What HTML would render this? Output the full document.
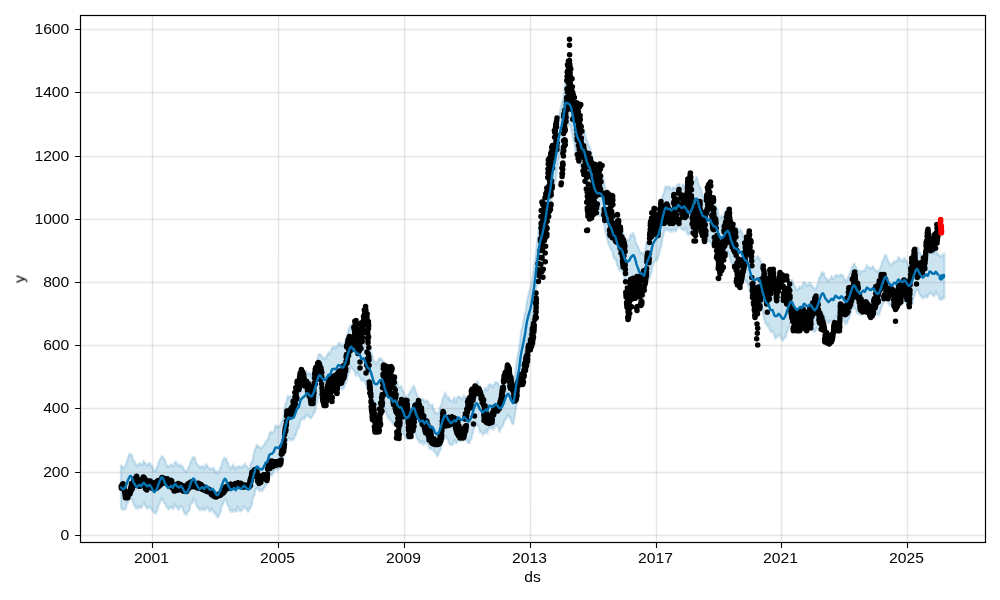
<!DOCTYPE html>
<html><head><meta charset="utf-8"><title>forecast</title>
<style>html,body{margin:0;padding:0;background:#fff;overflow:hidden}body{width:1000px;height:600px;font-family:"Liberation Sans",sans-serif}</style>
</head><body>
<svg width="1000" height="600" viewBox="0 0 1000 600" style="display:block">
<rect width="1000" height="600" fill="#fff"/>
<defs><clipPath id="c"><rect x="80.5" y="15.5" width="905.0" height="527.0"/></clipPath></defs>
<g clip-path="url(#c)">
<polygon points="120.9,465.3 121.4,465.8 121.8,465.9 122.3,466.6 122.7,466.9 123.2,468.2 123.6,468.8 124.1,467.1 124.5,466.4 125.0,466.5 125.4,465.7 125.9,464.4 126.3,462.7 126.8,462.1 127.2,461.2 127.7,458.5 128.1,457.5 128.6,455.6 129.0,454.7 129.5,453.7 129.9,454.3 130.4,453.6 130.8,454.8 131.3,455.6 131.7,455.4 132.2,454.9 132.6,457.5 133.1,459.6 133.5,460.7 134.0,460.4 134.4,461.6 134.9,462.1 135.3,463.2 135.8,465.1 136.2,464.8 136.7,465.7 137.1,466.0 137.6,464.7 138.0,464.5 138.5,464.5 138.9,463.8 139.4,462.7 139.8,463.4 140.3,464.6 140.7,463.5 141.2,465.3 141.6,465.0 142.1,463.9 142.5,464.8 143.0,463.1 143.4,460.5 143.9,461.5 144.3,462.5 144.8,462.5 145.2,463.5 145.7,463.8 146.1,464.9 146.6,465.7 147.0,464.4 147.5,464.8 147.9,464.7 148.4,464.3 148.8,463.0 149.3,462.8 149.7,463.6 150.2,465.2 150.6,465.7 151.1,464.4 151.5,465.5 152.0,467.2 152.4,466.5 152.9,468.3 153.3,469.8 153.8,471.3 154.2,471.3 154.7,470.4 155.1,469.7 155.6,469.7 156.0,470.3 156.5,468.2 156.9,467.0 157.4,466.6 157.8,465.2 158.3,463.5 158.7,461.5 159.2,460.8 159.6,459.9 160.1,460.0 160.5,458.7 161.0,457.2 161.4,456.9 161.9,456.0 162.3,456.9 162.8,457.0 163.2,457.5 163.7,457.5 164.1,459.4 164.6,459.2 165.0,459.9 165.5,461.9 165.9,462.7 166.4,464.7 166.8,466.7 167.3,465.3 167.7,465.7 168.2,466.8 168.6,466.8 169.1,466.0 169.5,465.7 170.0,466.2 170.4,465.5 170.9,464.1 171.3,464.2 171.8,464.9 172.2,464.9 172.7,466.1 173.1,465.7 173.6,466.0 174.0,464.8 174.5,463.5 174.9,462.1 175.4,462.3 175.8,461.4 176.3,462.5 176.7,463.9 177.2,463.3 177.6,465.3 178.1,464.6 178.5,466.0 179.0,465.7 179.4,466.7 179.9,465.6 180.3,464.2 180.8,465.7 181.2,466.4 181.7,465.7 182.1,465.8 182.6,466.3 183.0,466.9 183.5,469.1 183.9,469.1 184.4,470.1 184.8,470.0 185.3,470.3 185.7,470.7 186.2,472.4 186.6,471.5 187.1,471.4 187.5,470.3 188.0,468.6 188.4,467.8 188.9,466.9 189.3,466.1 189.8,464.6 190.2,463.0 190.7,460.9 191.1,460.6 191.6,461.2 192.0,458.7 192.5,457.2 192.9,458.0 193.4,458.1 193.8,456.5 194.3,457.4 194.7,457.6 195.2,458.3 195.6,461.2 196.1,462.4 196.5,463.2 197.0,463.5 197.4,464.8 197.9,465.0 198.3,465.6 198.8,465.6 199.2,466.5 199.7,468.4 200.1,467.3 200.6,467.3 201.0,466.8 201.5,466.1 201.9,465.9 202.4,466.4 202.8,465.7 203.3,466.2 203.7,467.3 204.2,468.8 204.6,468.3 205.1,467.0 205.5,465.1 206.0,463.9 206.4,465.0 206.9,465.7 207.3,465.4 207.8,466.3 208.2,467.3 208.7,468.0 209.1,468.5 209.6,468.1 210.0,469.1 210.5,468.0 210.9,469.2 211.4,469.0 211.8,469.0 212.3,469.4 212.7,469.2 213.2,467.3 213.6,467.3 214.1,469.5 214.5,469.5 215.0,471.0 215.4,472.2 215.9,471.1 216.3,471.1 216.8,473.3 217.2,473.9 217.7,473.4 218.1,472.9 218.6,471.5 219.0,470.4 219.5,470.2 219.9,468.6 220.4,467.3 220.8,467.6 221.3,466.2 221.7,464.7 222.2,462.3 222.6,461.1 223.1,459.7 223.5,458.8 224.0,458.6 224.4,457.6 224.9,457.7 225.3,458.6 225.8,459.8 226.2,458.3 226.7,460.6 227.1,461.6 227.6,462.5 228.0,462.5 228.5,464.1 228.9,465.9 229.4,466.3 229.8,466.9 230.3,467.7 230.7,469.3 231.2,468.4 231.6,466.4 232.1,466.7 232.5,465.4 233.0,464.3 233.4,466.5 233.9,468.1 234.3,467.0 234.8,466.4 235.2,467.4 235.7,469.6 236.1,468.8 236.6,467.7 237.0,466.8 237.5,466.3 237.9,466.3 238.4,466.7 238.8,466.6 239.3,466.1 239.7,467.1 240.2,467.0 240.6,468.0 241.1,466.5 241.5,466.9 242.0,466.9 242.4,466.0 242.9,467.5 243.3,466.7 243.8,464.5 244.2,465.2 244.7,464.7 245.1,463.0 245.6,465.1 246.0,466.1 246.5,466.4 246.9,466.2 247.4,467.3 247.8,468.0 248.3,469.1 248.7,468.7 249.2,468.0 249.6,468.0 250.1,465.8 250.5,464.3 251.0,462.6 251.4,463.8 251.9,462.7 252.3,460.7 252.8,458.5 253.2,456.0 253.7,454.0 254.1,452.0 254.6,450.4 255.0,449.3 255.5,448.9 255.9,447.2 256.4,445.3 256.8,444.6 257.3,444.9 257.7,446.6 258.2,446.8 258.6,446.7 259.1,446.8 259.5,446.6 260.0,447.6 260.4,448.5 260.9,447.8 261.3,447.7 261.8,447.9 262.2,447.9 262.7,446.3 263.1,446.0 263.6,445.2 264.0,445.3 264.5,443.6 264.9,443.7 265.4,443.4 265.8,441.2 266.3,440.6 266.7,441.0 267.2,440.7 267.6,438.8 268.1,438.5 268.5,438.1 269.0,434.9 269.4,433.2 269.9,432.4 270.3,432.8 270.8,431.6 271.2,431.7 271.7,433.1 272.1,432.1 272.6,432.9 273.0,432.9 273.5,431.5 273.9,431.0 274.4,430.6 274.8,427.8 275.3,425.7 275.7,425.2 276.2,426.4 276.6,427.6 277.1,427.2 277.5,425.7 278.0,425.6 278.4,426.2 278.9,427.0 279.3,426.4 279.8,426.3 280.2,425.9 280.7,424.3 281.1,423.2 281.6,422.1 282.0,420.6 282.5,419.5 282.9,418.8 283.4,416.1 283.8,412.9 284.3,409.6 284.7,408.3 285.2,404.8 285.6,403.3 286.1,403.4 286.5,401.7 287.0,399.0 287.4,396.5 287.9,395.9 288.3,395.9 288.8,397.0 289.2,398.2 289.7,397.0 290.1,396.1 290.6,396.2 291.0,397.0 291.5,396.8 291.9,396.0 292.4,396.4 292.8,395.9 293.3,397.3 293.7,397.6 294.2,396.3 294.6,394.0 295.1,393.1 295.5,391.6 296.0,390.0 296.4,388.5 296.9,386.5 297.3,385.8 297.8,387.1 298.2,386.6 298.7,386.5 299.1,385.0 299.6,381.4 300.0,380.0 300.5,379.4 300.9,378.4 301.4,377.6 301.8,378.0 302.3,376.9 302.7,375.3 303.2,375.3 303.6,376.4 304.1,375.3 304.5,373.5 305.0,375.5 305.4,375.1 305.9,374.4 306.3,372.3 306.8,371.1 307.2,371.4 307.7,374.0 308.1,373.1 308.6,374.0 309.0,373.2 309.5,373.5 309.9,373.0 310.4,374.5 310.8,375.5 311.3,374.5 311.7,375.9 312.2,374.7 312.6,372.7 313.1,372.0 313.5,371.2 314.0,370.2 314.4,368.5 314.9,367.0 315.3,365.5 315.8,363.3 316.2,361.4 316.7,361.0 317.1,360.2 317.6,357.2 318.0,356.4 318.5,354.9 318.9,354.0 319.4,354.4 319.8,354.2 320.3,355.2 320.7,354.4 321.2,355.6 321.6,356.0 322.1,356.5 322.5,357.7 323.0,357.8 323.4,358.4 323.9,358.1 324.3,357.5 324.8,358.4 325.2,359.2 325.7,358.9 326.1,357.0 326.6,356.2 327.0,354.7 327.5,355.2 327.9,353.3 328.4,351.9 328.8,353.2 329.3,354.1 329.7,352.4 330.2,352.3 330.6,351.3 331.1,350.0 331.5,349.7 332.0,347.7 332.4,347.1 332.9,347.9 333.3,347.2 333.8,347.7 334.2,346.8 334.7,346.3 335.1,346.5 335.6,348.7 336.0,347.5 336.5,347.2 336.9,346.4 337.4,345.6 337.8,345.0 338.3,345.2 338.7,343.1 339.2,342.3 339.6,342.7 340.1,343.3 340.5,345.5 341.0,346.0 341.4,345.0 341.9,344.7 342.3,345.9 342.8,346.6 343.2,344.1 343.7,344.8 344.1,343.8 344.6,344.0 345.0,341.7 345.5,340.4 345.9,338.4 346.4,337.7 346.8,338.0 347.3,336.1 347.7,333.1 348.2,330.7 348.6,328.7 349.1,328.4 349.5,327.6 350.0,326.6 350.4,325.5 350.9,324.3 351.3,325.2 351.8,325.9 352.2,327.7 352.7,329.0 353.1,328.2 353.6,328.3 354.0,329.0 354.5,329.0 354.9,329.2 355.4,329.9 355.8,329.9 356.3,331.3 356.7,331.8 357.2,332.2 357.6,332.1 358.1,331.8 358.5,331.9 359.0,332.7 359.4,333.0 359.9,333.8 360.3,334.4 360.8,334.7 361.2,336.5 361.7,336.7 362.1,336.8 362.6,336.6 363.0,335.4 363.5,336.6 363.9,337.6 364.4,338.4 364.8,339.1 365.3,340.1 365.7,341.0 366.2,342.5 366.6,343.7 367.1,344.7 367.5,344.9 368.0,346.7 368.4,347.1 368.9,346.9 369.3,347.0 369.8,347.8 370.2,347.8 370.7,350.4 371.1,351.9 371.6,353.4 372.0,354.9 372.5,355.7 372.9,357.6 373.4,359.8 373.8,360.9 374.3,361.4 374.7,361.3 375.2,363.0 375.6,364.1 376.1,364.1 376.5,362.9 377.0,361.5 377.4,362.7 377.9,361.5 378.3,359.2 378.8,360.1 379.2,358.4 379.7,357.9 380.1,358.5 380.6,359.5 381.0,358.3 381.5,358.8 381.9,360.3 382.4,360.7 382.8,360.4 383.3,360.7 383.7,361.4 384.2,363.7 384.6,366.5 385.1,368.3 385.5,369.4 386.0,370.9 386.4,371.0 386.9,372.6 387.3,374.5 387.8,375.8 388.2,377.1 388.7,376.7 389.1,376.2 389.6,376.5 390.0,375.5 390.5,375.3 390.9,377.1 391.4,377.2 391.8,377.8 392.3,377.5 392.7,379.2 393.2,379.9 393.6,379.0 394.1,377.8 394.5,379.0 395.0,379.9 395.4,380.1 395.9,380.2 396.3,381.3 396.8,382.2 397.2,380.9 397.7,383.4 398.1,385.2 398.6,386.3 399.0,387.6 399.5,387.7 399.9,386.7 400.4,386.5 400.8,386.5 401.3,385.9 401.7,387.2 402.2,389.2 402.6,390.7 403.1,390.4 403.5,391.3 404.0,393.0 404.4,395.1 404.9,395.4 405.3,396.7 405.8,395.9 406.2,396.5 406.7,396.7 407.1,397.5 407.6,397.2 408.0,394.7 408.5,394.3 408.9,394.7 409.4,393.1 409.8,391.6 410.3,392.3 410.7,391.2 411.2,390.0 411.6,388.7 412.1,388.7 412.5,387.4 413.0,387.5 413.4,385.8 413.9,385.9 414.3,387.4 414.8,387.9 415.2,390.1 415.7,391.3 416.1,391.9 416.6,393.7 417.0,394.8 417.5,396.3 417.9,396.3 418.4,397.4 418.8,399.9 419.3,402.0 419.7,402.3 420.2,400.5 420.6,400.4 421.1,401.1 421.5,399.7 422.0,398.8 422.4,399.5 422.9,399.7 423.3,399.2 423.8,399.2 424.2,400.4 424.7,402.2 425.1,401.0 425.6,400.7 426.0,400.7 426.5,400.3 426.9,400.3 427.4,401.2 427.8,401.0 428.3,401.8 428.7,402.7 429.2,404.9 429.6,404.9 430.1,404.7 430.5,405.4 431.0,406.2 431.4,406.3 431.9,404.5 432.3,404.4 432.8,406.1 433.2,409.3 433.7,409.2 434.1,409.0 434.6,411.0 435.0,412.8 435.5,411.8 435.9,412.3 436.4,413.7 436.8,413.6 437.3,413.6 437.7,412.9 438.2,414.0 438.6,413.3 439.1,411.6 439.5,409.7 440.0,406.9 440.4,407.2 440.9,405.8 441.3,404.6 441.8,403.1 442.2,400.4 442.7,398.1 443.1,398.0 443.6,396.3 444.0,395.1 444.5,394.2 444.9,393.2 445.4,392.2 445.8,394.8 446.3,395.2 446.7,396.8 447.2,398.3 447.6,397.4 448.1,396.5 448.5,397.4 449.0,398.1 449.4,399.3 449.9,400.1 450.3,399.5 450.8,401.3 451.2,400.8 451.7,401.4 452.1,401.0 452.6,400.4 453.0,400.0 453.5,399.2 453.9,398.3 454.4,397.3 454.8,399.3 455.3,401.7 455.7,402.5 456.2,401.6 456.6,399.7 457.1,397.9 457.5,398.1 458.0,396.3 458.4,396.2 458.9,396.4 459.3,396.9 459.8,397.0 460.2,397.5 460.7,397.3 461.1,398.4 461.6,400.2 462.0,398.7 462.5,398.1 462.9,398.0 463.4,397.2 463.8,395.1 464.3,395.7 464.7,397.1 465.2,397.0 465.6,397.5 466.1,398.8 466.5,398.0 467.0,398.7 467.4,399.6 467.9,400.6 468.3,398.6 468.8,399.1 469.2,399.5 469.7,399.8 470.1,399.4 470.6,398.7 471.0,395.6 471.5,395.6 471.9,393.9 472.4,392.2 472.8,391.2 473.3,388.3 473.7,385.8 474.2,385.5 474.6,383.9 475.1,383.5 475.5,383.5 476.0,383.3 476.4,383.3 476.9,382.0 477.3,381.1 477.8,381.9 478.2,383.0 478.7,384.2 479.1,386.5 479.6,386.5 480.0,386.4 480.5,388.8 480.9,389.4 481.4,390.1 481.8,390.7 482.3,391.5 482.7,391.5 483.2,391.8 483.6,391.0 484.1,390.3 484.5,389.5 485.0,387.8 485.4,388.0 485.9,387.9 486.3,388.5 486.8,388.3 487.2,390.6 487.7,389.1 488.1,386.4 488.6,384.8 489.0,384.8 489.5,384.1 489.9,383.9 490.4,384.4 490.8,384.3 491.3,385.2 491.7,384.8 492.2,385.6 492.6,386.9 493.1,387.6 493.5,385.0 494.0,384.3 494.4,383.7 494.9,383.8 495.3,381.9 495.8,382.2 496.2,382.9 496.7,382.5 497.1,382.8 497.6,383.4 498.0,382.9 498.5,384.0 498.9,385.8 499.4,386.6 499.8,386.2 500.3,385.3 500.7,386.3 501.2,387.1 501.6,386.6 502.1,385.3 502.5,383.9 503.0,383.8 503.4,382.1 503.9,380.2 504.3,379.5 504.8,379.9 505.2,378.2 505.7,377.4 506.1,375.4 506.6,374.9 507.0,373.1 507.5,373.2 507.9,374.7 508.4,373.9 508.8,373.1 509.3,373.9 509.7,375.8 510.2,377.5 510.6,377.2 511.1,377.1 511.5,378.8 512.0,380.1 512.4,381.2 512.9,382.7 513.3,382.3 513.8,380.1 514.2,376.5 514.7,375.0 515.1,373.2 515.6,369.3 516.0,365.6 516.5,362.7 516.9,360.5 517.4,355.9 517.8,354.1 518.3,352.7 518.7,350.7 519.2,346.8 519.6,343.5 520.1,339.8 520.5,336.4 521.0,332.8 521.4,329.9 521.9,328.6 522.3,327.0 522.8,323.7 523.2,322.0 523.7,320.5 524.1,317.1 524.6,315.0 525.0,312.3 525.5,311.4 525.9,309.7 526.4,306.1 526.8,301.4 527.3,299.7 527.7,297.5 528.2,295.7 528.6,294.6 529.1,291.4 529.5,291.0 530.0,289.3 530.4,288.6 530.9,285.6 531.3,282.8 531.8,281.5 532.2,279.3 532.7,275.9 533.1,273.0 533.6,268.9 534.0,264.5 534.5,263.3 534.9,260.2 535.4,256.0 535.8,252.2 536.3,248.8 536.7,244.0 537.2,240.0 537.6,237.2 538.1,234.4 538.5,229.8 539.0,228.0 539.4,223.9 539.9,221.4 540.3,220.8 540.8,217.8 541.2,215.3 541.7,214.6 542.1,214.4 542.6,212.7 543.0,209.6 543.5,208.0 543.9,206.1 544.4,203.2 544.8,201.6 545.3,199.3 545.7,196.1 546.2,193.1 546.6,190.5 547.1,187.4 547.5,183.9 548.0,181.1 548.4,179.2 548.9,176.1 549.3,174.4 549.8,172.5 550.2,170.2 550.7,167.5 551.1,162.0 551.6,158.9 552.0,155.1 552.5,153.5 552.9,150.8 553.4,145.6 553.8,143.8 554.3,143.2 554.7,141.5 555.2,139.2 555.6,136.2 556.1,134.0 556.5,131.6 557.0,128.5 557.4,125.4 557.9,120.3 558.3,118.6 558.8,116.1 559.2,115.0 559.7,112.2 560.1,109.7 560.6,108.6 561.0,106.0 561.5,103.8 561.9,101.8 562.4,100.8 562.8,99.5 563.3,97.5 563.7,93.9 564.2,91.2 564.6,87.4 565.1,84.0 565.5,81.7 566.0,82.4 566.4,81.8 566.9,81.7 567.3,81.8 567.8,81.9 568.2,81.6 568.7,83.1 569.1,82.8 569.6,83.3 570.0,83.2 570.5,84.8 570.9,85.8 571.4,87.6 571.8,91.1 572.3,92.6 572.7,95.9 573.2,97.8 573.6,99.0 574.1,101.2 574.5,104.0 575.0,105.9 575.4,107.8 575.9,109.3 576.3,110.3 576.8,113.0 577.2,113.4 577.7,116.0 578.1,116.7 578.6,117.6 579.0,118.9 579.5,119.9 579.9,119.4 580.4,120.1 580.8,122.2 581.3,123.4 581.7,126.4 582.2,128.6 582.6,127.6 583.1,128.4 583.5,127.7 584.0,129.4 584.4,130.9 584.9,132.7 585.3,135.2 585.8,137.7 586.2,138.4 586.7,139.5 587.1,140.3 587.6,142.6 588.0,143.8 588.5,145.3 588.9,145.9 589.4,147.1 589.8,145.6 590.3,148.2 590.7,151.1 591.2,152.0 591.6,153.4 592.1,155.7 592.5,157.4 593.0,161.1 593.4,165.2 593.9,165.9 594.3,165.5 594.8,167.0 595.2,168.6 595.7,170.3 596.1,169.9 596.6,170.6 597.0,172.3 597.5,172.7 597.9,171.8 598.4,170.8 598.8,170.4 599.3,170.6 599.7,170.2 600.2,172.3 600.6,172.2 601.1,173.4 601.5,175.2 602.0,175.1 602.4,174.4 602.9,177.5 603.3,179.6 603.8,180.1 604.2,182.3 604.7,185.1 605.1,187.1 605.6,190.5 606.0,190.0 606.5,192.3 606.9,195.2 607.4,197.3 607.8,199.5 608.3,201.4 608.7,202.3 609.2,203.5 609.6,202.3 610.1,204.1 610.5,204.9 611.0,206.3 611.4,207.2 611.9,207.6 612.3,209.6 612.8,212.5 613.2,213.9 613.7,213.8 614.1,216.2 614.6,216.5 615.0,214.1 615.5,216.2 615.9,219.6 616.4,220.1 616.8,220.9 617.3,222.0 617.7,223.4 618.2,224.5 618.6,225.3 619.1,226.8 619.5,226.8 620.0,226.6 620.4,226.2 620.9,226.8 621.3,226.8 621.8,228.6 622.2,230.7 622.7,231.5 623.1,232.7 623.6,234.0 624.0,235.1 624.5,236.3 624.9,237.6 625.4,239.0 625.8,239.1 626.3,241.3 626.7,240.6 627.2,239.8 627.6,239.8 628.1,239.6 628.5,239.7 629.0,239.1 629.4,239.6 629.9,237.2 630.3,235.0 630.8,234.9 631.2,233.9 631.7,234.9 632.1,235.7 632.6,234.6 633.0,232.8 633.5,233.4 633.9,235.7 634.4,236.0 634.8,236.7 635.3,239.3 635.7,242.2 636.2,243.0 636.6,243.6 637.1,244.8 637.5,246.1 638.0,246.2 638.4,247.0 638.9,248.9 639.3,249.6 639.8,251.4 640.2,252.4 640.7,253.8 641.1,252.0 641.6,252.1 642.0,252.5 642.5,253.3 642.9,253.8 643.4,253.3 643.8,253.5 644.3,251.9 644.7,251.4 645.2,250.3 645.6,247.5 646.1,244.3 646.5,242.2 647.0,241.2 647.4,240.3 647.9,238.5 648.3,237.2 648.8,235.1 649.2,234.9 649.7,235.5 650.1,231.9 650.6,231.5 651.0,230.9 651.5,228.5 651.9,226.1 652.4,224.7 652.8,223.2 653.3,221.8 653.7,219.7 654.2,219.7 654.6,218.8 655.1,218.5 655.5,218.6 656.0,218.7 656.4,217.8 656.9,215.9 657.3,216.5 657.8,216.5 658.2,215.3 658.7,213.9 659.1,211.4 659.6,209.7 660.0,208.4 660.5,205.3 660.9,204.2 661.4,201.8 661.8,199.4 662.3,196.3 662.7,194.9 663.2,194.2 663.6,193.3 664.1,191.5 664.5,189.2 665.0,187.5 665.4,186.3 665.9,186.8 666.3,186.4 666.8,187.4 667.2,188.6 667.7,187.5 668.1,186.4 668.6,186.5 669.0,186.0 669.5,186.6 669.9,188.4 670.4,188.3 670.8,187.6 671.3,189.7 671.7,189.9 672.2,188.2 672.6,187.3 673.1,187.2 673.5,187.5 674.0,187.6 674.4,187.7 674.9,188.1 675.3,188.6 675.8,189.1 676.2,188.1 676.7,185.5 677.1,185.4 677.6,185.0 678.0,183.8 678.5,184.5 678.9,183.9 679.4,184.0 679.8,186.2 680.3,186.4 680.7,186.5 681.2,187.3 681.6,187.6 682.1,186.6 682.5,184.6 683.0,185.0 683.4,185.0 683.9,184.3 684.3,185.4 684.8,186.7 685.2,185.9 685.7,186.2 686.1,189.0 686.6,188.3 687.0,188.3 687.5,190.4 687.9,191.2 688.4,191.0 688.8,192.2 689.3,191.5 689.7,190.6 690.2,191.0 690.6,190.9 691.1,189.2 691.5,188.7 692.0,188.2 692.4,188.7 692.9,185.4 693.3,184.7 693.8,182.5 694.2,181.2 694.7,180.8 695.1,180.1 695.6,179.2 696.0,177.7 696.5,176.7 696.9,177.4 697.4,179.3 697.8,180.8 698.3,182.9 698.7,184.1 699.2,186.3 699.6,188.1 700.1,188.0 700.5,187.6 701.0,188.6 701.4,190.3 701.9,193.4 702.3,193.6 702.8,195.7 703.2,196.0 703.7,196.8 704.1,196.4 704.6,195.5 705.0,195.4 705.5,195.8 705.9,195.9 706.4,196.4 706.8,198.1 707.3,199.9 707.7,198.4 708.2,198.7 708.6,198.0 709.1,198.5 709.5,198.6 710.0,198.7 710.4,199.5 710.9,199.1 711.3,201.4 711.8,201.8 712.2,203.3 712.7,203.4 713.1,201.9 713.6,203.7 714.0,205.7 714.5,206.7 714.9,205.8 715.4,205.1 715.8,204.8 716.3,207.9 716.7,209.4 717.2,208.9 717.6,209.3 718.1,209.9 718.5,213.4 719.0,216.5 719.4,216.2 719.9,216.9 720.3,216.9 720.8,216.4 721.2,217.4 721.7,215.9 722.1,216.2 722.6,216.6 723.0,216.6 723.5,215.9 723.9,214.9 724.4,212.9 724.8,211.7 725.3,211.6 725.7,210.5 726.2,209.3 726.6,208.8 727.1,208.6 727.5,207.7 728.0,207.8 728.4,208.6 728.9,211.2 729.3,213.1 729.8,215.4 730.2,214.6 730.7,216.6 731.1,219.5 731.6,220.0 732.0,221.3 732.5,223.7 732.9,223.4 733.4,223.4 733.8,224.6 734.3,226.7 734.7,226.9 735.2,225.7 735.6,226.2 736.1,227.7 736.5,228.0 737.0,227.5 737.4,228.4 737.9,229.3 738.3,228.7 738.8,230.7 739.2,231.8 739.7,230.4 740.1,229.0 740.6,230.1 741.0,231.2 741.5,232.2 741.9,231.2 742.4,234.6 742.8,234.0 743.3,236.2 743.7,237.9 744.2,238.4 744.6,238.2 745.1,238.0 745.5,239.6 746.0,238.5 746.4,237.9 746.9,241.7 747.3,242.0 747.8,243.1 748.2,242.6 748.7,245.7 749.1,248.1 749.6,249.7 750.0,250.0 750.5,250.9 750.9,252.5 751.4,252.6 751.8,254.4 752.3,256.7 752.7,256.8 753.2,257.8 753.6,259.0 754.1,260.6 754.5,260.3 755.0,259.3 755.4,259.5 755.9,257.8 756.3,257.6 756.8,257.9 757.2,256.5 757.7,256.5 758.1,256.1 758.6,257.4 759.0,258.9 759.5,257.9 759.9,259.2 760.4,260.0 760.8,261.0 761.3,263.7 761.7,268.2 762.2,271.2 762.6,271.4 763.1,271.8 763.5,274.0 764.0,275.2 764.4,277.3 764.9,278.6 765.3,280.1 765.8,281.2 766.2,280.8 766.7,280.9 767.1,280.6 767.6,281.6 768.0,281.8 768.5,283.0 768.9,283.4 769.4,285.5 769.8,287.0 770.3,287.1 770.7,287.6 771.2,288.0 771.6,289.5 772.1,290.5 772.5,289.7 773.0,290.2 773.4,292.0 773.9,291.8 774.3,294.7 774.8,293.5 775.2,292.8 775.7,296.7 776.1,296.4 776.6,294.3 777.0,294.5 777.5,293.8 777.9,293.0 778.4,291.2 778.8,292.0 779.3,293.4 779.7,294.1 780.2,295.1 780.6,295.5 781.1,297.2 781.5,296.0 782.0,296.6 782.4,295.3 782.9,296.2 783.3,298.3 783.8,296.9 784.2,296.9 784.7,295.8 785.1,294.3 785.6,293.5 786.0,292.4 786.5,291.5 786.9,291.1 787.4,289.5 787.8,286.8 788.3,285.1 788.7,284.8 789.2,283.8 789.6,283.8 790.1,284.0 790.5,282.0 791.0,280.2 791.4,280.0 791.9,279.8 792.3,280.0 792.8,281.2 793.2,282.8 793.7,284.2 794.1,285.8 794.6,285.7 795.0,286.0 795.5,286.3 795.9,288.8 796.4,289.3 796.8,290.5 797.3,290.0 797.7,289.6 798.2,288.0 798.6,288.4 799.1,289.0 799.5,286.1 800.0,286.9 800.4,287.3 800.9,286.9 801.3,287.4 801.8,287.9 802.2,286.0 802.7,285.3 803.1,283.4 803.6,282.3 804.0,281.8 804.5,282.5 804.9,283.2 805.4,283.5 805.8,283.1 806.3,285.9 806.7,286.2 807.2,285.6 807.6,284.7 808.1,284.9 808.5,285.3 809.0,284.3 809.4,282.4 809.9,283.9 810.3,285.6 810.8,283.0 811.2,284.8 811.7,285.3 812.1,285.9 812.6,287.3 813.0,286.4 813.5,288.2 813.9,289.5 814.4,288.7 814.8,288.5 815.3,288.5 815.7,287.9 816.2,288.4 816.6,286.4 817.1,285.9 817.5,283.8 818.0,283.8 818.4,281.6 818.9,278.3 819.3,278.3 819.8,276.7 820.2,276.2 820.7,276.3 821.1,273.3 821.6,272.3 822.0,273.6 822.5,272.6 822.9,273.7 823.4,273.1 823.8,272.5 824.3,274.3 824.7,276.7 825.2,277.6 825.6,277.5 826.1,277.9 826.5,278.2 827.0,278.9 827.4,281.1 827.9,280.3 828.3,279.6 828.8,280.0 829.2,280.7 829.7,280.3 830.1,279.0 830.6,278.1 831.0,277.7 831.5,276.0 831.9,276.2 832.4,278.2 832.8,278.2 833.3,279.3 833.7,279.3 834.2,277.9 834.6,276.7 835.1,277.0 835.5,275.4 836.0,274.7 836.4,275.6 836.9,275.7 837.3,275.1 837.8,276.0 838.2,276.1 838.7,274.9 839.1,276.1 839.6,276.5 840.0,275.8 840.5,274.4 840.9,274.7 841.4,274.7 841.8,275.1 842.3,274.9 842.7,276.2 843.2,275.8 843.6,277.4 844.1,279.3 844.5,278.7 845.0,279.6 845.4,281.0 845.9,280.4 846.3,280.6 846.8,280.8 847.2,280.3 847.7,277.3 848.1,277.0 848.6,276.1 849.0,275.0 849.5,274.1 849.9,273.0 850.4,272.2 850.8,270.2 851.3,269.5 851.7,268.5 852.2,266.6 852.6,266.2 853.1,266.5 853.5,264.9 854.0,263.3 854.4,263.8 854.9,263.9 855.3,265.5 855.8,267.0 856.2,266.9 856.7,268.5 857.1,270.1 857.6,269.7 858.0,270.3 858.5,270.0 858.9,270.5 859.4,271.9 859.8,274.2 860.3,272.4 860.7,271.3 861.2,270.8 861.6,270.9 862.1,271.1 862.5,270.8 863.0,271.4 863.4,270.4 863.9,271.2 864.3,271.0 864.8,271.0 865.2,268.7 865.7,268.4 866.1,267.7 866.6,266.2 867.0,264.7 867.5,266.8 867.9,266.7 868.4,266.8 868.8,267.4 869.3,268.0 869.7,268.6 870.2,267.4 870.6,267.7 871.1,268.9 871.5,268.5 872.0,267.4 872.4,266.5 872.9,265.9 873.3,267.2 873.8,268.4 874.2,267.8 874.7,270.0 875.1,270.5 875.6,270.3 876.0,271.4 876.5,270.4 876.9,270.1 877.4,271.0 877.8,272.1 878.3,271.8 878.7,271.2 879.2,270.6 879.6,268.6 880.1,268.8 880.5,266.9 881.0,266.1 881.4,264.8 881.9,262.7 882.3,261.0 882.8,260.1 883.2,260.0 883.7,259.5 884.1,258.1 884.6,256.0 885.0,255.1 885.5,254.9 885.9,255.9 886.4,255.2 886.8,257.8 887.3,258.1 887.7,258.8 888.2,261.0 888.6,262.3 889.1,262.5 889.5,263.4 890.0,263.5 890.4,264.8 890.9,265.3 891.3,265.1 891.8,265.4 892.2,264.2 892.7,263.2 893.1,262.0 893.6,262.1 894.0,262.2 894.5,260.6 894.9,261.8 895.4,262.3 895.8,262.1 896.3,260.8 896.7,261.2 897.2,261.0 897.6,259.1 898.1,258.0 898.5,256.5 899.0,258.5 899.4,258.6 899.9,259.4 900.3,258.4 900.8,260.2 901.2,260.6 901.7,261.0 902.1,259.9 902.6,260.5 903.0,261.9 903.5,259.3 903.9,258.2 904.4,258.1 904.8,258.5 905.3,260.8 905.7,261.6 906.2,260.2 906.6,260.2 907.1,263.2 907.5,264.5 908.0,265.0 908.4,265.1 908.9,263.9 909.3,264.1 909.8,262.6 910.2,262.2 910.7,263.3 911.1,262.1 911.6,262.7 912.0,260.3 912.5,258.4 912.9,258.2 913.4,257.6 913.8,254.9 914.3,252.2 914.7,252.2 915.2,251.8 915.6,249.2 916.1,248.1 916.5,248.8 917.0,247.8 917.4,247.1 917.9,247.8 918.3,248.6 918.8,250.5 919.2,251.9 919.7,253.8 920.1,253.7 920.6,252.7 921.0,254.6 921.5,255.8 921.9,256.2 922.4,256.8 922.8,256.1 923.3,255.4 923.7,256.0 924.2,254.0 924.6,252.9 925.1,254.5 925.5,253.3 926.0,252.5 926.4,251.9 926.9,252.2 927.3,252.9 927.8,253.9 928.2,253.2 928.7,250.7 929.1,251.3 929.6,249.4 930.0,249.2 930.5,250.8 930.9,250.5 931.4,250.3 931.8,252.7 932.3,251.8 932.7,252.4 933.2,253.0 933.6,253.7 934.1,252.7 934.5,252.7 935.0,251.3 935.4,251.5 935.9,250.2 936.3,251.1 936.8,253.2 937.2,252.7 937.7,253.4 938.1,255.5 938.6,254.9 939.0,254.9 939.5,255.8 939.9,255.2 940.4,257.0 940.8,257.4 941.3,255.7 941.7,255.3 942.2,255.7 942.6,255.3 943.1,254.5 943.5,254.9 944.0,253.2 944.4,253.9 944.4,298.3 944.0,297.0 943.5,299.0 943.1,298.8 942.6,297.5 942.2,298.5 941.7,300.0 941.3,298.7 940.8,299.7 940.4,298.1 939.9,298.0 939.5,299.4 939.0,298.7 938.6,296.3 938.1,294.8 937.7,294.9 937.2,294.6 936.8,294.2 936.3,293.8 935.9,291.3 935.4,293.6 935.0,294.9 934.5,295.8 934.1,296.6 933.6,296.0 933.2,294.8 932.7,295.1 932.3,294.3 931.8,294.5 931.4,294.1 930.9,293.8 930.5,292.3 930.0,292.8 929.6,292.8 929.1,294.0 928.7,295.6 928.2,295.0 927.8,295.9 927.3,297.7 926.9,297.8 926.4,297.6 926.0,295.6 925.5,296.1 925.1,296.5 924.6,297.8 924.2,297.2 923.7,296.7 923.3,297.5 922.8,297.1 922.4,298.7 921.9,297.4 921.5,296.6 921.0,295.9 920.6,296.3 920.1,295.6 919.7,294.0 919.2,293.6 918.8,292.3 918.3,291.0 917.9,289.7 917.4,290.1 917.0,290.1 916.5,290.7 916.1,290.2 915.6,292.1 915.2,294.0 914.7,295.0 914.3,295.9 913.8,296.5 913.4,297.9 912.9,300.5 912.5,304.0 912.0,302.9 911.6,303.7 911.1,305.1 910.7,305.7 910.2,307.1 909.8,306.7 909.3,306.3 908.9,307.0 908.4,308.6 908.0,306.3 907.5,304.2 907.1,305.1 906.6,303.5 906.2,302.8 905.7,302.0 905.3,302.3 904.8,302.3 904.4,302.0 903.9,302.4 903.5,302.5 903.0,302.7 902.6,303.4 902.1,304.0 901.7,304.0 901.2,303.8 900.8,303.8 900.3,301.8 899.9,300.5 899.4,300.9 899.0,301.3 898.5,302.1 898.1,301.9 897.6,303.2 897.2,302.9 896.7,302.9 896.3,304.1 895.8,304.7 895.4,303.8 894.9,303.1 894.5,303.9 894.0,304.6 893.6,305.4 893.1,304.9 892.7,305.4 892.2,306.1 891.8,306.9 891.3,306.6 890.9,304.6 890.4,304.8 890.0,305.7 889.5,305.6 889.1,304.5 888.6,303.2 888.2,303.1 887.7,301.9 887.3,299.8 886.8,299.0 886.4,299.7 885.9,299.7 885.5,299.0 885.0,297.5 884.6,298.0 884.1,299.0 883.7,302.3 883.2,304.0 882.8,304.2 882.3,304.5 881.9,306.8 881.4,308.0 881.0,308.6 880.5,310.4 880.1,312.1 879.6,313.4 879.2,315.2 878.7,314.1 878.3,313.7 877.8,315.5 877.4,314.4 876.9,314.1 876.5,313.9 876.0,314.1 875.6,312.9 875.1,310.3 874.7,310.5 874.2,310.1 873.8,308.3 873.3,309.0 872.9,309.3 872.4,311.4 872.0,311.5 871.5,311.0 871.1,311.4 870.6,311.1 870.2,310.4 869.7,311.3 869.3,311.2 868.8,310.2 868.4,310.0 867.9,309.1 867.5,309.6 867.0,309.8 866.6,309.8 866.1,310.4 865.7,309.8 865.2,310.8 864.8,311.3 864.3,311.8 863.9,311.8 863.4,312.3 863.0,312.4 862.5,312.5 862.1,313.6 861.6,312.9 861.2,314.6 860.7,315.4 860.3,315.0 859.8,313.4 859.4,313.0 858.9,313.8 858.5,314.2 858.0,313.8 857.6,312.3 857.1,312.0 856.7,312.7 856.2,312.0 855.8,310.0 855.3,308.9 854.9,307.9 854.4,307.3 854.0,306.5 853.5,307.5 853.1,308.8 852.6,308.6 852.2,309.3 851.7,310.2 851.3,312.1 850.8,313.1 850.4,314.5 849.9,315.9 849.5,317.7 849.0,318.8 848.6,319.7 848.1,319.8 847.7,321.6 847.2,323.6 846.8,322.1 846.3,321.8 845.9,324.2 845.4,324.3 845.0,322.4 844.5,321.3 844.1,321.1 843.6,321.1 843.2,319.8 842.7,319.5 842.3,316.7 841.8,317.4 841.4,318.8 840.9,318.8 840.5,317.3 840.0,318.4 839.6,320.7 839.1,320.0 838.7,318.6 838.2,318.3 837.8,319.2 837.3,318.3 836.9,316.4 836.4,318.6 836.0,317.3 835.5,316.7 835.1,316.6 834.6,317.8 834.2,320.5 833.7,320.2 833.3,320.8 832.8,321.1 832.4,321.3 831.9,321.9 831.5,320.9 831.0,320.5 830.6,321.1 830.1,321.6 829.7,322.9 829.2,322.8 828.8,323.6 828.3,322.7 827.9,321.0 827.4,321.4 827.0,321.3 826.5,320.3 826.1,321.2 825.6,318.6 825.2,317.5 824.7,316.4 824.3,317.2 823.8,314.9 823.4,314.8 822.9,313.4 822.5,314.9 822.0,315.4 821.6,315.9 821.1,316.7 820.7,318.2 820.2,318.7 819.8,321.0 819.3,322.1 818.9,324.1 818.4,325.1 818.0,326.4 817.5,326.8 817.1,328.4 816.6,328.6 816.2,329.8 815.7,330.4 815.3,331.3 814.8,332.2 814.4,332.3 813.9,331.0 813.5,330.8 813.0,329.9 812.6,331.0 812.1,329.8 811.7,327.1 811.2,326.7 810.8,326.1 810.3,326.0 809.9,325.3 809.4,325.3 809.0,326.9 808.5,328.0 808.1,328.7 807.6,328.7 807.2,328.0 806.7,327.5 806.3,326.9 805.8,325.5 805.4,325.9 804.9,326.2 804.5,325.3 804.0,324.8 803.6,327.8 803.1,327.6 802.7,327.6 802.2,328.1 801.8,329.9 801.3,328.9 800.9,328.1 800.4,329.7 800.0,328.4 799.5,329.1 799.1,330.3 798.6,330.0 798.2,330.7 797.7,331.9 797.3,330.2 796.8,331.4 796.4,330.8 795.9,329.2 795.5,328.9 795.0,328.9 794.6,327.5 794.1,326.8 793.7,326.1 793.2,325.8 792.8,325.0 792.3,324.0 791.9,324.1 791.4,323.0 791.0,322.7 790.5,323.3 790.1,323.7 789.6,324.8 789.2,326.8 788.7,327.2 788.3,328.3 787.8,329.9 787.4,331.5 786.9,332.7 786.5,333.3 786.0,336.8 785.6,337.4 785.1,337.4 784.7,337.8 784.2,338.7 783.8,338.9 783.3,339.6 782.9,341.0 782.4,339.6 782.0,338.8 781.5,338.7 781.1,338.1 780.6,336.3 780.2,335.3 779.7,334.2 779.3,335.1 778.8,335.7 778.4,335.9 777.9,337.0 777.5,336.2 777.0,336.7 776.6,336.6 776.1,337.7 775.7,338.8 775.2,338.4 774.8,336.2 774.3,335.5 773.9,333.7 773.4,332.2 773.0,331.9 772.5,332.1 772.1,331.7 771.6,332.3 771.2,331.3 770.7,331.6 770.3,330.2 769.8,330.6 769.4,328.6 768.9,327.2 768.5,325.5 768.0,324.2 767.6,325.5 767.1,326.3 766.7,325.5 766.2,323.4 765.8,323.1 765.3,323.3 764.9,320.7 764.4,319.1 764.0,317.8 763.5,316.2 763.1,313.4 762.6,312.0 762.2,310.7 761.7,309.7 761.3,307.1 760.8,305.7 760.4,304.8 759.9,302.3 759.5,301.6 759.0,300.4 758.6,300.9 758.1,300.9 757.7,299.3 757.2,298.4 756.8,299.1 756.3,300.6 755.9,301.0 755.4,301.8 755.0,301.3 754.5,299.9 754.1,300.6 753.6,300.4 753.2,299.8 752.7,299.2 752.3,300.0 751.8,300.1 751.4,298.5 750.9,296.0 750.5,293.4 750.0,291.1 749.6,290.1 749.1,289.5 748.7,286.4 748.2,285.4 747.8,284.8 747.3,282.8 746.9,280.6 746.4,282.0 746.0,282.0 745.5,281.1 745.1,280.7 744.6,279.9 744.2,279.8 743.7,279.8 743.3,279.6 742.8,277.6 742.4,276.4 741.9,275.9 741.5,275.1 741.0,273.6 740.6,274.2 740.1,275.0 739.7,274.3 739.2,274.7 738.8,274.4 738.3,273.6 737.9,272.5 737.4,270.5 737.0,272.7 736.5,272.3 736.1,270.6 735.6,270.1 735.2,270.3 734.7,268.3 734.3,268.3 733.8,268.1 733.4,267.7 732.9,268.4 732.5,265.8 732.0,263.5 731.6,263.4 731.1,262.3 730.7,260.3 730.2,258.6 729.8,257.4 729.3,256.0 728.9,255.4 728.4,253.4 728.0,252.8 727.5,251.7 727.1,251.8 726.6,251.6 726.2,253.1 725.7,254.5 725.3,255.6 724.8,257.0 724.4,256.8 723.9,257.5 723.5,257.3 723.0,258.0 722.6,258.5 722.1,259.3 721.7,260.8 721.2,259.6 720.8,260.3 720.3,259.4 719.9,257.5 719.4,257.2 719.0,256.2 718.5,254.7 718.1,254.7 717.6,253.9 717.2,252.2 716.7,250.7 716.3,250.6 715.8,249.1 715.4,248.2 714.9,246.8 714.5,246.4 714.0,247.5 713.6,247.7 713.1,247.1 712.7,247.1 712.2,246.1 711.8,244.4 711.3,243.6 710.9,243.1 710.4,242.9 710.0,242.1 709.5,240.6 709.1,241.2 708.6,241.2 708.2,240.6 707.7,240.6 707.3,241.2 706.8,241.1 706.4,239.3 705.9,238.3 705.5,240.3 705.0,239.2 704.6,238.9 704.1,237.1 703.7,237.2 703.2,237.4 702.8,237.3 702.3,237.1 701.9,235.8 701.4,233.3 701.0,231.4 700.5,230.9 700.1,230.9 699.6,230.9 699.2,227.4 698.7,225.4 698.3,224.0 697.8,222.5 697.4,221.1 696.9,220.6 696.5,220.8 696.0,220.9 695.6,219.3 695.1,220.1 694.7,222.6 694.2,224.9 693.8,226.1 693.3,227.2 692.9,228.6 692.4,229.8 692.0,229.4 691.5,231.1 691.1,232.6 690.6,232.9 690.2,233.0 689.7,232.1 689.3,234.5 688.8,234.7 688.4,235.2 687.9,233.2 687.5,234.4 687.0,232.5 686.6,230.5 686.1,227.8 685.7,228.5 685.2,229.4 684.8,229.9 684.3,230.6 683.9,228.8 683.4,230.0 683.0,229.5 682.5,230.2 682.1,229.7 681.6,228.7 681.2,228.0 680.7,227.9 680.3,227.6 679.8,227.6 679.4,226.5 678.9,226.0 678.5,227.2 678.0,227.8 677.6,227.9 677.1,228.6 676.7,229.9 676.2,231.4 675.8,231.0 675.3,230.2 674.9,229.5 674.4,229.8 674.0,231.1 673.5,230.3 673.1,231.6 672.6,229.7 672.2,229.9 671.7,231.6 671.3,231.5 670.8,229.9 670.4,232.0 669.9,230.5 669.5,229.8 669.0,230.4 668.6,230.6 668.1,230.6 667.7,230.4 667.2,229.4 666.8,229.7 666.3,228.1 665.9,229.2 665.4,230.6 665.0,229.7 664.5,231.3 664.1,232.8 663.6,234.2 663.2,236.1 662.7,238.5 662.3,240.4 661.8,243.2 661.4,245.3 660.9,247.5 660.5,248.8 660.0,250.4 659.6,251.7 659.1,255.3 658.7,256.1 658.2,256.6 657.8,258.2 657.3,260.3 656.9,259.2 656.4,258.0 656.0,261.0 655.5,260.8 655.1,261.1 654.6,262.1 654.2,262.4 653.7,262.9 653.3,264.9 652.8,264.4 652.4,266.2 651.9,270.0 651.5,272.0 651.0,274.2 650.6,275.1 650.1,276.8 649.7,278.1 649.2,278.5 648.8,278.7 648.3,279.2 647.9,280.8 647.4,283.1 647.0,283.1 646.5,285.6 646.1,288.4 645.6,290.2 645.2,291.0 644.7,294.2 644.3,297.6 643.8,296.9 643.4,294.9 642.9,294.9 642.5,295.1 642.0,294.4 641.6,293.7 641.1,293.8 640.7,293.7 640.2,292.7 639.8,294.3 639.3,293.3 638.9,291.7 638.4,290.6 638.0,289.3 637.5,286.4 637.1,284.3 636.6,283.7 636.2,283.4 635.7,282.1 635.3,279.4 634.8,279.3 634.4,279.3 633.9,276.0 633.5,275.4 633.0,276.9 632.6,277.7 632.1,278.1 631.7,278.5 631.2,277.7 630.8,279.8 630.3,280.8 629.9,280.8 629.4,281.8 629.0,282.7 628.5,283.4 628.1,284.7 627.6,283.6 627.2,283.5 626.7,283.1 626.3,281.9 625.8,281.4 625.4,279.8 624.9,279.9 624.5,279.1 624.0,278.0 623.6,275.6 623.1,273.9 622.7,272.5 622.2,272.4 621.8,269.7 621.3,269.3 620.9,269.5 620.4,269.8 620.0,270.7 619.5,269.8 619.1,269.4 618.6,269.3 618.2,267.1 617.7,265.9 617.3,265.8 616.8,264.6 616.4,261.8 615.9,260.2 615.5,258.3 615.0,257.8 614.6,258.6 614.1,259.0 613.7,257.8 613.2,256.6 612.8,253.6 612.3,252.0 611.9,250.7 611.4,250.3 611.0,249.3 610.5,248.8 610.1,247.1 609.6,247.0 609.2,245.2 608.7,244.5 608.3,243.1 607.8,241.2 607.4,239.6 606.9,237.1 606.5,236.6 606.0,235.3 605.6,231.8 605.1,230.5 604.7,227.8 604.2,225.0 603.8,223.9 603.3,221.0 602.9,218.6 602.4,217.8 602.0,216.1 601.5,215.9 601.1,215.4 600.6,216.1 600.2,216.6 599.7,215.6 599.3,213.2 598.8,215.9 598.4,214.0 597.9,214.9 597.5,213.4 597.0,212.0 596.6,214.4 596.1,212.6 595.7,210.9 595.2,211.7 594.8,210.1 594.3,208.5 593.9,207.5 593.4,205.8 593.0,203.4 592.5,201.0 592.1,198.6 591.6,197.0 591.2,195.4 590.7,192.9 590.3,192.0 589.8,190.4 589.4,190.4 588.9,188.9 588.5,187.6 588.0,186.0 587.6,183.9 587.1,182.8 586.7,182.1 586.2,179.2 585.8,178.8 585.3,175.2 584.9,174.0 584.4,172.8 584.0,172.3 583.5,171.5 583.1,172.1 582.6,172.1 582.2,170.7 581.7,170.5 581.3,169.5 580.8,166.2 580.4,164.9 579.9,163.9 579.5,162.4 579.0,161.6 578.6,161.4 578.1,160.7 577.7,158.5 577.2,157.3 576.8,156.3 576.3,155.1 575.9,153.1 575.4,151.8 575.0,149.0 574.5,144.9 574.1,142.2 573.6,141.6 573.2,139.8 572.7,137.5 572.3,134.0 571.8,132.8 571.4,130.1 570.9,127.8 570.5,125.9 570.0,124.8 569.6,124.7 569.1,125.1 568.7,125.6 568.2,124.2 567.8,123.5 567.3,123.0 566.9,123.6 566.4,123.4 566.0,123.3 565.5,124.7 565.1,128.8 564.6,129.8 564.2,132.6 563.7,135.4 563.3,139.0 562.8,140.8 562.4,143.5 561.9,146.4 561.5,147.5 561.0,148.3 560.6,149.3 560.1,150.3 559.7,153.8 559.2,158.3 558.8,160.1 558.3,160.7 557.9,164.0 557.4,168.3 557.0,170.8 556.5,173.2 556.1,177.0 555.6,179.8 555.2,181.8 554.7,182.7 554.3,185.0 553.8,188.2 553.4,189.0 552.9,190.4 552.5,193.7 552.0,197.3 551.6,200.4 551.1,205.9 550.7,209.2 550.2,212.4 549.8,213.3 549.3,216.8 548.9,219.1 548.4,221.5 548.0,223.1 547.5,226.5 547.1,231.0 546.6,233.3 546.2,236.3 545.7,239.7 545.3,241.9 544.8,243.8 544.4,246.6 543.9,249.7 543.5,250.2 543.0,253.6 542.6,256.0 542.1,257.2 541.7,257.6 541.2,260.5 540.8,260.7 540.3,261.7 539.9,264.5 539.4,267.2 539.0,269.6 538.5,273.0 538.1,276.0 537.6,278.6 537.2,282.0 536.7,286.3 536.3,289.8 535.8,293.4 535.4,297.2 534.9,299.9 534.5,304.2 534.0,308.9 533.6,312.6 533.1,315.9 532.7,318.6 532.2,321.0 531.8,323.2 531.3,324.5 530.9,326.2 530.4,329.1 530.0,331.4 529.5,333.7 529.1,335.7 528.6,335.9 528.2,337.8 527.7,340.9 527.3,341.3 526.8,342.5 526.4,346.2 525.9,349.8 525.5,351.4 525.0,353.6 524.6,356.6 524.1,359.9 523.7,363.5 523.2,366.0 522.8,365.9 522.3,369.2 521.9,371.7 521.4,373.5 521.0,375.3 520.5,379.5 520.1,381.8 519.6,386.4 519.2,389.5 518.7,391.3 518.3,393.6 517.8,396.9 517.4,398.6 516.9,403.1 516.5,405.1 516.0,409.0 515.6,410.4 515.1,413.7 514.7,416.0 514.2,419.1 513.8,422.1 513.3,423.6 512.9,424.6 512.4,423.3 512.0,422.9 511.5,422.5 511.1,420.4 510.6,418.7 510.2,418.8 509.7,416.9 509.3,416.4 508.8,417.4 508.4,417.3 507.9,414.5 507.5,415.7 507.0,416.1 506.6,418.0 506.1,419.1 505.7,419.4 505.2,420.2 504.8,420.0 504.3,421.0 503.9,422.9 503.4,424.7 503.0,425.4 502.5,425.9 502.1,427.1 501.6,427.4 501.2,428.1 500.7,428.7 500.3,430.2 499.8,430.8 499.4,432.2 498.9,430.3 498.5,428.3 498.0,427.9 497.6,426.3 497.1,425.4 496.7,425.9 496.2,424.7 495.8,425.9 495.3,426.5 494.9,427.1 494.4,426.9 494.0,427.7 493.5,429.8 493.1,428.7 492.6,427.4 492.2,428.6 491.7,428.7 491.3,428.7 490.8,428.0 490.4,427.8 489.9,428.0 489.5,428.2 489.0,427.8 488.6,429.2 488.1,430.7 487.7,432.3 487.2,433.7 486.8,432.9 486.3,430.1 485.9,429.9 485.4,432.0 485.0,432.4 484.5,433.7 484.1,433.4 483.6,433.6 483.2,434.2 482.7,435.6 482.3,432.7 481.8,432.1 481.4,432.7 480.9,431.4 480.5,432.0 480.0,432.6 479.6,430.9 479.1,429.1 478.7,426.5 478.2,425.7 477.8,426.4 477.3,425.8 476.9,425.2 476.4,424.3 476.0,424.1 475.5,425.8 475.1,426.6 474.6,428.0 474.2,429.1 473.7,429.5 473.3,431.7 472.8,433.5 472.4,434.4 471.9,437.2 471.5,438.3 471.0,439.3 470.6,440.0 470.1,441.5 469.7,443.0 469.2,443.4 468.8,441.9 468.3,442.0 467.9,443.0 467.4,442.5 467.0,441.0 466.5,439.9 466.1,440.6 465.6,440.3 465.2,439.2 464.7,438.0 464.3,439.5 463.8,437.7 463.4,437.7 462.9,439.5 462.5,440.9 462.0,440.3 461.6,440.8 461.1,441.1 460.7,439.9 460.2,440.7 459.8,440.9 459.3,439.3 458.9,438.7 458.4,439.5 458.0,439.2 457.5,441.2 457.1,441.9 456.6,442.6 456.2,443.6 455.7,443.2 455.3,440.0 454.8,440.9 454.4,441.3 453.9,442.6 453.5,441.7 453.0,443.3 452.6,445.4 452.1,444.6 451.7,445.0 451.2,445.0 450.8,444.7 450.3,445.0 449.9,443.6 449.4,444.1 449.0,443.6 448.5,441.5 448.1,440.2 447.6,439.2 447.2,438.8 446.7,437.7 446.3,437.0 445.8,437.6 445.4,436.4 444.9,437.3 444.5,438.2 444.0,437.7 443.6,439.4 443.1,441.2 442.7,441.7 442.2,443.1 441.8,444.0 441.3,446.5 440.9,448.9 440.4,450.5 440.0,450.4 439.5,451.8 439.1,452.5 438.6,454.3 438.2,455.1 437.7,455.4 437.3,456.5 436.8,455.6 436.4,454.7 435.9,454.2 435.5,452.6 435.0,452.0 434.6,452.4 434.1,450.9 433.7,450.5 433.2,450.9 432.8,447.6 432.3,447.7 431.9,448.9 431.4,448.5 431.0,449.4 430.5,449.5 430.1,448.1 429.6,448.3 429.2,448.8 428.7,446.2 428.3,445.6 427.8,443.3 427.4,444.7 426.9,443.2 426.5,440.6 426.0,442.1 425.6,443.2 425.1,443.7 424.7,442.6 424.2,443.5 423.8,444.9 423.3,443.0 422.9,442.1 422.4,441.0 422.0,442.7 421.5,444.0 421.1,442.1 420.6,441.9 420.2,441.6 419.7,442.8 419.3,442.7 418.8,439.7 418.4,440.0 417.9,440.4 417.5,438.9 417.0,438.3 416.6,437.2 416.1,436.3 415.7,434.9 415.2,432.9 414.8,431.1 414.3,430.4 413.9,430.0 413.4,430.1 413.0,429.4 412.5,430.2 412.1,430.7 411.6,431.4 411.2,432.4 410.7,433.7 410.3,433.9 409.8,435.1 409.4,435.9 408.9,436.1 408.5,436.3 408.0,438.5 407.6,439.2 407.1,439.5 406.7,438.3 406.2,438.1 405.8,438.5 405.3,437.4 404.9,436.5 404.4,435.7 404.0,434.7 403.5,434.7 403.1,433.4 402.6,432.2 402.2,431.3 401.7,429.3 401.3,430.5 400.8,430.3 400.4,429.2 399.9,429.7 399.5,429.3 399.0,427.1 398.6,427.5 398.1,426.9 397.7,424.7 397.2,424.2 396.8,422.7 396.3,422.9 395.9,423.2 395.4,422.7 395.0,422.0 394.5,422.4 394.1,422.7 393.6,424.1 393.2,425.1 392.7,424.1 392.3,422.8 391.8,421.1 391.4,420.7 390.9,421.5 390.5,420.4 390.0,418.9 389.6,417.9 389.1,418.5 388.7,418.3 388.2,418.6 387.8,417.2 387.3,415.6 386.9,415.1 386.4,415.0 386.0,412.6 385.5,411.1 385.1,408.4 384.6,408.6 384.2,407.3 383.7,405.6 383.3,406.0 382.8,403.6 382.4,401.1 381.9,400.8 381.5,401.2 381.0,400.8 380.6,400.3 380.1,401.0 379.7,402.1 379.2,403.0 378.8,403.1 378.3,403.3 377.9,404.6 377.4,404.7 377.0,405.4 376.5,405.5 376.1,405.9 375.6,404.4 375.2,404.1 374.7,404.2 374.3,402.8 373.8,401.4 373.4,402.0 372.9,400.9 372.5,398.2 372.0,397.5 371.6,394.5 371.1,393.6 370.7,393.0 370.2,391.6 369.8,390.9 369.3,389.6 368.9,389.4 368.4,389.3 368.0,389.6 367.5,389.1 367.1,387.6 366.6,387.1 366.2,385.7 365.7,384.5 365.3,383.2 364.8,382.0 364.4,380.3 363.9,380.8 363.5,381.1 363.0,381.1 362.6,379.1 362.1,379.4 361.7,379.8 361.2,380.7 360.8,379.3 360.3,377.7 359.9,377.0 359.4,376.9 359.0,376.7 358.5,375.5 358.1,374.0 357.6,371.7 357.2,373.1 356.7,373.8 356.3,374.8 355.8,376.1 355.4,374.7 354.9,373.3 354.5,371.1 354.0,371.0 353.6,370.0 353.1,369.3 352.7,369.4 352.2,369.2 351.8,368.5 351.3,366.8 350.9,366.4 350.4,368.1 350.0,369.8 349.5,371.3 349.1,373.7 348.6,373.4 348.2,375.1 347.7,377.4 347.3,379.2 346.8,379.5 346.4,381.2 345.9,383.7 345.5,383.3 345.0,384.4 344.6,386.4 344.1,387.8 343.7,388.3 343.2,388.6 342.8,388.7 342.3,388.8 341.9,389.5 341.4,388.9 341.0,388.8 340.5,386.9 340.1,386.3 339.6,386.2 339.2,386.4 338.7,386.3 338.3,386.1 337.8,387.5 337.4,389.1 336.9,389.0 336.5,388.2 336.0,388.9 335.6,387.0 335.1,389.2 334.7,390.4 334.2,390.6 333.8,390.3 333.3,389.5 332.9,389.6 332.4,389.5 332.0,390.9 331.5,393.1 331.1,393.5 330.6,395.4 330.2,396.2 329.7,397.3 329.3,397.2 328.8,395.4 328.4,396.4 327.9,397.7 327.5,397.5 327.0,398.2 326.6,399.4 326.1,399.8 325.7,400.1 325.2,400.3 324.8,402.2 324.3,402.0 323.9,401.5 323.4,400.2 323.0,399.6 322.5,399.8 322.1,399.7 321.6,398.6 321.2,398.2 320.7,398.0 320.3,396.9 319.8,396.8 319.4,395.7 318.9,396.9 318.5,398.1 318.0,398.4 317.6,399.9 317.1,402.4 316.7,403.7 316.2,405.1 315.8,408.1 315.3,410.0 314.9,412.6 314.4,413.2 314.0,412.2 313.5,412.6 313.1,414.2 312.6,415.8 312.2,416.9 311.7,417.1 311.3,417.5 310.8,418.3 310.4,417.2 309.9,418.3 309.5,417.6 309.0,416.7 308.6,415.9 308.1,416.5 307.7,416.1 307.2,414.3 306.8,414.9 306.3,414.7 305.9,415.2 305.4,417.2 305.0,419.3 304.5,418.6 304.1,417.1 303.6,417.1 303.2,417.9 302.7,420.2 302.3,419.0 301.8,419.0 301.4,420.1 300.9,420.2 300.5,420.2 300.0,423.0 299.6,424.9 299.1,427.6 298.7,428.3 298.2,428.3 297.8,428.9 297.3,428.7 296.9,431.3 296.4,433.3 296.0,435.4 295.5,435.5 295.1,434.2 294.6,436.9 294.2,438.4 293.7,439.2 293.3,439.8 292.8,439.4 292.4,439.0 291.9,439.8 291.5,439.8 291.0,438.8 290.6,441.0 290.1,439.3 289.7,438.7 289.2,438.2 288.8,437.8 288.3,439.2 287.9,440.0 287.4,440.5 287.0,444.0 286.5,444.2 286.1,444.1 285.6,445.6 285.2,447.8 284.7,450.4 284.3,453.8 283.8,455.1 283.4,457.2 282.9,459.2 282.5,462.4 282.0,463.3 281.6,464.1 281.1,465.6 280.7,466.7 280.2,468.4 279.8,467.1 279.3,467.2 278.9,467.7 278.4,468.9 278.0,470.1 277.5,470.8 277.1,469.2 276.6,468.0 276.2,468.2 275.7,467.7 275.3,468.7 274.8,470.1 274.4,470.8 273.9,471.4 273.5,472.4 273.0,473.2 272.6,474.2 272.1,475.4 271.7,476.0 271.2,474.4 270.8,475.3 270.3,475.1 269.9,475.0 269.4,474.3 269.0,476.1 268.5,478.5 268.1,480.5 267.6,482.7 267.2,482.5 266.7,484.8 266.3,484.8 265.8,484.8 265.4,485.5 264.9,487.1 264.5,487.4 264.0,488.2 263.6,489.1 263.1,489.6 262.7,489.5 262.2,491.5 261.8,490.8 261.3,490.1 260.9,489.7 260.4,489.6 260.0,491.0 259.5,491.4 259.1,490.2 258.6,488.8 258.2,489.5 257.7,487.7 257.3,488.8 256.8,488.8 256.4,488.3 255.9,488.9 255.5,490.0 255.0,491.7 254.6,495.4 254.1,496.0 253.7,495.5 253.2,497.5 252.8,498.1 252.3,502.5 251.9,505.0 251.4,505.1 251.0,506.7 250.5,508.1 250.1,507.5 249.6,509.2 249.2,510.0 248.7,511.6 248.3,511.3 247.8,511.3 247.4,510.9 246.9,509.5 246.5,508.5 246.0,508.6 245.6,509.1 245.1,508.6 244.7,506.7 244.2,507.7 243.8,506.5 243.3,507.6 242.9,508.6 242.4,509.3 242.0,510.4 241.5,510.9 241.1,510.5 240.6,511.5 240.2,510.7 239.7,509.7 239.3,509.5 238.8,510.6 238.4,508.9 237.9,507.5 237.5,506.6 237.0,508.8 236.6,511.6 236.1,510.6 235.7,511.5 235.2,510.9 234.8,511.8 234.3,510.5 233.9,510.5 233.4,509.7 233.0,509.7 232.5,511.9 232.1,511.7 231.6,510.1 231.2,510.8 230.7,511.8 230.3,511.4 229.8,509.1 229.4,509.8 228.9,507.0 228.5,506.0 228.0,505.7 227.6,505.3 227.1,503.9 226.7,501.4 226.2,500.9 225.8,499.7 225.3,499.5 224.9,499.7 224.4,500.5 224.0,501.1 223.5,503.5 223.1,504.2 222.6,504.2 222.2,504.5 221.7,506.5 221.3,508.2 220.8,511.5 220.4,512.1 219.9,513.7 219.5,514.3 219.0,515.2 218.6,516.1 218.1,516.9 217.7,517.7 217.2,516.3 216.8,515.6 216.3,515.8 215.9,514.6 215.4,513.4 215.0,513.3 214.5,512.2 214.1,512.4 213.6,513.1 213.2,511.0 212.7,510.6 212.3,510.2 211.8,508.4 211.4,509.8 210.9,511.1 210.5,509.8 210.0,509.9 209.6,511.6 209.1,511.0 208.7,508.6 208.2,509.0 207.8,508.4 207.3,507.5 206.9,507.1 206.4,507.9 206.0,508.5 205.5,510.1 205.1,510.2 204.6,509.0 204.2,508.6 203.7,509.7 203.3,510.3 202.8,509.5 202.4,508.0 201.9,508.8 201.5,509.1 201.0,510.0 200.6,509.5 200.1,508.8 199.7,510.3 199.2,509.2 198.8,507.9 198.3,507.9 197.9,507.6 197.4,507.7 197.0,506.0 196.5,505.6 196.1,505.0 195.6,503.2 195.2,501.3 194.7,499.9 194.3,500.3 193.8,499.0 193.4,497.9 192.9,500.5 192.5,503.1 192.0,502.5 191.6,502.7 191.1,502.8 190.7,504.4 190.2,506.0 189.8,509.0 189.3,510.8 188.9,511.0 188.4,511.7 188.0,511.8 187.5,512.0 187.1,513.9 186.6,515.2 186.2,513.9 185.7,514.1 185.3,513.7 184.8,514.2 184.4,513.7 183.9,511.9 183.5,510.7 183.0,510.5 182.6,508.2 182.1,507.3 181.7,507.5 181.2,506.1 180.8,506.4 180.3,506.9 179.9,507.0 179.4,508.2 179.0,510.1 178.5,509.9 178.1,507.7 177.6,507.2 177.2,508.5 176.7,508.0 176.3,506.5 175.8,506.3 175.4,505.8 174.9,504.0 174.5,505.7 174.0,507.2 173.6,507.8 173.1,508.9 172.7,509.2 172.2,507.5 171.8,507.1 171.3,506.4 170.9,507.6 170.4,507.5 170.0,507.5 169.5,507.1 169.1,509.7 168.6,509.6 168.2,508.7 167.7,508.3 167.3,507.5 166.8,507.1 166.4,506.7 165.9,505.9 165.5,504.2 165.0,503.8 164.6,502.8 164.1,503.3 163.7,502.1 163.2,500.0 162.8,499.4 162.3,500.0 161.9,498.2 161.4,499.2 161.0,499.4 160.5,502.1 160.1,502.3 159.6,503.9 159.2,504.4 158.7,505.4 158.3,506.5 157.8,508.6 157.4,510.9 156.9,510.4 156.5,511.5 156.0,513.4 155.6,514.1 155.1,512.6 154.7,512.9 154.2,512.6 153.8,512.4 153.3,511.7 152.9,511.0 152.4,510.8 152.0,509.6 151.5,508.8 151.1,508.4 150.6,508.4 150.2,507.1 149.7,506.2 149.3,506.1 148.8,506.6 148.4,507.7 147.9,507.7 147.5,508.8 147.0,508.5 146.6,507.8 146.1,507.7 145.7,505.2 145.2,505.0 144.8,505.5 144.3,504.7 143.9,502.3 143.4,503.3 143.0,504.6 142.5,504.9 142.1,506.7 141.6,507.9 141.2,507.4 140.7,508.4 140.3,507.4 139.8,506.1 139.4,505.7 138.9,507.2 138.5,507.8 138.0,509.1 137.6,507.7 137.1,507.0 136.7,507.0 136.2,507.8 135.8,508.8 135.3,506.7 134.9,505.9 134.4,505.9 134.0,504.8 133.5,504.9 133.1,502.5 132.6,501.8 132.2,500.2 131.7,499.0 131.3,498.5 130.8,498.0 130.4,498.2 129.9,498.8 129.5,499.4 129.0,499.7 128.6,501.2 128.1,501.9 127.7,502.9 127.2,502.7 126.8,504.6 126.3,507.5 125.9,508.5 125.4,509.0 125.0,508.8 124.5,508.8 124.1,509.8 123.6,509.1 123.2,509.2 122.7,509.6 122.3,509.8 121.8,509.6 121.4,507.9 120.9,507.6" fill="#0072B2" fill-opacity="0.2" stroke="#0072B2" stroke-opacity="0.17" stroke-width="2.2" stroke-linejoin="round"/>
<path d="M152.50 15.5V542.5M278.50 15.5V542.5M404.50 15.5V542.5M530.50 15.5V542.5M656.50 15.5V542.5M781.50 15.5V542.5M907.50 15.5V542.5" stroke="#808080" stroke-opacity="0.2" stroke-width="1.39" fill="none"/>
<path d="M80.5 535.50H985.5M80.5 472.50H985.5M80.5 408.50H985.5M80.5 345.50H985.5M80.5 282.50H985.5M80.5 219.50H985.5M80.5 156.50H985.5M80.5 92.50H985.5M80.5 29.50H985.5" stroke="#808080" stroke-opacity="0.2" stroke-width="1.39" fill="none"/>
<path d="M121.2 486.2h0M121.3 487.8h0M121.4 488.3h0M121.6 487.4h0M121.7 486.7h0M121.8 485.8h0M121.9 486.3h0M122.0 486.0h0M122.1 486.6h0M122.3 484.5h0M122.4 486.1h0M122.5 485.7h0M122.6 486.1h0M122.7 485.7h0M122.9 485.2h0M123.0 485.4h0M123.1 486.2h0M123.2 486.5h0M123.3 486.9h0M123.4 487.8h0M123.6 487.6h0M123.7 487.3h0M123.8 488.3h0M123.9 488.6h0M124.0 488.8h0M124.1 489.4h0M124.3 490.0h0M124.4 490.6h0M124.5 491.1h0M124.6 491.7h0M124.7 492.5h0M124.9 493.1h0M125.0 493.5h0M125.1 494.5h0M125.2 495.6h0M125.3 496.0h0M125.4 496.8h0M125.6 497.4h0M125.7 497.1h0M125.8 496.5h0M125.9 496.8h0M126.0 496.9h0M126.2 497.5h0M126.3 496.5h0M126.4 496.1h0M126.5 495.8h0M126.6 495.5h0M126.7 495.5h0M126.9 495.9h0M127.0 495.7h0M127.1 496.7h0M127.2 497.2h0M127.3 497.5h0M127.5 497.5h0M127.6 497.8h0M127.7 496.9h0M127.8 497.2h0M127.9 497.1h0M128.0 495.2h0M128.2 495.2h0M128.3 494.5h0M128.4 495.2h0M128.5 494.1h0M128.6 493.7h0M128.8 493.9h0M128.9 492.0h0M129.0 492.8h0M129.1 492.2h0M129.2 492.8h0M129.3 491.2h0M129.5 493.1h0M129.6 493.5h0M129.7 492.4h0M129.8 492.9h0M129.9 493.9h0M130.0 493.6h0M130.2 492.0h0M130.3 492.6h0M130.4 492.4h0M130.5 491.4h0M130.6 488.5h0M130.8 490.8h0M130.9 487.3h0M131.0 488.5h0M131.1 490.4h0M131.2 486.4h0M131.3 485.7h0M131.5 483.6h0M131.6 484.3h0M131.7 487.5h0M131.8 489.4h0M131.9 486.2h0M132.1 484.7h0M132.2 486.1h0M132.3 488.4h0M132.4 488.3h0M132.5 486.3h0M132.6 486.4h0M132.8 485.8h0M132.9 484.9h0M133.0 482.9h0M133.1 483.8h0M133.2 484.3h0M133.4 483.8h0M133.5 483.0h0M133.6 480.1h0M133.7 479.6h0M133.8 482.6h0M133.9 481.9h0M134.1 478.8h0M134.2 482.3h0M134.3 483.2h0M134.4 485.5h0M134.5 485.0h0M134.7 483.4h0M134.8 479.8h0M134.9 482.4h0M135.0 483.6h0M135.1 482.8h0M135.2 481.2h0M135.4 481.5h0M135.5 479.6h0M135.6 479.0h0M135.7 478.4h0M135.8 478.6h0M135.9 479.6h0M136.1 479.2h0M136.2 479.5h0M136.3 478.6h0M136.4 478.4h0M136.5 476.5h0M136.7 476.4h0M136.8 477.2h0M136.9 477.4h0M137.0 478.3h0M137.1 479.1h0M137.2 480.3h0M137.4 480.9h0M137.5 481.3h0M137.6 481.6h0M137.7 481.4h0M137.8 481.2h0M138.0 481.3h0M138.1 481.1h0M138.2 481.4h0M138.3 481.9h0M138.4 482.6h0M138.5 482.9h0M138.7 482.8h0M138.8 483.2h0M138.9 483.8h0M139.0 485.0h0M139.1 485.3h0M139.3 484.5h0M139.4 483.7h0M139.5 485.7h0M139.6 486.0h0M139.7 486.2h0M139.8 486.2h0M140.0 486.2h0M140.1 486.2h0M140.2 486.2h0M140.3 486.2h0M140.4 486.2h0M140.6 486.1h0M140.7 485.9h0M140.8 482.6h0M140.9 482.2h0M141.0 480.5h0M141.1 481.0h0M141.3 480.1h0M141.4 481.8h0M141.5 483.5h0M141.6 483.5h0M141.7 483.4h0M141.8 482.9h0M142.0 481.4h0M142.1 480.7h0M142.2 479.6h0M142.3 480.2h0M142.4 480.0h0M142.6 480.6h0M142.7 478.4h0M142.8 479.6h0M142.9 478.4h0M143.0 477.7h0M143.1 477.7h0M143.3 477.4h0M143.4 477.6h0M143.5 477.5h0M143.6 477.3h0M143.7 477.3h0M143.9 478.8h0M144.0 479.3h0M144.1 478.2h0M144.2 478.7h0M144.3 477.7h0M144.4 481.1h0M144.6 478.6h0M144.7 480.2h0M144.8 482.2h0M144.9 479.2h0M145.0 480.7h0M145.2 484.4h0M145.3 486.0h0M145.4 486.8h0M145.5 488.8h0M145.6 488.4h0M145.7 488.5h0M145.9 487.5h0M146.0 488.5h0M146.1 485.1h0M146.2 487.4h0M146.3 485.5h0M146.5 482.2h0M146.6 483.9h0M146.7 488.8h0M146.8 489.9h0M146.9 488.2h0M147.0 489.1h0M147.2 487.4h0M147.3 486.7h0M147.4 486.8h0M147.5 481.4h0M147.6 482.5h0M147.7 481.5h0M147.9 481.4h0M148.0 481.4h0M148.1 481.3h0M148.2 481.3h0M148.3 481.3h0M148.5 484.4h0M148.6 484.3h0M148.7 486.2h0M148.8 485.1h0M148.9 481.8h0M149.0 482.3h0M149.2 483.2h0M149.3 482.5h0M149.4 483.0h0M149.5 483.6h0M149.6 482.4h0M149.8 481.2h0M149.9 481.3h0M150.0 481.3h0M150.1 481.3h0M150.2 482.0h0M150.3 483.4h0M150.5 483.2h0M150.6 483.8h0M150.7 484.5h0M150.8 484.9h0M150.9 485.2h0M151.1 485.2h0M151.2 485.7h0M151.3 486.1h0M151.4 486.4h0M151.5 486.7h0M151.6 487.0h0M151.8 487.3h0M151.9 487.6h0M152.0 487.4h0M152.1 488.2h0M152.2 487.0h0M152.4 487.7h0M152.5 487.5h0M152.6 485.1h0M152.7 487.7h0M152.8 488.0h0M152.9 485.3h0M153.1 486.7h0M153.2 485.7h0M153.3 483.0h0M153.4 482.9h0M153.5 483.6h0M153.6 485.1h0M153.8 485.7h0M153.9 485.9h0M154.0 486.9h0M154.1 486.4h0M154.2 488.4h0M154.4 488.2h0M154.5 488.3h0M154.6 488.7h0M154.7 486.5h0M154.8 485.2h0M154.9 488.1h0M155.1 488.2h0M155.2 487.3h0M155.3 487.6h0M155.4 486.3h0M155.5 486.7h0M155.7 485.2h0M155.8 485.7h0M155.9 483.1h0M156.0 485.7h0M156.1 484.6h0M156.2 482.4h0M156.4 482.5h0M156.5 482.4h0M156.6 482.9h0M156.7 481.8h0M156.8 482.7h0M157.0 488.1h0M157.1 486.2h0M157.2 486.4h0M157.3 485.4h0M157.4 485.5h0M157.5 481.7h0M157.7 480.7h0M157.8 481.7h0M157.9 481.9h0M158.0 485.4h0M158.1 483.5h0M158.3 483.8h0M158.4 486.8h0M158.5 486.1h0M158.6 483.9h0M158.7 483.5h0M158.8 483.2h0M159.0 484.7h0M159.1 484.4h0M159.2 482.4h0M159.3 482.8h0M159.4 485.8h0M159.5 485.7h0M159.7 481.9h0M159.8 481.5h0M159.9 479.9h0M160.0 481.4h0M160.1 481.1h0M160.3 484.4h0M160.4 484.8h0M160.5 484.7h0M160.6 484.6h0M160.7 484.0h0M160.8 483.9h0M161.0 484.2h0M161.1 484.1h0M161.2 483.5h0M161.3 483.9h0M161.4 483.7h0M161.6 483.1h0M161.7 481.4h0M161.8 480.2h0M161.9 479.1h0M162.0 477.5h0M162.1 477.9h0M162.3 479.0h0M162.4 479.0h0M162.5 480.9h0M162.6 481.5h0M162.7 481.8h0M162.9 477.8h0M163.0 477.9h0M163.1 479.1h0M163.2 481.9h0M163.3 483.0h0M163.4 483.0h0M163.6 482.5h0M163.7 478.7h0M163.8 479.9h0M163.9 480.0h0M164.0 481.6h0M164.2 481.1h0M164.3 481.3h0M164.4 478.6h0M164.5 479.7h0M164.6 479.1h0M164.7 479.9h0M164.9 480.8h0M165.0 480.5h0M165.1 481.0h0M165.2 480.9h0M165.3 482.0h0M165.4 482.4h0M165.6 481.3h0M165.7 480.2h0M165.8 482.9h0M165.9 482.4h0M166.0 483.2h0M166.2 483.2h0M166.3 482.2h0M166.4 480.7h0M166.5 481.0h0M166.6 481.4h0M166.7 482.3h0M166.9 480.0h0M167.0 479.3h0M167.1 479.6h0M167.2 482.5h0M167.3 478.7h0M167.5 479.8h0M167.6 479.3h0M167.7 480.4h0M167.8 479.9h0M167.9 480.8h0M168.0 483.5h0M168.2 483.6h0M168.3 483.8h0M168.4 483.9h0M168.5 482.4h0M168.6 483.2h0M168.8 482.6h0M168.9 481.0h0M169.0 481.2h0M169.1 481.0h0M169.2 482.5h0M169.3 482.4h0M169.5 481.4h0M169.6 484.2h0M169.7 485.2h0M169.8 485.6h0M169.9 485.8h0M170.1 485.8h0M170.2 485.0h0M170.3 484.3h0M170.4 485.7h0M170.5 485.6h0M170.6 482.4h0M170.8 482.7h0M170.9 480.7h0M171.0 481.5h0M171.1 480.5h0M171.2 480.5h0M171.3 480.7h0M171.5 481.2h0M171.6 480.8h0M171.7 481.6h0M171.8 486.8h0M171.9 483.4h0M172.1 487.7h0M172.2 486.1h0M172.3 485.3h0M172.4 485.3h0M172.5 483.7h0M172.6 486.5h0M172.8 487.5h0M172.9 486.4h0M173.0 486.5h0M173.1 485.4h0M173.2 485.8h0M173.4 487.4h0M173.5 486.4h0M173.6 486.8h0M173.7 487.5h0M173.8 489.0h0M173.9 490.3h0M174.1 490.0h0M174.2 489.6h0M174.3 489.9h0M174.4 489.4h0M174.5 489.0h0M174.7 490.0h0M174.8 490.9h0M174.9 490.8h0M175.0 490.3h0M175.1 490.5h0M175.2 487.7h0M175.4 487.7h0M175.5 486.3h0M175.6 489.9h0M175.7 490.3h0M175.8 490.1h0M176.0 489.3h0M176.1 484.6h0M176.2 486.0h0M176.3 489.3h0M176.4 487.3h0M176.5 488.6h0M176.7 489.5h0M176.8 485.7h0M176.9 488.1h0M177.0 490.2h0M177.1 490.0h0M177.2 489.4h0M177.4 490.2h0M177.5 486.6h0M177.6 486.9h0M177.7 489.2h0M177.8 486.1h0M178.0 488.5h0M178.1 487.3h0M178.2 483.7h0M178.3 484.1h0M178.4 483.6h0M178.5 484.5h0M178.7 483.7h0M178.8 485.8h0M178.9 484.8h0M179.0 486.0h0M179.1 485.2h0M179.3 485.1h0M179.4 488.0h0M179.5 488.3h0M179.6 487.3h0M179.7 485.1h0M179.8 487.8h0M180.0 489.1h0M180.1 488.1h0M180.2 488.5h0M180.3 486.3h0M180.4 485.0h0M180.6 484.5h0M180.7 485.4h0M180.8 486.4h0M180.9 485.4h0M181.0 487.1h0M181.1 488.7h0M181.3 488.7h0M181.4 490.0h0M181.5 489.2h0M181.6 488.7h0M181.7 489.3h0M181.9 488.9h0M182.0 489.9h0M182.1 487.5h0M182.2 489.8h0M182.3 488.3h0M182.4 487.9h0M182.6 485.9h0M182.7 487.2h0M182.8 489.5h0M182.9 490.5h0M183.0 490.9h0M183.1 488.5h0M183.3 487.2h0M183.4 486.8h0M183.5 486.0h0M183.6 488.0h0M183.7 488.4h0M183.9 488.4h0M184.0 489.2h0M184.1 487.6h0M184.2 486.5h0M184.3 486.0h0M184.4 487.0h0M184.6 487.8h0M184.7 488.9h0M184.8 490.5h0M184.9 488.0h0M185.0 487.2h0M185.2 487.8h0M185.3 486.2h0M185.4 486.0h0M185.5 487.9h0M185.6 489.9h0M185.7 491.2h0M185.9 490.8h0M186.0 490.2h0M186.1 491.4h0M186.2 490.4h0M186.3 490.5h0M186.5 491.6h0M186.6 490.7h0M186.7 489.2h0M186.8 488.9h0M186.9 489.7h0M187.0 490.1h0M187.2 489.9h0M187.3 490.2h0M187.4 486.8h0M187.5 485.5h0M187.6 486.1h0M187.8 484.9h0M187.9 484.1h0M188.0 484.0h0M188.1 483.9h0M188.2 483.8h0M188.3 483.7h0M188.5 483.5h0M188.6 486.6h0M188.7 486.2h0M188.8 488.4h0M188.9 488.2h0M189.0 485.6h0M189.2 485.0h0M189.3 483.6h0M189.4 484.9h0M189.5 483.3h0M189.6 485.3h0M189.8 485.8h0M189.9 482.8h0M190.0 483.9h0M190.1 485.8h0M190.2 484.6h0M190.3 485.6h0M190.5 483.2h0M190.6 483.7h0M190.7 482.3h0M190.8 483.1h0M190.9 482.3h0M191.1 482.3h0M191.2 482.3h0M191.3 484.0h0M191.4 483.4h0M191.5 484.6h0M191.6 484.7h0M191.8 484.3h0M191.9 485.0h0M192.0 486.3h0M192.1 484.9h0M192.2 485.4h0M192.4 485.6h0M192.5 483.7h0M192.6 485.7h0M192.7 486.4h0M192.8 485.8h0M192.9 486.4h0M193.1 486.4h0M193.2 486.1h0M193.3 486.5h0M193.4 486.5h0M193.5 486.5h0M193.7 486.6h0M193.8 486.7h0M193.9 486.7h0M194.0 486.4h0M194.1 484.5h0M194.2 485.9h0M194.4 484.7h0M194.5 484.9h0M194.6 483.9h0M194.7 484.0h0M194.8 483.3h0M194.9 485.1h0M195.1 484.1h0M195.2 484.2h0M195.3 484.3h0M195.4 485.9h0M195.5 484.3h0M195.7 484.5h0M195.8 484.5h0M195.9 485.3h0M196.0 485.9h0M196.1 485.3h0M196.2 485.7h0M196.4 485.2h0M196.5 485.9h0M196.6 485.7h0M196.7 484.9h0M196.8 485.1h0M197.0 485.6h0M197.1 487.8h0M197.2 487.1h0M197.3 487.2h0M197.4 487.9h0M197.5 485.6h0M197.7 483.8h0M197.8 483.6h0M197.9 483.6h0M198.0 486.8h0M198.1 487.1h0M198.3 488.0h0M198.4 487.5h0M198.5 484.2h0M198.6 483.6h0M198.7 484.0h0M198.8 484.5h0M199.0 483.6h0M199.1 485.2h0M199.2 483.8h0M199.3 485.5h0M199.4 487.7h0M199.6 486.4h0M199.7 484.9h0M199.8 486.4h0M199.9 485.0h0M200.0 486.5h0M200.1 485.0h0M200.3 486.4h0M200.4 486.6h0M200.5 486.1h0M200.6 485.2h0M200.7 485.8h0M200.8 484.5h0M201.0 484.6h0M201.1 484.7h0M201.2 485.7h0M201.3 484.9h0M201.4 487.2h0M201.6 486.8h0M201.7 485.6h0M201.8 487.7h0M201.9 489.2h0M202.0 488.8h0M202.1 487.5h0M202.3 487.5h0M202.4 486.7h0M202.5 486.5h0M202.6 488.6h0M202.7 488.9h0M202.9 488.8h0M203.0 489.0h0M203.1 488.7h0M203.2 489.4h0M203.3 489.8h0M203.4 489.2h0M203.6 489.1h0M203.7 490.0h0M203.8 490.0h0M203.9 490.0h0M204.0 490.1h0M204.2 490.1h0M204.3 489.4h0M204.4 489.8h0M204.5 488.7h0M204.6 488.1h0M204.7 488.6h0M204.9 488.4h0M205.0 487.6h0M205.1 487.4h0M205.2 487.2h0M205.3 488.7h0M205.5 488.0h0M205.6 487.7h0M205.7 490.1h0M205.8 489.3h0M205.9 490.6h0M206.0 490.9h0M206.2 490.9h0M206.3 489.3h0M206.4 489.9h0M206.5 490.5h0M206.6 491.0h0M206.7 490.9h0M206.9 491.3h0M207.0 491.4h0M207.1 491.1h0M207.2 491.5h0M207.3 491.6h0M207.5 491.0h0M207.6 490.6h0M207.7 491.7h0M207.8 491.8h0M207.9 490.6h0M208.0 490.7h0M208.2 490.6h0M208.3 490.5h0M208.4 490.1h0M208.5 489.1h0M208.6 490.2h0M208.8 489.6h0M208.9 489.6h0M209.0 489.5h0M209.1 489.4h0M209.2 490.4h0M209.3 491.1h0M209.5 490.5h0M209.6 490.0h0M209.7 490.0h0M209.8 491.4h0M209.9 491.8h0M210.1 492.2h0M210.2 491.9h0M210.3 491.7h0M210.4 492.3h0M210.5 490.4h0M210.6 492.8h0M210.8 491.8h0M210.9 491.4h0M211.0 493.6h0M211.1 493.9h0M211.2 493.9h0M211.4 493.1h0M211.5 491.5h0M211.6 492.2h0M211.7 494.1h0M211.8 493.0h0M211.9 494.9h0M212.1 493.5h0M212.2 493.0h0M212.3 493.9h0M212.4 494.1h0M212.5 495.1h0M212.6 494.2h0M212.8 493.5h0M212.9 493.1h0M213.0 493.3h0M213.1 493.4h0M213.2 493.6h0M213.4 493.7h0M213.5 493.9h0M213.6 494.1h0M213.7 494.9h0M213.8 494.7h0M213.9 494.5h0M214.1 495.4h0M214.2 496.5h0M214.3 495.5h0M214.4 494.8h0M214.5 494.8h0M214.7 495.4h0M214.8 495.4h0M214.9 495.1h0M215.0 495.3h0M215.1 496.2h0M215.2 495.4h0M215.4 495.4h0M215.5 495.1h0M215.6 496.3h0M215.7 497.1h0M215.8 497.1h0M216.0 497.0h0M216.1 497.0h0M216.2 495.9h0M216.3 496.2h0M216.4 495.6h0M216.5 495.4h0M216.7 495.5h0M216.8 495.5h0M216.9 495.8h0M217.0 496.1h0M217.1 496.2h0M217.3 495.7h0M217.4 496.0h0M217.5 495.8h0M217.6 496.3h0M217.7 495.7h0M217.8 494.8h0M218.0 494.6h0M218.1 495.5h0M218.2 495.6h0M218.3 495.4h0M218.4 495.8h0M218.5 495.8h0M218.7 495.8h0M218.8 495.3h0M218.9 495.2h0M219.0 495.2h0M219.1 494.6h0M219.3 493.7h0M219.4 493.9h0M219.5 494.6h0M219.6 495.0h0M219.7 495.1h0M219.8 495.1h0M220.0 495.4h0M220.1 495.3h0M220.2 495.3h0M220.3 495.2h0M220.4 495.1h0M220.6 495.0h0M220.7 495.0h0M220.8 494.9h0M220.9 494.8h0M221.0 494.7h0M221.1 494.6h0M221.3 493.7h0M221.4 494.3h0M221.5 493.8h0M221.6 491.9h0M221.7 491.8h0M221.9 490.7h0M222.0 490.6h0M222.1 490.5h0M222.2 490.4h0M222.3 491.1h0M222.4 490.2h0M222.6 490.5h0M222.7 491.1h0M222.8 492.7h0M222.9 493.2h0M223.0 493.0h0M223.2 492.7h0M223.3 492.2h0M223.4 492.7h0M223.5 491.8h0M223.6 491.9h0M223.7 491.5h0M223.9 491.4h0M224.0 490.8h0M224.1 491.9h0M224.2 491.3h0M224.3 491.1h0M224.4 491.0h0M224.6 491.0h0M224.7 490.9h0M224.8 490.8h0M224.9 490.8h0M225.0 489.5h0M225.2 489.3h0M225.3 488.0h0M225.4 488.2h0M225.5 487.4h0M225.6 487.0h0M225.7 487.0h0M225.9 488.2h0M226.0 488.5h0M226.1 488.6h0M226.2 489.2h0M226.3 488.4h0M226.5 486.6h0M226.6 486.5h0M226.7 486.4h0M226.8 487.6h0M226.9 488.9h0M227.0 487.7h0M227.2 488.8h0M227.3 488.8h0M227.4 488.7h0M227.5 488.6h0M227.6 488.6h0M227.8 488.5h0M227.9 488.5h0M228.0 488.4h0M228.1 487.1h0M228.2 487.4h0M228.3 487.1h0M228.5 487.3h0M228.6 487.4h0M228.7 486.1h0M228.8 487.4h0M228.9 486.1h0M229.1 487.0h0M229.2 485.3h0M229.3 485.8h0M229.4 485.2h0M229.5 485.4h0M229.6 485.0h0M229.8 484.5h0M229.9 484.5h0M230.0 484.4h0M230.1 484.8h0M230.2 484.4h0M230.3 484.4h0M230.5 484.4h0M230.6 484.3h0M230.7 484.3h0M230.8 484.3h0M230.9 484.5h0M231.1 485.5h0M231.2 486.3h0M231.3 485.3h0M231.4 485.5h0M231.5 485.4h0M231.6 484.4h0M231.8 485.3h0M231.9 485.5h0M232.0 485.1h0M232.1 486.6h0M232.2 487.0h0M232.4 487.3h0M232.5 487.3h0M232.6 487.3h0M232.7 486.6h0M232.8 486.0h0M232.9 486.8h0M233.1 485.9h0M233.2 485.8h0M233.3 486.1h0M233.4 487.1h0M233.5 487.1h0M233.7 487.1h0M233.8 487.1h0M233.9 487.1h0M234.0 487.1h0M234.1 486.9h0M234.2 487.0h0M234.4 487.0h0M234.5 486.6h0M234.6 487.0h0M234.7 486.7h0M234.8 486.8h0M235.0 485.2h0M235.1 485.2h0M235.2 484.3h0M235.3 483.8h0M235.4 483.5h0M235.5 484.8h0M235.7 484.7h0M235.8 485.0h0M235.9 486.1h0M236.0 485.8h0M236.1 486.0h0M236.2 484.5h0M236.4 484.8h0M236.5 484.5h0M236.6 485.1h0M236.7 485.2h0M236.8 483.9h0M237.0 483.3h0M237.1 483.3h0M237.2 483.5h0M237.3 484.0h0M237.4 484.6h0M237.5 483.2h0M237.7 483.2h0M237.8 483.1h0M237.9 483.1h0M238.0 483.1h0M238.1 483.1h0M238.3 483.3h0M238.4 483.2h0M238.5 483.2h0M238.6 483.2h0M238.7 483.5h0M238.8 483.7h0M239.0 486.0h0M239.1 485.6h0M239.2 485.6h0M239.3 484.5h0M239.4 484.3h0M239.6 485.0h0M239.7 485.6h0M239.8 485.3h0M239.9 485.7h0M240.0 485.6h0M240.1 483.8h0M240.3 483.5h0M240.4 484.1h0M240.5 485.1h0M240.6 485.1h0M240.7 483.7h0M240.9 483.6h0M241.0 484.5h0M241.1 483.6h0M241.2 483.7h0M241.3 484.1h0M241.4 484.5h0M241.6 485.4h0M241.7 485.3h0M241.8 487.0h0M241.9 486.2h0M242.0 484.8h0M242.1 485.2h0M242.3 486.6h0M242.4 486.4h0M242.5 486.9h0M242.6 486.4h0M242.7 485.2h0M242.9 486.5h0M243.0 487.2h0M243.1 487.2h0M243.2 487.3h0M243.3 486.3h0M243.4 485.2h0M243.6 485.2h0M243.7 485.9h0M243.8 486.3h0M243.9 485.1h0M244.0 485.5h0M244.2 485.6h0M244.3 485.8h0M244.4 485.9h0M244.5 485.8h0M244.6 486.3h0M244.7 486.4h0M244.9 486.5h0M245.0 485.9h0M245.1 486.3h0M245.2 486.2h0M245.3 485.1h0M245.5 485.5h0M245.6 485.5h0M245.7 486.3h0M245.8 486.2h0M245.9 486.2h0M246.0 486.4h0M246.2 486.4h0M246.3 486.1h0M246.4 485.4h0M246.5 486.5h0M246.6 485.7h0M246.8 485.7h0M246.9 486.2h0M247.0 486.5h0M247.1 486.7h0M247.2 487.0h0M247.3 487.3h0M247.5 487.3h0M247.6 487.3h0M247.7 487.3h0M247.8 487.2h0M247.9 486.8h0M248.0 486.2h0M248.2 486.3h0M248.3 487.1h0M248.4 486.3h0M248.5 485.4h0M248.6 486.0h0M248.8 486.3h0M248.9 487.0h0M249.0 487.0h0M249.1 487.0h0M249.2 486.7h0M249.3 486.6h0M249.5 486.1h0M249.6 483.6h0M249.7 483.1h0M249.8 482.3h0M249.9 481.4h0M250.1 480.1h0M250.2 484.0h0M250.3 484.6h0M250.4 485.4h0M250.5 483.0h0M250.6 478.9h0M250.8 477.9h0M250.9 478.7h0M251.0 477.5h0M251.1 476.9h0M251.2 479.9h0M251.4 480.2h0M251.5 476.5h0M251.6 475.3h0M251.7 473.8h0M251.8 474.7h0M251.9 472.3h0M252.1 472.5h0M252.2 474.7h0M252.3 474.9h0M252.4 472.8h0M252.5 472.1h0M252.7 472.8h0M252.8 474.2h0M252.9 476.0h0M253.0 475.2h0M253.1 472.2h0M253.2 475.2h0M253.4 475.3h0M253.5 475.4h0M253.6 475.2h0M253.7 472.9h0M253.8 472.3h0M253.9 472.6h0M254.1 473.8h0M254.2 473.3h0M254.3 470.1h0M254.4 470.0h0M254.5 470.4h0M254.7 471.6h0M254.8 471.9h0M254.9 472.2h0M255.0 472.0h0M255.1 472.6h0M255.2 473.3h0M255.4 473.8h0M255.5 474.6h0M255.6 475.2h0M255.7 475.2h0M255.8 476.1h0M256.0 476.7h0M256.1 476.1h0M256.2 475.9h0M256.3 475.5h0M256.4 476.4h0M256.5 475.4h0M256.7 477.4h0M256.8 472.4h0M256.9 472.7h0M257.0 471.7h0M257.1 472.2h0M257.3 473.7h0M257.4 475.0h0M257.5 475.8h0M257.6 476.9h0M257.7 481.3h0M257.8 478.6h0M258.0 480.9h0M258.1 478.1h0M258.2 478.2h0M258.3 479.3h0M258.4 478.9h0M258.6 480.0h0M258.7 481.4h0M258.8 480.6h0M258.9 481.2h0M259.0 481.5h0M259.1 480.8h0M259.3 480.6h0M259.4 480.4h0M259.5 481.0h0M259.6 480.3h0M259.7 481.9h0M259.8 481.1h0M260.0 482.6h0M260.1 482.6h0M260.2 482.5h0M260.3 482.5h0M260.4 482.4h0M260.6 482.4h0M260.7 482.3h0M260.8 482.2h0M260.9 481.4h0M261.0 477.7h0M261.1 477.5h0M261.3 478.6h0M261.4 479.1h0M261.5 479.2h0M261.6 478.5h0M261.7 477.4h0M261.9 477.1h0M262.0 477.9h0M262.1 475.7h0M262.2 477.0h0M262.3 475.6h0M262.4 475.9h0M262.6 475.7h0M262.7 475.8h0M262.8 475.6h0M262.9 475.6h0M263.0 475.6h0M263.2 475.6h0M263.3 478.2h0M263.4 477.6h0M263.5 476.7h0M263.6 476.3h0M263.7 475.7h0M263.9 475.6h0M264.0 475.6h0M264.1 475.6h0M264.2 475.6h0M264.3 475.6h0M264.5 475.6h0M264.6 475.6h0M264.7 476.0h0M264.8 476.9h0M264.9 477.7h0M265.0 476.8h0M265.2 478.3h0M265.3 477.6h0M265.4 478.1h0M265.5 479.1h0M265.6 478.4h0M265.7 476.6h0M265.9 477.7h0M266.0 476.3h0M266.1 475.8h0M266.2 475.6h0M266.3 476.4h0M266.5 476.5h0M266.6 475.6h0M266.7 475.9h0M266.8 479.0h0M266.9 480.4h0M267.0 479.6h0M267.2 479.4h0M267.3 478.1h0M267.4 476.5h0M267.5 473.9h0M267.6 469.0h0M267.8 468.2h0M267.9 468.1h0M268.0 464.6h0M268.1 463.9h0M268.2 464.7h0M268.3 464.8h0M268.5 466.0h0M268.6 467.5h0M268.7 467.9h0M268.8 467.1h0M268.9 463.7h0M269.1 465.3h0M269.2 467.9h0M269.3 468.7h0M269.4 468.7h0M269.5 468.2h0M269.6 468.6h0M269.8 468.5h0M269.9 468.5h0M270.0 468.4h0M270.1 467.8h0M270.2 468.0h0M270.4 466.1h0M270.5 465.4h0M270.6 465.0h0M270.7 463.9h0M270.8 461.2h0M270.9 461.3h0M271.1 461.6h0M271.2 462.0h0M271.3 462.0h0M271.4 463.1h0M271.5 464.7h0M271.6 466.2h0M271.8 464.3h0M271.9 464.4h0M272.0 463.8h0M272.1 462.5h0M272.2 461.5h0M272.4 461.6h0M272.5 461.5h0M272.6 464.9h0M272.7 464.6h0M272.8 464.1h0M272.9 463.5h0M273.1 466.6h0M273.2 464.7h0M273.3 464.3h0M273.4 463.1h0M273.5 463.1h0M273.7 463.3h0M273.8 465.1h0M273.9 462.9h0M274.0 463.1h0M274.1 465.5h0M274.2 464.5h0M274.4 464.1h0M274.5 462.9h0M274.6 461.9h0M274.7 461.9h0M274.8 462.9h0M275.0 462.6h0M275.1 461.9h0M275.2 462.1h0M275.3 462.4h0M275.4 463.7h0M275.5 464.7h0M275.7 464.2h0M275.8 464.4h0M275.9 462.6h0M276.0 463.8h0M276.1 463.9h0M276.3 464.8h0M276.4 465.3h0M276.5 464.9h0M276.6 464.5h0M276.7 463.4h0M276.8 461.8h0M277.0 461.9h0M277.1 462.2h0M277.2 461.7h0M277.3 462.5h0M277.4 462.7h0M277.5 463.4h0M277.7 462.5h0M277.8 461.5h0M277.9 462.2h0M278.0 463.0h0M278.1 463.0h0M278.3 462.5h0M278.4 462.3h0M278.5 462.4h0M278.6 462.0h0M278.7 461.2h0M278.8 461.6h0M279.0 461.1h0M279.1 461.1h0M279.2 461.1h0M279.3 461.5h0M279.4 461.0h0M279.6 461.9h0M279.7 462.9h0M279.8 463.8h0M279.9 464.7h0M280.0 463.6h0M280.1 460.8h0M280.3 461.0h0M280.4 462.7h0M280.5 463.9h0M280.6 463.0h0M280.7 462.8h0M280.9 463.1h0M281.0 461.1h0M281.1 460.8h0M281.2 460.0h0M281.3 454.2h0M281.4 447.5h0M281.6 452.2h0M281.7 451.5h0M281.8 446.4h0M281.9 452.7h0M282.0 449.4h0M282.2 450.9h0M282.3 453.6h0M282.4 451.9h0M282.5 447.9h0M282.6 450.8h0M282.7 450.4h0M282.9 446.7h0M283.0 444.7h0M283.1 444.5h0M283.2 447.4h0M283.3 446.7h0M283.4 448.7h0M283.6 451.4h0M283.7 450.9h0M283.8 450.0h0M283.9 449.0h0M284.0 447.1h0M284.2 447.1h0M284.3 446.2h0M284.4 444.4h0M284.5 439.9h0M284.6 434.7h0M284.7 432.6h0M284.9 432.3h0M285.0 430.7h0M285.1 429.8h0M285.2 428.8h0M285.3 429.0h0M285.5 428.1h0M285.6 427.5h0M285.7 431.3h0M285.8 428.9h0M285.9 430.0h0M286.0 424.9h0M286.2 425.4h0M286.3 424.9h0M286.4 424.5h0M286.5 421.3h0M286.6 416.0h0M286.8 413.7h0M286.9 411.1h0M287.0 412.3h0M287.1 414.9h0M287.2 411.4h0M287.3 413.6h0M287.5 412.6h0M287.6 414.0h0M287.7 413.1h0M287.8 411.1h0M287.9 413.6h0M288.1 414.8h0M288.2 413.1h0M288.3 412.4h0M288.4 412.9h0M288.5 413.3h0M288.6 413.8h0M288.8 414.5h0M288.9 416.2h0M289.0 416.1h0M289.1 416.8h0M289.2 417.1h0M289.3 416.4h0M289.5 414.1h0M289.6 415.0h0M289.7 415.4h0M289.8 416.6h0M289.9 416.5h0M290.1 416.3h0M290.2 416.2h0M290.3 416.1h0M290.4 416.0h0M290.5 414.9h0M290.6 415.8h0M290.8 415.6h0M290.9 408.7h0M291.0 412.6h0M291.1 409.2h0M291.2 411.5h0M291.4 409.4h0M291.5 410.0h0M291.6 411.6h0M291.7 411.5h0M291.8 407.2h0M291.9 412.2h0M292.1 412.4h0M292.2 411.3h0M292.3 412.6h0M292.4 409.5h0M292.5 413.9h0M292.7 413.6h0M292.8 413.3h0M292.9 413.0h0M293.0 408.1h0M293.1 401.2h0M293.2 402.5h0M293.4 404.1h0M293.5 409.5h0M293.6 409.5h0M293.7 402.8h0M293.8 404.8h0M294.0 407.3h0M294.1 408.9h0M294.2 408.2h0M294.3 401.0h0M294.4 405.6h0M294.5 400.4h0M294.7 402.4h0M294.8 392.6h0M294.9 397.2h0M295.0 392.3h0M295.1 398.7h0M295.2 404.4h0M295.4 403.9h0M295.5 399.9h0M295.6 393.1h0M295.7 387.8h0M295.8 392.2h0M296.0 393.8h0M296.1 394.0h0M296.2 394.9h0M296.3 396.6h0M296.4 397.9h0M296.5 399.2h0M296.7 398.7h0M296.8 397.7h0M296.9 387.9h0M297.0 382.7h0M297.1 381.7h0M297.3 381.0h0M297.4 381.7h0M297.5 386.5h0M297.6 384.9h0M297.7 383.6h0M297.8 382.6h0M298.0 383.8h0M298.1 382.3h0M298.2 384.1h0M298.3 385.2h0M298.4 386.1h0M298.6 388.2h0M298.7 387.1h0M298.8 386.5h0M298.9 389.8h0M299.0 388.5h0M299.1 388.8h0M299.3 387.5h0M299.4 384.5h0M299.5 381.4h0M299.6 377.1h0M299.7 377.2h0M299.9 374.7h0M300.0 373.4h0M300.1 378.8h0M300.2 377.3h0M300.3 380.3h0M300.4 379.3h0M300.6 379.5h0M300.7 376.5h0M300.8 375.6h0M300.9 376.7h0M301.0 375.6h0M301.1 374.4h0M301.3 373.3h0M301.4 372.2h0M301.5 372.5h0M301.6 372.2h0M301.7 373.4h0M301.9 375.0h0M302.0 374.8h0M302.1 374.9h0M302.2 374.6h0M302.3 374.7h0M302.4 372.6h0M302.6 371.8h0M302.7 372.1h0M302.8 372.2h0M302.9 372.4h0M303.0 372.8h0M303.2 373.2h0M303.3 373.7h0M303.4 374.2h0M303.5 374.8h0M303.6 375.1h0M303.7 375.6h0M303.9 376.7h0M304.0 378.7h0M304.1 378.5h0M304.2 380.3h0M304.3 381.4h0M304.5 382.3h0M304.6 386.0h0M304.7 384.8h0M304.8 385.5h0M304.9 386.0h0M305.0 385.3h0M305.2 382.8h0M305.3 384.6h0M305.4 385.2h0M305.5 385.2h0M305.6 385.2h0M305.8 385.3h0M305.9 383.2h0M306.0 384.3h0M306.1 381.2h0M306.2 381.8h0M306.3 381.3h0M306.5 381.3h0M306.6 382.6h0M306.7 382.7h0M306.8 382.3h0M306.9 384.2h0M307.0 384.0h0M307.2 383.5h0M307.3 383.2h0M307.4 388.5h0M307.5 390.3h0M307.6 391.2h0M307.8 386.6h0M307.9 389.1h0M308.0 384.4h0M308.1 386.8h0M308.2 383.6h0M308.3 391.6h0M308.5 384.7h0M308.6 390.2h0M308.7 393.2h0M308.8 385.3h0M308.9 385.2h0M309.1 392.3h0M309.2 396.2h0M309.3 389.2h0M309.4 388.4h0M309.5 386.9h0M309.6 387.5h0M309.8 388.4h0M309.9 393.4h0M310.0 394.6h0M310.1 394.6h0M310.2 394.5h0M310.4 397.2h0M310.5 399.3h0M310.6 397.3h0M310.7 401.0h0M310.8 399.0h0M310.9 399.2h0M311.1 400.4h0M311.2 402.8h0M311.3 401.8h0M311.4 401.8h0M311.5 403.1h0M311.7 403.3h0M311.8 403.4h0M311.9 403.4h0M312.0 403.4h0M312.1 403.4h0M312.2 403.4h0M312.4 403.3h0M312.5 403.4h0M312.6 400.5h0M312.7 398.0h0M312.8 401.4h0M312.9 401.7h0M313.1 398.8h0M313.2 398.4h0M313.3 399.6h0M313.4 396.1h0M313.5 396.7h0M313.7 394.4h0M313.8 392.1h0M313.9 390.1h0M314.0 392.7h0M314.1 386.0h0M314.2 383.1h0M314.4 385.1h0M314.5 378.1h0M314.6 373.9h0M314.7 374.1h0M314.8 373.6h0M315.0 372.4h0M315.1 373.2h0M315.2 369.5h0M315.3 384.0h0M315.4 377.2h0M315.5 374.0h0M315.7 367.9h0M315.8 367.4h0M315.9 374.6h0M316.0 374.0h0M316.1 376.1h0M316.3 372.6h0M316.4 379.2h0M316.5 377.9h0M316.6 370.9h0M316.7 373.7h0M316.8 371.0h0M317.0 372.8h0M317.1 372.0h0M317.2 371.7h0M317.3 370.8h0M317.4 366.8h0M317.6 363.5h0M317.7 365.8h0M317.8 365.3h0M317.9 365.7h0M318.0 364.5h0M318.1 362.8h0M318.3 362.7h0M318.4 363.0h0M318.5 362.9h0M318.6 363.0h0M318.7 363.0h0M318.8 363.2h0M319.0 363.3h0M319.1 363.5h0M319.2 363.8h0M319.3 363.8h0M319.4 363.9h0M319.6 364.4h0M319.7 366.3h0M319.8 366.9h0M319.9 375.9h0M320.0 376.7h0M320.1 377.2h0M320.3 373.4h0M320.4 379.5h0M320.5 373.4h0M320.6 367.4h0M320.7 367.6h0M320.9 370.2h0M321.0 368.5h0M321.1 375.6h0M321.2 376.5h0M321.3 370.3h0M321.4 371.3h0M321.6 384.0h0M321.7 378.0h0M321.8 372.5h0M321.9 377.1h0M322.0 388.1h0M322.2 394.2h0M322.3 391.0h0M322.4 391.8h0M322.5 393.3h0M322.6 398.3h0M322.7 400.4h0M322.9 400.8h0M323.0 401.3h0M323.1 401.4h0M323.2 402.1h0M323.3 398.6h0M323.5 395.9h0M323.6 398.4h0M323.7 396.5h0M323.8 400.4h0M323.9 399.8h0M324.0 400.8h0M324.2 400.7h0M324.3 400.1h0M324.4 400.6h0M324.5 403.0h0M324.6 405.4h0M324.7 404.6h0M324.9 404.5h0M325.0 403.6h0M325.1 401.2h0M325.2 401.9h0M325.3 400.1h0M325.5 400.3h0M325.6 402.9h0M325.7 399.2h0M325.8 400.0h0M325.9 401.1h0M326.0 399.3h0M326.2 399.8h0M326.3 400.1h0M326.4 398.5h0M326.5 401.4h0M326.6 396.3h0M326.8 398.0h0M326.9 396.4h0M327.0 392.4h0M327.1 391.7h0M327.2 390.5h0M327.3 393.5h0M327.5 387.6h0M327.6 387.1h0M327.7 385.8h0M327.8 393.1h0M327.9 386.4h0M328.1 392.3h0M328.2 383.4h0M328.3 385.6h0M328.4 385.6h0M328.5 388.0h0M328.6 384.6h0M328.8 381.1h0M328.9 380.8h0M329.0 381.6h0M329.1 383.2h0M329.2 380.8h0M329.4 385.5h0M329.5 382.2h0M329.6 380.2h0M329.7 379.2h0M329.8 382.7h0M329.9 393.6h0M330.1 386.8h0M330.2 388.2h0M330.3 392.0h0M330.4 394.8h0M330.5 387.0h0M330.6 387.7h0M330.8 389.3h0M330.9 386.1h0M331.0 387.5h0M331.1 388.1h0M331.2 388.8h0M331.4 388.5h0M331.5 388.7h0M331.6 388.5h0M331.7 388.8h0M331.8 388.9h0M331.9 388.8h0M332.1 388.4h0M332.2 388.9h0M332.3 389.1h0M332.4 389.1h0M332.5 388.6h0M332.7 388.3h0M332.8 389.4h0M332.9 390.2h0M333.0 388.9h0M333.1 388.7h0M333.2 388.7h0M333.4 387.5h0M333.5 383.5h0M333.6 388.8h0M333.7 390.9h0M333.8 388.8h0M334.0 379.4h0M334.1 377.7h0M334.2 378.7h0M334.3 384.3h0M334.4 382.0h0M334.5 389.1h0M334.7 388.7h0M334.8 383.0h0M334.9 375.7h0M335.0 375.6h0M335.1 375.5h0M335.3 375.3h0M335.4 375.2h0M335.5 380.7h0M335.6 381.1h0M335.7 376.1h0M335.8 390.4h0M336.0 390.5h0M336.1 387.2h0M336.2 384.4h0M336.3 376.7h0M336.4 380.9h0M336.5 383.3h0M336.7 391.5h0M336.8 393.6h0M336.9 393.6h0M337.0 393.4h0M337.1 392.8h0M337.3 389.1h0M337.4 387.1h0M337.5 378.6h0M337.6 378.3h0M337.7 377.0h0M337.8 381.2h0M338.0 380.8h0M338.1 372.7h0M338.2 373.7h0M338.3 381.7h0M338.4 373.0h0M338.6 372.0h0M338.7 372.9h0M338.8 371.8h0M338.9 371.7h0M339.0 371.6h0M339.1 371.5h0M339.3 371.5h0M339.4 373.7h0M339.5 371.1h0M339.6 371.8h0M339.7 377.3h0M339.9 376.5h0M340.0 378.8h0M340.1 381.5h0M340.2 379.3h0M340.3 383.1h0M340.4 383.1h0M340.6 377.0h0M340.7 379.1h0M340.8 382.0h0M340.9 383.3h0M341.0 379.2h0M341.2 380.1h0M341.3 383.2h0M341.4 382.3h0M341.5 382.9h0M341.6 382.5h0M341.7 382.2h0M341.9 381.8h0M342.0 380.3h0M342.1 381.2h0M342.2 379.9h0M342.3 376.4h0M342.4 375.1h0M342.6 373.8h0M342.7 374.8h0M342.8 375.8h0M342.9 368.9h0M343.0 365.9h0M343.2 368.1h0M343.3 370.6h0M343.4 370.5h0M343.5 378.4h0M343.6 378.1h0M343.7 377.9h0M343.9 377.7h0M344.0 377.4h0M344.1 377.0h0M344.2 370.0h0M344.3 369.3h0M344.5 368.3h0M344.6 375.1h0M344.7 365.0h0M344.8 372.3h0M344.9 369.6h0M345.0 372.0h0M345.2 368.6h0M345.3 367.8h0M345.4 371.0h0M345.5 369.4h0M345.6 370.9h0M345.8 368.8h0M345.9 364.6h0M346.0 361.5h0M346.1 356.9h0M346.2 355.8h0M346.3 363.7h0M346.5 354.6h0M346.6 346.0h0M346.7 347.1h0M346.8 357.8h0M346.9 361.7h0M347.1 363.1h0M347.2 362.4h0M347.3 360.6h0M347.4 359.1h0M347.5 344.2h0M347.6 342.9h0M347.8 346.5h0M347.9 341.2h0M348.0 340.6h0M348.1 340.1h0M348.2 339.7h0M348.3 342.4h0M348.5 354.8h0M348.6 355.6h0M348.7 350.1h0M348.8 338.5h0M348.9 340.0h0M349.1 346.2h0M349.2 338.0h0M349.3 337.0h0M349.4 336.4h0M349.5 337.5h0M349.6 337.6h0M349.8 341.2h0M349.9 347.1h0M350.0 346.4h0M350.1 348.9h0M350.2 350.9h0M350.4 348.6h0M350.5 341.9h0M350.6 344.5h0M350.7 350.0h0M350.8 349.6h0M350.9 349.5h0M351.1 348.7h0M351.2 349.0h0M351.3 346.3h0M351.4 347.6h0M351.5 347.5h0M351.7 347.4h0M351.8 347.9h0M351.9 347.6h0M352.0 347.3h0M352.1 347.1h0M352.2 339.4h0M352.4 344.2h0M352.5 346.4h0M352.6 346.2h0M352.7 346.0h0M352.8 345.7h0M353.0 345.5h0M353.1 345.1h0M353.2 345.0h0M353.3 343.4h0M353.4 340.1h0M353.5 339.9h0M353.7 338.7h0M353.8 327.3h0M353.9 341.1h0M354.0 340.6h0M354.1 329.1h0M354.2 336.3h0M354.4 335.2h0M354.5 335.4h0M354.6 337.2h0M354.7 331.9h0M354.8 321.2h0M355.0 321.7h0M355.1 323.8h0M355.2 328.9h0M355.3 325.7h0M355.4 325.2h0M355.5 327.0h0M355.7 325.8h0M355.8 325.1h0M355.9 325.8h0M356.0 323.3h0M356.1 329.1h0M356.3 328.1h0M356.4 329.8h0M356.5 330.5h0M356.6 330.4h0M356.7 333.9h0M356.8 337.9h0M357.0 340.7h0M357.1 342.2h0M357.2 343.1h0M357.3 345.0h0M357.4 343.2h0M357.6 344.8h0M357.7 347.5h0M357.8 349.8h0M357.9 347.8h0M358.0 344.8h0M358.1 350.2h0M358.3 347.9h0M358.4 342.2h0M358.5 339.7h0M358.6 340.0h0M358.7 345.1h0M358.9 345.0h0M359.0 349.5h0M359.1 349.3h0M359.2 349.8h0M359.3 350.8h0M359.4 348.9h0M359.6 348.7h0M359.7 345.8h0M359.8 341.2h0M359.9 344.7h0M360.0 338.8h0M360.1 339.6h0M360.3 334.6h0M360.4 335.1h0M360.5 332.6h0M360.6 341.1h0M360.7 341.1h0M360.9 341.1h0M361.0 348.4h0M361.1 328.9h0M361.2 324.7h0M361.3 323.3h0M361.4 322.8h0M361.6 323.0h0M361.7 328.5h0M361.8 331.8h0M361.9 326.2h0M362.0 341.0h0M362.2 341.4h0M362.3 337.6h0M362.4 327.5h0M362.5 331.6h0M362.6 327.4h0M362.7 324.4h0M362.9 326.9h0M363.0 329.0h0M363.1 322.4h0M363.2 333.1h0M363.3 323.7h0M363.5 316.6h0M363.6 320.1h0M363.7 321.9h0M363.8 322.9h0M363.9 319.8h0M364.0 320.6h0M364.2 316.7h0M364.3 309.9h0M364.4 314.4h0M364.5 310.5h0M364.6 310.8h0M364.8 315.3h0M364.9 315.3h0M365.0 324.1h0M365.1 317.6h0M365.2 313.1h0M365.3 312.8h0M365.5 316.0h0M365.6 313.5h0M365.7 309.6h0M365.8 315.0h0M365.9 312.3h0M366.0 312.8h0M366.2 318.6h0M366.3 315.9h0M366.4 314.8h0M366.5 319.5h0M366.6 319.3h0M366.8 322.7h0M366.9 316.8h0M367.0 318.1h0M367.1 314.3h0M367.2 314.0h0M367.3 324.9h0M367.5 330.6h0M367.6 338.0h0M367.7 331.5h0M367.8 334.1h0M367.9 340.5h0M368.1 342.7h0M368.2 353.8h0M368.3 360.2h0M368.4 322.6h0M368.5 328.4h0M368.6 337.1h0M368.8 347.5h0M368.9 357.1h0M369.0 360.1h0M369.1 365.2h0M369.2 381.9h0M369.4 384.2h0M369.5 387.0h0M369.6 388.4h0M369.7 382.7h0M369.8 392.9h0M369.9 383.9h0M370.1 387.4h0M370.2 389.2h0M370.3 387.3h0M370.4 390.6h0M370.5 393.9h0M370.7 395.1h0M370.8 393.8h0M370.9 396.5h0M371.0 401.3h0M371.1 402.5h0M371.2 406.8h0M371.4 408.0h0M371.5 409.2h0M371.6 410.4h0M371.7 411.5h0M371.8 409.9h0M371.9 411.9h0M372.1 413.7h0M372.2 416.3h0M372.3 417.4h0M372.4 418.6h0M372.5 419.8h0M372.7 419.1h0M372.8 416.7h0M372.9 413.5h0M373.0 419.9h0M373.1 416.2h0M373.2 413.8h0M373.4 415.9h0M373.5 412.3h0M373.6 412.3h0M373.7 404.7h0M373.8 408.4h0M374.0 410.2h0M374.1 414.2h0M374.2 418.8h0M374.3 413.1h0M374.4 426.5h0M374.5 427.2h0M374.7 427.9h0M374.8 421.9h0M374.9 426.0h0M375.0 428.3h0M375.1 426.9h0M375.3 427.7h0M375.4 431.0h0M375.5 429.5h0M375.6 425.8h0M375.7 430.5h0M375.8 430.6h0M376.0 429.4h0M376.1 431.9h0M376.2 431.9h0M376.3 431.9h0M376.4 431.8h0M376.6 429.8h0M376.7 429.9h0M376.8 429.7h0M376.9 425.7h0M377.0 424.1h0M377.1 426.0h0M377.3 427.7h0M377.4 429.8h0M377.5 431.8h0M377.6 431.5h0M377.7 431.9h0M377.8 429.3h0M378.0 426.7h0M378.1 431.2h0M378.2 416.9h0M378.3 421.0h0M378.4 431.8h0M378.6 426.0h0M378.7 431.8h0M378.8 420.3h0M378.9 423.4h0M379.0 431.7h0M379.1 431.7h0M379.3 430.0h0M379.4 419.5h0M379.5 409.1h0M379.6 416.6h0M379.7 414.3h0M379.9 415.6h0M380.0 418.6h0M380.1 422.1h0M380.2 425.5h0M380.3 425.2h0M380.4 411.2h0M380.6 424.2h0M380.7 403.1h0M380.8 413.4h0M380.9 408.6h0M381.0 408.0h0M381.2 405.0h0M381.3 403.6h0M381.4 404.8h0M381.5 403.7h0M381.6 397.6h0M381.7 405.8h0M381.9 399.9h0M382.0 411.2h0M382.1 405.6h0M382.2 394.5h0M382.3 397.1h0M382.5 403.1h0M382.6 387.8h0M382.7 383.0h0M382.8 396.0h0M382.9 382.6h0M383.0 374.2h0M383.2 375.8h0M383.3 368.5h0M383.4 365.9h0M383.5 365.7h0M383.6 365.5h0M383.7 365.9h0M383.9 367.7h0M384.0 369.7h0M384.1 366.8h0M384.2 370.0h0M384.3 375.0h0M384.5 372.5h0M384.6 376.9h0M384.7 375.4h0M384.8 376.7h0M384.9 378.7h0M385.0 370.6h0M385.2 380.4h0M385.3 375.1h0M385.4 375.4h0M385.5 373.1h0M385.6 377.8h0M385.8 381.7h0M385.9 382.0h0M386.0 390.9h0M386.1 390.8h0M386.2 386.8h0M386.3 366.5h0M386.5 367.5h0M386.6 368.3h0M386.7 366.6h0M386.8 366.6h0M386.9 370.7h0M387.1 380.8h0M387.2 393.0h0M387.3 393.9h0M387.4 391.0h0M387.5 391.0h0M387.6 379.4h0M387.8 385.9h0M387.9 388.0h0M388.0 382.3h0M388.1 381.8h0M388.2 380.2h0M388.4 376.1h0M388.5 388.0h0M388.6 394.8h0M388.7 393.9h0M388.8 393.1h0M388.9 392.3h0M389.1 391.4h0M389.2 390.6h0M389.3 389.7h0M389.4 388.9h0M389.5 387.5h0M389.6 387.2h0M389.8 385.0h0M389.9 385.0h0M390.0 377.6h0M390.1 376.5h0M390.2 381.5h0M390.4 375.6h0M390.5 372.3h0M390.6 377.7h0M390.7 377.7h0M390.8 378.7h0M390.9 370.5h0M391.1 371.7h0M391.2 368.5h0M391.3 367.1h0M391.4 369.0h0M391.5 376.0h0M391.7 369.9h0M391.8 367.9h0M391.9 367.9h0M392.0 369.2h0M392.1 368.3h0M392.2 381.4h0M392.4 386.3h0M392.5 383.8h0M392.6 380.3h0M392.7 397.0h0M392.8 398.5h0M393.0 399.9h0M393.1 401.2h0M393.2 402.6h0M393.3 399.3h0M393.4 393.4h0M393.5 404.5h0M393.7 397.7h0M393.8 393.2h0M393.9 380.6h0M394.0 377.9h0M394.1 388.0h0M394.3 382.4h0M394.4 376.9h0M394.5 377.5h0M394.6 397.9h0M394.7 401.4h0M394.8 395.7h0M395.0 399.9h0M395.1 406.7h0M395.2 408.4h0M395.3 390.0h0M395.4 396.8h0M395.5 397.8h0M395.7 410.2h0M395.8 396.9h0M395.9 411.6h0M396.0 407.0h0M396.1 394.5h0M396.3 410.2h0M396.4 406.1h0M396.5 412.4h0M396.6 411.8h0M396.7 424.5h0M396.8 432.0h0M397.0 434.6h0M397.1 435.2h0M397.2 423.3h0M397.3 406.6h0M397.4 411.4h0M397.6 406.6h0M397.7 414.3h0M397.8 418.6h0M397.9 411.1h0M398.0 411.3h0M398.1 413.3h0M398.3 415.2h0M398.4 417.2h0M398.5 421.3h0M398.6 430.7h0M398.7 427.1h0M398.9 427.2h0M399.0 434.7h0M399.1 435.9h0M399.2 434.4h0M399.3 423.8h0M399.4 420.3h0M399.6 419.8h0M399.7 417.2h0M399.8 425.0h0M399.9 423.3h0M400.0 422.5h0M400.2 414.5h0M400.3 408.5h0M400.4 405.5h0M400.5 403.0h0M400.6 403.1h0M400.7 405.2h0M400.9 406.2h0M401.0 409.5h0M401.1 403.3h0M401.2 403.6h0M401.3 403.3h0M401.4 404.6h0M401.6 403.7h0M401.7 404.7h0M401.8 403.7h0M401.9 405.2h0M402.0 406.7h0M402.2 405.5h0M402.3 405.0h0M402.4 405.8h0M402.5 408.5h0M402.6 405.2h0M402.7 409.5h0M402.9 408.8h0M403.0 416.3h0M403.1 416.8h0M403.2 415.4h0M403.3 412.0h0M403.5 414.7h0M403.6 414.1h0M403.7 413.4h0M403.8 412.2h0M403.9 410.6h0M404.0 410.8h0M404.2 410.4h0M404.3 407.6h0M404.4 408.9h0M404.5 408.1h0M404.6 405.3h0M404.8 406.3h0M404.9 405.0h0M405.0 405.2h0M405.1 404.2h0M405.2 404.8h0M405.3 401.9h0M405.5 403.0h0M405.6 400.9h0M405.7 401.7h0M405.8 400.6h0M405.9 400.6h0M406.1 401.5h0M406.2 403.1h0M406.3 406.6h0M406.4 403.6h0M406.5 408.2h0M406.6 410.2h0M406.8 407.7h0M406.9 405.0h0M407.0 403.6h0M407.1 405.4h0M407.2 407.8h0M407.3 404.7h0M407.5 407.2h0M407.6 408.8h0M407.7 408.9h0M407.8 413.5h0M407.9 414.3h0M408.1 420.2h0M408.2 423.1h0M408.3 422.8h0M408.4 427.6h0M408.5 430.1h0M408.6 429.3h0M408.8 424.4h0M408.9 424.7h0M409.0 429.0h0M409.1 428.5h0M409.2 434.8h0M409.4 434.7h0M409.5 434.4h0M409.6 434.8h0M409.7 431.1h0M409.8 430.6h0M409.9 428.4h0M410.1 425.0h0M410.2 425.1h0M410.3 425.2h0M410.4 425.3h0M410.5 425.8h0M410.7 425.5h0M410.8 425.6h0M410.9 426.9h0M411.0 427.9h0M411.1 426.2h0M411.2 431.3h0M411.4 430.0h0M411.5 427.7h0M411.6 431.7h0M411.7 422.8h0M411.8 425.2h0M412.0 419.7h0M412.1 417.1h0M412.2 415.3h0M412.3 415.9h0M412.4 416.7h0M412.5 418.6h0M412.7 419.7h0M412.8 427.6h0M412.9 430.7h0M413.0 430.3h0M413.1 429.9h0M413.2 428.5h0M413.4 420.5h0M413.5 423.1h0M413.6 421.9h0M413.7 424.9h0M413.8 412.6h0M414.0 426.4h0M414.1 418.4h0M414.2 417.8h0M414.3 422.1h0M414.4 413.1h0M414.5 410.5h0M414.7 405.9h0M414.8 405.8h0M414.9 405.7h0M415.0 405.6h0M415.1 405.3h0M415.3 405.0h0M415.4 410.6h0M415.5 417.5h0M415.6 416.2h0M415.7 414.1h0M415.8 412.1h0M416.0 409.5h0M416.1 415.9h0M416.2 415.8h0M416.3 413.0h0M416.4 411.1h0M416.6 413.4h0M416.7 410.5h0M416.8 411.6h0M416.9 410.8h0M417.0 415.7h0M417.1 416.2h0M417.3 410.0h0M417.4 408.4h0M417.5 410.2h0M417.6 407.4h0M417.7 409.1h0M417.9 408.7h0M418.0 408.6h0M418.1 407.1h0M418.2 406.4h0M418.3 406.0h0M418.4 402.6h0M418.6 401.5h0M418.7 400.9h0M418.8 404.7h0M418.9 405.9h0M419.0 407.3h0M419.1 408.1h0M419.3 406.7h0M419.4 404.7h0M419.5 408.8h0M419.6 407.7h0M419.7 414.5h0M419.9 415.0h0M420.0 415.2h0M420.1 413.6h0M420.2 413.0h0M420.3 413.1h0M420.4 418.8h0M420.6 419.8h0M420.7 419.3h0M420.8 419.2h0M420.9 420.3h0M421.0 416.5h0M421.2 413.6h0M421.3 412.2h0M421.4 407.9h0M421.5 409.8h0M421.6 411.1h0M421.7 412.2h0M421.9 413.7h0M422.0 415.7h0M422.1 423.5h0M422.2 423.4h0M422.3 424.4h0M422.5 422.7h0M422.6 423.3h0M422.7 421.8h0M422.8 421.1h0M422.9 417.7h0M423.0 415.8h0M423.2 418.6h0M423.3 422.2h0M423.4 424.0h0M423.5 421.3h0M423.6 423.0h0M423.8 415.9h0M423.9 419.5h0M424.0 420.4h0M424.1 422.3h0M424.2 427.0h0M424.3 425.1h0M424.5 428.3h0M424.6 426.3h0M424.7 428.0h0M424.8 426.1h0M424.9 427.2h0M425.0 431.1h0M425.2 428.6h0M425.3 426.0h0M425.4 425.0h0M425.5 426.6h0M425.6 432.7h0M425.8 432.0h0M425.9 424.2h0M426.0 422.9h0M426.1 420.7h0M426.2 420.8h0M426.3 421.5h0M426.5 421.1h0M426.6 421.2h0M426.7 421.3h0M426.8 421.4h0M426.9 421.5h0M427.1 424.4h0M427.2 429.9h0M427.3 426.3h0M427.4 425.8h0M427.5 427.0h0M427.6 431.4h0M427.8 424.4h0M427.9 425.4h0M428.0 435.1h0M428.1 434.1h0M428.2 434.8h0M428.4 434.4h0M428.5 428.6h0M428.6 434.0h0M428.7 435.1h0M428.8 435.6h0M428.9 438.1h0M429.1 439.9h0M429.2 431.0h0M429.3 434.1h0M429.4 431.6h0M429.5 433.2h0M429.7 430.4h0M429.8 428.2h0M429.9 433.8h0M430.0 434.3h0M430.1 433.5h0M430.2 432.8h0M430.4 434.1h0M430.5 434.6h0M430.6 428.1h0M430.7 428.4h0M430.8 428.7h0M430.9 432.0h0M431.1 438.7h0M431.2 434.8h0M431.3 442.1h0M431.4 441.7h0M431.5 442.3h0M431.7 440.1h0M431.8 437.7h0M431.9 442.3h0M432.0 441.1h0M432.1 440.5h0M432.2 443.0h0M432.4 443.5h0M432.5 441.6h0M432.6 440.8h0M432.7 440.7h0M432.8 443.7h0M433.0 443.7h0M433.1 443.8h0M433.2 443.8h0M433.3 443.8h0M433.4 443.9h0M433.5 443.9h0M433.7 444.0h0M433.8 443.7h0M433.9 439.3h0M434.0 438.7h0M434.1 439.7h0M434.3 441.5h0M434.4 439.9h0M434.5 440.3h0M434.6 440.7h0M434.7 441.1h0M434.8 441.6h0M435.0 442.2h0M435.1 442.1h0M435.2 442.1h0M435.3 442.2h0M435.4 443.3h0M435.6 443.6h0M435.7 443.4h0M435.8 443.5h0M435.9 444.1h0M436.0 444.1h0M436.1 444.0h0M436.3 443.0h0M436.4 443.5h0M436.5 443.6h0M436.6 444.4h0M436.7 444.3h0M436.8 444.2h0M437.0 443.7h0M437.1 444.1h0M437.2 443.9h0M437.3 443.4h0M437.4 444.3h0M437.6 444.4h0M437.7 444.4h0M437.8 443.9h0M437.9 444.3h0M438.0 443.8h0M438.1 444.3h0M438.3 444.3h0M438.4 444.2h0M438.5 443.5h0M438.6 443.1h0M438.7 444.0h0M438.9 444.0h0M439.0 442.8h0M439.1 443.9h0M439.2 443.8h0M439.3 443.7h0M439.4 443.0h0M439.6 441.6h0M439.7 443.6h0M439.8 441.4h0M439.9 440.9h0M440.0 436.6h0M440.2 441.5h0M440.3 439.8h0M440.4 441.6h0M440.5 441.7h0M440.6 438.6h0M440.7 440.1h0M440.9 440.5h0M441.0 435.5h0M441.1 438.0h0M441.2 439.3h0M441.3 439.0h0M441.5 438.6h0M441.6 435.8h0M441.7 434.9h0M441.8 429.8h0M441.9 430.9h0M442.0 428.4h0M442.2 421.3h0M442.3 424.8h0M442.4 422.2h0M442.5 417.4h0M442.6 417.2h0M442.7 414.2h0M442.9 414.8h0M443.0 414.0h0M443.1 413.8h0M443.2 415.5h0M443.3 413.7h0M443.5 416.3h0M443.6 412.9h0M443.7 417.4h0M443.8 418.2h0M443.9 418.0h0M444.0 416.4h0M444.2 418.9h0M444.3 418.9h0M444.4 418.9h0M444.5 422.6h0M444.6 421.4h0M444.8 421.0h0M444.9 423.0h0M445.0 426.1h0M445.1 425.2h0M445.2 425.0h0M445.3 424.6h0M445.5 425.9h0M445.6 426.1h0M445.7 425.2h0M445.8 424.4h0M445.9 423.8h0M446.1 425.0h0M446.2 425.8h0M446.3 425.8h0M446.4 425.7h0M446.5 425.6h0M446.6 424.0h0M446.8 421.6h0M446.9 420.5h0M447.0 421.0h0M447.1 422.0h0M447.2 420.7h0M447.4 425.1h0M447.5 423.2h0M447.6 422.6h0M447.7 424.9h0M447.8 425.4h0M447.9 425.1h0M448.1 425.2h0M448.2 425.4h0M448.3 425.3h0M448.4 425.4h0M448.5 423.8h0M448.6 423.8h0M448.8 419.5h0M448.9 418.2h0M449.0 417.2h0M449.1 420.9h0M449.2 420.2h0M449.4 421.5h0M449.5 419.6h0M449.6 419.9h0M449.7 419.9h0M449.8 418.8h0M449.9 421.6h0M450.1 418.4h0M450.2 420.4h0M450.3 424.8h0M450.4 423.5h0M450.5 423.2h0M450.7 419.8h0M450.8 420.1h0M450.9 417.8h0M451.0 419.3h0M451.1 418.9h0M451.2 417.6h0M451.4 417.6h0M451.5 417.6h0M451.6 417.6h0M451.7 418.0h0M451.8 418.0h0M452.0 417.6h0M452.1 417.6h0M452.2 417.8h0M452.3 417.6h0M452.4 417.6h0M452.5 418.1h0M452.7 417.6h0M452.8 417.9h0M452.9 417.6h0M453.0 417.6h0M453.1 418.6h0M453.3 417.8h0M453.4 417.7h0M453.5 417.8h0M453.6 417.8h0M453.7 417.8h0M453.8 417.9h0M454.0 417.9h0M454.1 418.0h0M454.2 418.0h0M454.3 418.0h0M454.4 418.6h0M454.5 419.2h0M454.7 418.4h0M454.8 422.7h0M454.9 420.0h0M455.0 422.4h0M455.1 420.8h0M455.3 422.4h0M455.4 424.2h0M455.5 426.4h0M455.6 428.2h0M455.7 426.7h0M455.8 428.9h0M456.0 429.3h0M456.1 429.3h0M456.2 425.0h0M456.3 430.5h0M456.4 430.9h0M456.6 431.3h0M456.7 431.8h0M456.8 432.2h0M456.9 432.6h0M457.0 432.9h0M457.1 432.4h0M457.3 433.8h0M457.4 433.5h0M457.5 428.2h0M457.6 431.9h0M457.7 423.5h0M457.9 421.8h0M458.0 429.3h0M458.1 430.9h0M458.2 432.1h0M458.3 432.5h0M458.4 435.8h0M458.6 435.0h0M458.7 427.4h0M458.8 429.8h0M458.9 425.7h0M459.0 426.5h0M459.2 427.7h0M459.3 431.8h0M459.4 431.5h0M459.5 432.4h0M459.6 433.5h0M459.7 436.1h0M459.9 434.9h0M460.0 434.1h0M460.1 433.8h0M460.2 434.3h0M460.3 435.0h0M460.4 434.6h0M460.6 436.0h0M460.7 434.3h0M460.8 434.5h0M460.9 433.7h0M461.0 432.8h0M461.2 435.1h0M461.3 434.7h0M461.4 433.3h0M461.5 433.8h0M461.6 432.8h0M461.7 434.1h0M461.9 435.9h0M462.0 437.3h0M462.1 435.3h0M462.2 435.0h0M462.3 437.7h0M462.5 437.1h0M462.6 437.9h0M462.7 437.9h0M462.8 437.2h0M462.9 437.9h0M463.0 437.9h0M463.2 437.8h0M463.3 437.7h0M463.4 437.6h0M463.5 437.5h0M463.6 437.4h0M463.8 437.3h0M463.9 437.2h0M464.0 428.5h0M464.1 435.8h0M464.2 432.5h0M464.3 434.1h0M464.5 434.3h0M464.6 433.5h0M464.7 432.8h0M464.8 431.8h0M464.9 419.0h0M465.1 416.4h0M465.2 426.4h0M465.3 418.6h0M465.4 413.7h0M465.5 428.0h0M465.6 431.1h0M465.8 430.3h0M465.9 429.4h0M466.0 428.4h0M466.1 427.5h0M466.2 426.5h0M466.3 425.5h0M466.5 418.7h0M466.6 414.7h0M466.7 409.2h0M466.8 415.4h0M466.9 412.6h0M467.1 411.1h0M467.2 411.8h0M467.3 410.8h0M467.4 412.0h0M467.5 407.9h0M467.6 401.8h0M467.8 410.3h0M467.9 406.3h0M468.0 404.2h0M468.1 401.3h0M468.2 400.0h0M468.4 401.0h0M468.5 405.3h0M468.6 400.4h0M468.7 402.5h0M468.8 399.7h0M468.9 406.5h0M469.1 399.8h0M469.2 401.0h0M469.3 405.1h0M469.4 398.1h0M469.5 399.5h0M469.7 400.8h0M469.8 397.4h0M469.9 397.4h0M470.0 403.0h0M470.1 403.7h0M470.2 401.1h0M470.4 400.0h0M470.5 402.2h0M470.6 406.9h0M470.7 407.8h0M470.8 407.8h0M471.0 407.5h0M471.1 404.4h0M471.2 396.6h0M471.3 391.0h0M471.4 393.3h0M471.5 390.5h0M471.7 390.3h0M471.8 392.6h0M471.9 389.8h0M472.0 389.6h0M472.1 389.4h0M472.2 392.6h0M472.4 388.9h0M472.5 390.5h0M472.6 394.1h0M472.7 394.9h0M472.8 395.6h0M473.0 400.3h0M473.1 399.6h0M473.2 397.9h0M473.3 395.4h0M473.4 396.7h0M473.5 394.5h0M473.7 395.5h0M473.8 394.6h0M473.9 395.7h0M474.0 392.7h0M474.1 391.9h0M474.3 391.8h0M474.4 391.5h0M474.5 391.8h0M474.6 391.0h0M474.7 390.3h0M474.8 389.5h0M475.0 388.7h0M475.1 388.5h0M475.2 387.5h0M475.3 388.1h0M475.4 387.8h0M475.6 388.2h0M475.7 388.1h0M475.8 389.3h0M475.9 389.9h0M476.0 389.0h0M476.1 389.3h0M476.3 388.8h0M476.4 387.2h0M476.5 388.4h0M476.6 388.4h0M476.7 389.2h0M476.9 391.5h0M477.0 391.7h0M477.1 391.9h0M477.2 392.1h0M477.3 390.7h0M477.4 392.2h0M477.6 391.6h0M477.7 391.4h0M477.8 390.5h0M477.9 390.7h0M478.0 393.5h0M478.1 393.3h0M478.3 392.7h0M478.4 392.9h0M478.5 393.2h0M478.6 390.8h0M478.7 388.6h0M478.9 388.8h0M479.0 389.3h0M479.1 389.3h0M479.2 389.6h0M479.3 389.9h0M479.4 390.2h0M479.6 390.5h0M479.7 390.8h0M479.8 391.1h0M479.9 391.4h0M480.0 392.0h0M480.2 392.0h0M480.3 392.3h0M480.4 392.7h0M480.5 394.7h0M480.6 393.2h0M480.7 394.9h0M480.9 394.8h0M481.0 396.0h0M481.1 398.5h0M481.2 396.7h0M481.3 395.8h0M481.5 396.5h0M481.6 399.3h0M481.7 398.4h0M481.8 396.2h0M481.9 396.4h0M482.0 397.9h0M482.2 402.5h0M482.3 401.1h0M482.4 400.7h0M482.5 401.0h0M482.6 401.4h0M482.8 399.3h0M482.9 399.3h0M483.0 401.2h0M483.1 402.8h0M483.2 403.9h0M483.3 400.8h0M483.5 400.4h0M483.6 399.8h0M483.7 405.5h0M483.8 414.4h0M483.9 415.5h0M484.0 420.4h0M484.2 418.3h0M484.3 415.5h0M484.4 407.3h0M484.5 409.4h0M484.6 407.4h0M484.8 408.8h0M484.9 412.1h0M485.0 410.8h0M485.1 405.8h0M485.2 407.0h0M485.3 407.8h0M485.5 409.0h0M485.6 413.3h0M485.7 412.3h0M485.8 411.2h0M485.9 419.8h0M486.1 422.1h0M486.2 420.6h0M486.3 415.6h0M486.4 413.6h0M486.5 415.7h0M486.6 419.1h0M486.8 422.7h0M486.9 422.5h0M487.0 422.0h0M487.1 420.2h0M487.2 419.9h0M487.4 418.3h0M487.5 415.1h0M487.6 418.9h0M487.7 419.3h0M487.8 422.1h0M487.9 420.6h0M488.1 421.0h0M488.2 422.0h0M488.3 418.0h0M488.4 417.0h0M488.5 419.0h0M488.7 419.8h0M488.8 418.5h0M488.9 419.1h0M489.0 419.6h0M489.1 419.1h0M489.2 420.1h0M489.4 419.2h0M489.5 422.3h0M489.6 421.4h0M489.7 419.6h0M489.8 422.3h0M489.9 422.9h0M490.1 423.0h0M490.2 423.0h0M490.3 423.0h0M490.4 422.9h0M490.5 422.6h0M490.7 420.0h0M490.8 420.6h0M490.9 420.5h0M491.0 421.6h0M491.1 419.4h0M491.2 421.8h0M491.4 422.6h0M491.5 422.6h0M491.6 422.5h0M491.7 422.5h0M491.8 422.5h0M492.0 422.4h0M492.1 421.4h0M492.2 420.5h0M492.3 419.5h0M492.4 412.8h0M492.5 413.9h0M492.7 413.9h0M492.8 414.4h0M492.9 412.2h0M493.0 413.8h0M493.1 415.2h0M493.3 412.4h0M493.4 413.1h0M493.5 414.5h0M493.6 415.1h0M493.7 412.2h0M493.8 409.4h0M494.0 409.7h0M494.1 407.9h0M494.2 412.5h0M494.3 410.5h0M494.4 408.8h0M494.6 409.7h0M494.7 408.7h0M494.8 406.7h0M494.9 406.7h0M495.0 406.6h0M495.1 406.7h0M495.3 406.8h0M495.4 406.9h0M495.5 407.0h0M495.6 407.2h0M495.7 407.3h0M495.8 407.4h0M496.0 407.5h0M496.1 407.6h0M496.2 407.7h0M496.3 407.8h0M496.4 408.2h0M496.6 408.1h0M496.7 408.7h0M496.8 408.3h0M496.9 408.9h0M497.0 409.1h0M497.1 409.4h0M497.3 410.1h0M497.4 410.7h0M497.5 410.9h0M497.6 410.7h0M497.7 409.0h0M497.9 408.8h0M498.0 407.7h0M498.1 407.4h0M498.2 407.1h0M498.3 406.8h0M498.4 407.2h0M498.6 407.8h0M498.7 408.9h0M498.8 408.0h0M498.9 408.1h0M499.0 408.9h0M499.2 408.8h0M499.3 408.5h0M499.4 408.0h0M499.5 406.2h0M499.6 404.7h0M499.7 403.3h0M499.9 403.7h0M500.0 403.3h0M500.1 402.4h0M500.2 402.5h0M500.3 401.3h0M500.5 402.8h0M500.6 405.3h0M500.7 405.0h0M500.8 402.8h0M500.9 398.8h0M501.0 402.9h0M501.2 402.8h0M501.3 398.9h0M501.4 401.1h0M501.5 395.7h0M501.6 394.5h0M501.7 393.9h0M501.9 392.9h0M502.0 390.7h0M502.1 397.7h0M502.2 395.3h0M502.3 396.0h0M502.5 395.2h0M502.6 388.8h0M502.7 387.4h0M502.8 387.9h0M502.9 391.0h0M503.0 388.8h0M503.2 389.5h0M503.3 387.3h0M503.4 388.7h0M503.5 380.5h0M503.6 381.9h0M503.8 380.1h0M503.9 378.7h0M504.0 377.2h0M504.1 376.3h0M504.2 375.5h0M504.3 381.2h0M504.5 377.7h0M504.6 375.2h0M504.7 376.8h0M504.8 377.3h0M504.9 374.4h0M505.1 373.6h0M505.2 372.5h0M505.3 374.7h0M505.4 376.7h0M505.5 379.2h0M505.6 378.5h0M505.8 377.8h0M505.9 377.1h0M506.0 376.4h0M506.1 374.2h0M506.2 375.0h0M506.4 374.3h0M506.5 373.6h0M506.6 372.6h0M506.7 372.2h0M506.8 371.5h0M506.9 370.4h0M507.1 368.7h0M507.2 367.1h0M507.3 368.3h0M507.4 367.9h0M507.5 367.6h0M507.6 368.4h0M507.8 368.3h0M507.9 366.5h0M508.0 366.1h0M508.1 366.3h0M508.2 366.6h0M508.4 366.8h0M508.5 367.9h0M508.6 369.9h0M508.7 371.2h0M508.8 368.0h0M508.9 368.6h0M509.1 369.6h0M509.2 368.5h0M509.3 368.7h0M509.4 371.2h0M509.5 374.9h0M509.7 374.1h0M509.8 382.4h0M509.9 386.0h0M510.0 386.9h0M510.1 386.6h0M510.2 387.8h0M510.4 388.1h0M510.5 388.4h0M510.6 387.6h0M510.7 388.3h0M510.8 377.2h0M511.0 379.0h0M511.1 379.0h0M511.2 380.3h0M511.3 380.9h0M511.4 383.2h0M511.5 384.3h0M511.7 385.2h0M511.8 385.3h0M511.9 387.2h0M512.0 386.1h0M512.1 389.2h0M512.3 385.3h0M512.4 386.8h0M512.5 388.6h0M512.6 386.7h0M512.7 387.1h0M512.8 390.7h0M513.0 390.9h0M513.1 389.8h0M513.2 388.9h0M513.3 389.6h0M513.4 390.5h0M513.5 392.2h0M513.7 395.8h0M513.8 396.0h0M513.9 396.3h0M514.0 395.7h0M514.1 396.1h0M514.3 396.6h0M514.4 397.9h0M514.5 398.8h0M514.6 398.4h0M514.7 398.5h0M514.8 400.1h0M515.0 399.8h0M515.1 400.2h0M515.2 400.8h0M515.3 400.7h0M515.4 400.4h0M515.6 400.3h0M515.7 400.1h0M515.8 399.9h0M515.9 398.9h0M516.0 399.6h0M516.1 399.4h0M516.3 399.3h0M516.4 399.1h0M516.5 397.9h0M516.6 395.8h0M516.7 395.8h0M516.9 392.5h0M517.0 395.3h0M517.1 395.4h0M517.2 390.5h0M517.3 383.7h0M517.4 383.0h0M517.6 383.1h0M517.7 383.8h0M517.8 385.0h0M517.9 384.1h0M518.0 386.3h0M518.2 381.3h0M518.3 381.1h0M518.4 380.8h0M518.5 380.6h0M518.6 380.6h0M518.7 382.6h0M518.9 382.8h0M519.0 379.9h0M519.1 382.9h0M519.2 382.3h0M519.3 382.6h0M519.4 382.6h0M519.6 381.3h0M519.7 379.6h0M519.8 378.8h0M519.9 377.8h0M520.0 378.1h0M520.2 378.2h0M520.3 382.1h0M520.4 376.7h0M520.5 381.0h0M520.6 380.7h0M520.7 380.1h0M520.9 377.3h0M521.0 375.5h0M521.1 374.3h0M521.2 375.9h0M521.3 375.8h0M521.5 379.0h0M521.6 382.3h0M521.7 379.4h0M521.8 378.1h0M521.9 376.6h0M522.0 381.1h0M522.2 380.8h0M522.3 380.7h0M522.4 382.6h0M522.5 381.1h0M522.6 384.5h0M522.8 381.5h0M522.9 383.7h0M523.0 383.4h0M523.1 380.8h0M523.2 382.0h0M523.3 381.4h0M523.5 382.0h0M523.6 376.5h0M523.7 376.7h0M523.8 371.5h0M523.9 370.2h0M524.1 376.5h0M524.2 374.9h0M524.3 365.5h0M524.4 364.4h0M524.5 364.0h0M524.6 365.0h0M524.8 363.8h0M524.9 363.0h0M525.0 364.9h0M525.1 366.2h0M525.2 367.8h0M525.3 364.1h0M525.5 370.5h0M525.6 368.8h0M525.7 360.2h0M525.8 358.5h0M525.9 357.9h0M526.1 357.3h0M526.2 359.8h0M526.3 357.7h0M526.4 356.4h0M526.5 365.8h0M526.6 364.8h0M526.8 361.3h0M526.9 360.8h0M527.0 355.1h0M527.1 357.6h0M527.2 361.6h0M527.4 357.9h0M527.5 361.6h0M527.6 359.0h0M527.7 359.3h0M527.8 355.0h0M527.9 351.5h0M528.1 347.8h0M528.2 348.8h0M528.3 348.4h0M528.4 348.2h0M528.5 346.0h0M528.7 345.5h0M528.8 345.0h0M528.9 345.3h0M606.5 210.2h0M606.7 202.3h0M606.8 194.9h0M606.9 198.1h0M607.0 199.5h0M607.1 199.8h0M607.2 201.6h0M607.4 201.6h0M607.5 200.8h0M607.6 196.2h0M607.7 201.1h0M607.8 202.3h0M607.9 201.7h0M608.1 199.2h0M608.2 199.2h0M608.3 193.9h0M608.4 194.4h0M608.5 194.1h0M608.7 202.3h0M608.8 197.4h0M608.9 197.0h0M609.0 199.6h0M609.1 209.1h0M609.2 214.7h0M609.4 214.9h0M609.5 230.6h0M609.6 229.7h0M609.7 230.3h0M609.8 233.9h0M610.0 235.0h0M610.1 235.5h0M610.2 235.6h0M610.3 224.0h0M610.4 215.2h0M610.5 225.0h0M610.7 206.7h0M610.8 206.8h0M610.9 219.7h0M611.0 216.3h0M611.1 219.6h0M611.3 211.3h0M611.4 205.9h0M611.5 202.4h0M611.6 202.2h0M611.7 211.6h0M611.8 213.8h0M612.0 234.6h0M612.1 235.8h0M612.2 235.1h0M612.3 237.7h0M612.4 237.8h0M612.6 232.0h0M612.7 231.0h0M612.8 216.3h0M612.9 222.9h0M613.0 235.2h0M613.1 237.1h0M613.3 230.9h0M613.4 227.3h0M613.5 230.7h0M613.6 237.9h0M613.7 232.1h0M613.8 225.6h0M614.0 234.9h0M614.1 234.3h0M614.2 234.8h0M614.3 236.2h0M614.4 226.4h0M614.6 224.0h0M614.7 234.0h0M614.8 230.4h0M614.9 226.9h0M615.0 229.2h0M615.1 231.8h0M615.3 240.7h0M615.4 238.3h0M615.5 237.0h0M615.6 241.0h0M615.7 241.1h0M615.9 241.3h0M616.0 228.3h0M616.1 236.4h0M616.2 240.3h0M616.3 242.1h0M616.4 239.4h0M616.6 239.8h0M616.7 237.3h0M616.8 241.2h0M616.9 239.2h0M617.0 242.1h0M617.2 229.8h0M617.3 227.1h0M617.4 214.5h0M617.5 215.1h0M617.6 221.0h0M617.7 221.6h0M617.9 241.8h0M618.0 232.7h0M618.1 230.1h0M618.2 224.1h0M618.3 223.1h0M618.5 222.7h0M618.6 220.4h0M618.7 221.0h0M618.8 231.8h0M618.9 231.0h0M619.0 238.9h0M619.2 229.4h0M619.3 230.3h0M619.4 235.7h0M619.5 234.9h0M619.6 232.0h0M619.7 232.2h0M619.9 233.8h0M620.0 241.1h0M620.1 248.2h0M620.2 237.9h0M620.3 226.9h0M620.5 228.2h0M620.6 230.4h0M620.7 237.1h0M620.8 245.8h0M620.9 240.3h0M621.0 252.9h0M621.2 252.6h0M621.3 239.4h0M621.4 247.2h0M621.5 248.4h0M621.6 249.4h0M621.8 237.2h0M621.9 236.9h0M622.0 239.7h0M622.1 240.3h0M622.2 247.2h0M622.3 256.2h0M622.5 260.6h0M622.6 261.6h0M622.7 262.7h0M622.8 263.8h0M622.9 264.8h0M623.1 265.9h0M623.2 266.9h0M623.3 256.7h0M623.4 239.7h0M623.5 243.7h0M623.6 242.1h0M623.8 245.0h0M623.9 255.8h0M624.0 244.4h0M624.1 242.2h0M624.2 243.3h0M624.4 248.7h0M624.5 249.5h0M624.6 248.4h0M624.7 245.1h0M624.8 245.7h0M624.9 246.3h0M625.1 251.6h0M625.2 265.2h0M625.3 261.9h0M625.4 269.5h0M625.5 273.5h0M625.6 281.7h0M625.8 292.2h0M625.9 294.0h0M626.0 295.4h0M626.1 296.9h0M626.2 296.2h0M626.4 295.5h0M626.5 297.3h0M626.6 302.5h0M626.7 303.9h0M626.8 305.4h0M626.9 306.8h0M627.1 307.4h0M627.2 295.3h0M627.3 293.4h0M627.4 287.9h0M627.5 298.1h0M627.7 306.0h0M627.8 300.0h0M627.9 305.1h0M628.0 311.8h0M628.1 319.1h0M628.2 319.2h0M628.4 318.6h0M628.5 316.4h0M628.6 317.5h0M628.7 316.9h0M628.8 311.8h0M629.0 300.4h0M629.1 309.5h0M629.2 301.9h0M629.3 299.5h0M629.4 306.9h0M629.5 305.2h0M629.7 313.5h0M629.8 300.9h0M629.9 307.9h0M630.0 293.1h0M630.1 283.2h0M630.3 281.8h0M630.4 282.2h0M630.5 280.3h0M630.6 279.4h0M630.7 285.1h0M630.8 279.3h0M631.0 280.5h0M631.1 285.5h0M631.2 283.2h0M631.3 289.4h0M631.4 297.8h0M631.5 296.2h0M631.7 306.7h0M631.8 298.3h0M631.9 286.6h0M632.0 290.5h0M632.1 282.8h0M632.3 288.6h0M632.4 289.0h0M632.5 286.0h0M632.6 293.3h0M632.7 298.8h0M632.8 278.4h0M633.0 278.6h0M633.1 281.0h0M633.2 286.9h0M633.3 284.2h0M633.4 279.5h0M633.6 282.4h0M633.7 289.7h0M633.8 279.4h0M633.9 279.5h0M634.0 279.8h0M634.1 280.5h0M634.3 281.2h0M634.4 281.9h0M634.5 282.7h0M634.6 283.4h0M634.7 284.1h0M634.9 286.1h0M635.0 290.4h0M635.1 296.7h0M635.2 296.0h0M635.3 298.2h0M635.4 297.7h0M635.6 295.5h0M635.7 297.0h0M635.8 295.1h0M635.9 294.7h0M636.0 294.9h0M636.2 294.2h0M636.3 294.0h0M636.4 294.0h0M636.5 293.8h0M636.6 293.7h0M636.7 293.1h0M636.9 293.3h0M637.0 292.9h0M637.1 293.0h0M637.2 293.2h0M637.3 293.5h0M637.4 293.9h0M637.6 293.3h0M637.7 292.8h0M637.8 292.4h0M637.9 291.6h0M638.0 292.1h0M638.2 291.4h0M638.3 290.2h0M638.4 288.2h0M638.5 287.2h0M638.6 286.4h0M638.7 286.3h0M638.9 284.7h0M639.0 283.9h0M639.1 286.1h0M639.2 288.7h0M639.3 282.8h0M639.5 288.6h0M639.6 295.1h0M639.7 296.8h0M639.8 285.9h0M639.9 277.6h0M640.0 279.5h0M640.2 276.4h0M640.3 276.3h0M640.4 279.3h0M640.5 288.6h0M640.6 294.8h0M640.8 303.3h0M640.9 305.5h0M641.0 295.2h0M641.1 302.3h0M641.2 300.7h0M641.3 301.4h0M641.5 304.5h0M641.6 304.2h0M641.7 304.0h0M641.8 303.8h0M641.9 302.1h0M642.1 294.9h0M642.2 292.3h0M642.3 278.3h0M642.4 279.6h0M642.5 280.3h0M642.6 278.1h0M642.8 273.8h0M642.9 273.7h0M643.0 273.6h0M643.1 273.1h0M643.2 277.4h0M643.3 274.4h0M643.5 278.0h0M643.6 271.4h0M643.7 270.8h0M643.8 270.8h0M643.9 275.1h0M644.1 287.2h0M644.2 290.2h0M644.3 278.7h0M644.4 278.3h0M644.5 276.6h0M644.6 272.5h0M644.8 276.5h0M644.9 284.2h0M645.0 279.7h0M645.1 283.0h0M645.2 283.5h0M645.4 278.8h0M645.5 281.6h0M645.6 280.7h0M645.7 279.7h0M645.8 278.8h0M645.9 277.8h0M646.1 277.1h0M646.2 276.5h0M646.3 275.5h0M646.4 274.5h0M646.5 272.2h0M646.7 268.5h0M646.8 262.1h0M646.9 259.3h0M647.0 256.6h0M647.1 260.8h0M647.2 255.4h0M647.4 255.5h0M647.5 254.5h0M647.6 253.6h0M647.7 254.7h0M647.8 252.9h0M648.0 258.2h0M648.1 257.1h0M648.2 258.5h0M648.3 257.3h0M648.4 259.9h0M648.5 262.6h0M648.7 259.0h0M648.8 257.8h0M648.9 262.8h0M649.0 259.1h0M649.1 261.1h0M649.2 258.6h0M649.4 253.6h0M649.5 242.5h0M649.6 238.3h0M649.7 235.0h0M649.8 233.2h0M650.0 233.1h0M650.1 232.6h0M650.2 229.4h0M650.3 225.6h0M650.4 223.7h0M650.5 222.2h0M650.7 221.3h0M650.8 225.1h0M650.9 227.3h0M651.0 221.6h0M651.1 226.8h0M651.3 236.9h0M651.4 230.0h0M651.5 227.9h0M651.6 218.1h0M651.7 212.8h0M651.8 220.0h0M652.0 235.7h0M652.1 233.0h0M652.2 219.9h0M652.3 230.3h0M652.4 234.0h0M652.6 234.1h0M652.7 234.7h0M652.8 234.0h0M652.9 233.3h0M653.0 234.4h0M653.1 231.2h0M653.3 231.9h0M653.4 228.6h0M653.5 229.8h0M653.6 229.1h0M653.7 213.7h0M653.9 215.6h0M654.0 209.2h0M654.1 208.5h0M654.2 208.4h0M654.3 209.0h0M654.4 209.3h0M654.6 209.2h0M654.7 218.9h0M654.8 224.2h0M654.9 221.7h0M655.0 208.7h0M655.1 214.7h0M655.3 214.7h0M655.4 214.3h0M655.5 220.9h0M655.6 217.4h0M655.7 218.4h0M655.9 225.2h0M656.0 228.2h0M656.1 223.9h0M656.2 231.5h0M656.3 233.7h0M656.4 233.8h0M656.6 234.0h0M656.7 234.1h0M656.8 234.2h0M656.9 234.3h0M657.0 234.4h0M657.2 233.4h0M657.3 231.5h0M657.4 228.4h0M657.5 226.2h0M657.6 228.6h0M657.7 227.9h0M657.9 224.6h0M658.0 226.1h0M658.1 231.2h0M658.2 232.8h0M658.3 225.4h0M658.5 222.5h0M658.6 224.3h0M658.7 223.7h0M658.8 222.9h0M658.9 221.5h0M659.0 220.7h0M659.2 217.3h0M659.3 219.6h0M659.4 216.0h0M659.5 215.1h0M659.6 217.7h0M659.8 217.8h0M659.9 216.2h0M660.0 214.6h0M660.1 212.1h0M660.2 210.0h0M660.3 208.7h0M660.5 210.0h0M660.6 207.9h0M660.7 207.6h0M660.8 206.8h0M660.9 205.8h0M661.0 204.9h0M661.2 206.2h0M661.3 206.7h0M661.4 207.2h0M661.5 207.0h0M661.6 205.0h0M661.8 206.8h0M661.9 208.8h0M662.0 208.6h0M662.1 209.1h0M662.2 210.4h0M662.3 209.5h0M662.5 211.6h0M662.6 213.5h0M662.7 215.1h0M662.8 216.4h0M662.9 213.7h0M663.1 215.4h0M663.2 215.2h0M663.3 217.9h0M663.4 219.7h0M663.5 220.6h0M663.6 220.9h0M663.8 222.0h0M663.9 222.7h0M664.0 222.7h0M664.1 223.2h0M664.2 219.9h0M664.4 223.0h0M664.5 222.9h0M664.6 222.8h0M664.7 222.7h0M664.8 222.6h0M664.9 221.0h0M665.1 218.5h0M665.2 219.7h0M665.3 218.3h0M665.4 218.9h0M665.5 215.6h0M665.7 212.3h0M665.8 213.8h0M665.9 216.9h0M666.0 216.3h0M666.1 211.3h0M666.2 205.8h0M666.4 215.2h0M666.5 209.1h0M666.6 205.9h0M666.7 204.1h0M666.8 209.1h0M666.9 205.6h0M667.1 209.8h0M667.2 212.2h0M667.3 206.9h0M667.4 209.2h0M667.5 205.4h0M667.7 206.6h0M667.8 211.5h0M667.9 211.3h0M668.0 208.6h0M668.1 208.7h0M668.2 209.6h0M668.4 212.3h0M668.5 208.3h0M668.6 208.8h0M668.7 209.3h0M668.8 210.0h0M669.0 211.4h0M669.1 213.3h0M669.2 214.0h0M669.3 213.8h0M669.4 215.2h0M669.5 218.0h0M669.7 219.3h0M669.8 219.4h0M669.9 217.0h0M670.0 218.2h0M670.1 215.3h0M670.3 214.0h0M670.4 214.4h0M670.5 214.8h0M670.6 218.7h0M670.7 221.1h0M670.8 221.6h0M671.0 219.3h0M671.1 218.3h0M671.2 216.3h0M671.3 222.6h0M671.4 222.7h0M671.6 218.6h0M671.7 212.8h0M671.8 219.4h0M671.9 212.9h0M672.0 214.9h0M672.1 215.2h0M672.3 220.4h0M672.4 213.1h0M672.5 215.6h0M672.6 215.8h0M672.7 219.6h0M672.8 223.4h0M673.0 222.5h0M673.1 219.3h0M673.2 222.2h0M673.3 210.0h0M673.4 211.4h0M673.6 202.9h0M673.7 196.6h0M673.8 194.8h0M673.9 194.7h0M674.0 194.6h0M674.1 201.6h0M674.3 203.9h0M674.4 213.7h0M674.5 212.9h0M674.6 207.8h0M674.7 199.3h0M674.9 207.5h0M675.0 214.7h0M675.1 221.8h0M675.2 214.0h0M675.3 210.4h0M675.4 198.7h0M675.6 210.5h0M675.7 216.0h0M675.8 218.3h0M675.9 216.3h0M676.0 213.4h0M676.2 209.1h0M676.3 216.8h0M676.4 210.3h0M676.5 215.4h0M676.6 215.0h0M676.7 207.4h0M676.9 200.2h0M677.0 199.4h0M677.1 201.2h0M677.2 200.1h0M677.3 202.9h0M677.5 207.9h0M677.6 209.2h0M677.7 204.6h0M677.8 203.7h0M677.9 204.9h0M678.0 207.2h0M678.2 206.8h0M678.3 207.0h0M678.4 206.8h0M678.5 206.5h0M678.6 206.9h0M678.7 206.6h0M678.9 206.8h0M679.0 207.1h0M679.1 206.9h0M679.2 206.9h0M679.3 206.6h0M679.5 206.6h0M679.6 206.4h0M679.7 206.4h0M679.8 206.3h0M679.9 206.5h0M680.0 207.3h0M680.2 206.4h0M680.3 207.1h0M680.4 205.2h0M680.5 208.6h0M680.6 208.1h0M680.8 210.0h0M680.9 209.5h0M681.0 204.2h0M681.1 196.0h0M681.2 204.8h0M681.3 206.1h0M681.5 198.8h0M681.6 197.7h0M681.7 205.5h0M681.8 194.9h0M681.9 212.9h0M682.1 209.7h0M682.2 205.9h0M682.3 214.5h0M682.4 214.0h0M682.5 205.5h0M682.6 212.0h0M682.8 213.5h0M682.9 217.1h0M683.0 210.8h0M683.1 202.6h0M683.2 207.8h0M683.4 205.1h0M683.5 196.5h0M683.6 197.1h0M683.7 200.9h0M683.8 199.6h0M683.9 207.9h0M684.1 205.6h0M684.2 206.1h0M684.3 200.8h0M684.4 200.9h0M684.5 201.9h0M684.6 205.4h0M684.8 207.5h0M684.9 212.8h0M685.0 204.7h0M685.1 204.8h0M685.2 204.4h0M685.4 201.1h0M685.5 201.3h0M685.6 199.1h0M685.7 201.2h0M685.8 199.9h0M685.9 203.3h0M686.1 198.0h0M686.2 206.8h0M686.3 208.6h0M686.4 216.0h0M686.5 213.7h0M686.7 208.4h0M686.8 207.8h0M686.9 202.3h0M687.0 192.9h0M687.1 193.9h0M687.2 193.9h0M687.4 189.0h0M687.5 187.2h0M687.6 182.1h0M687.7 184.6h0M687.8 179.0h0M688.0 194.1h0M688.1 194.2h0M688.2 203.4h0M688.3 188.7h0M688.4 192.7h0M688.5 190.9h0M688.7 199.5h0M688.8 203.4h0M688.9 186.7h0M689.0 196.5h0M689.1 182.4h0M689.3 193.6h0M689.4 191.3h0M689.5 181.2h0M689.6 186.8h0M689.7 186.2h0M689.8 179.3h0M690.0 176.3h0M690.1 179.8h0M690.2 174.3h0M690.3 173.3h0M690.4 182.2h0M690.5 179.5h0M690.7 183.9h0M690.8 188.7h0M690.9 196.1h0M691.0 201.3h0M691.1 183.0h0M691.3 182.6h0M691.4 195.8h0M691.5 189.7h0M691.6 209.4h0M691.7 211.3h0M691.8 198.2h0M692.0 206.7h0M692.1 224.0h0M692.2 218.1h0M692.3 223.3h0M692.4 211.5h0M692.6 204.3h0M692.7 208.0h0M692.8 216.0h0M692.9 220.0h0M693.0 221.3h0M693.1 233.0h0M693.3 227.2h0M693.4 206.7h0M693.5 215.1h0M693.6 218.2h0M693.7 206.9h0M693.9 224.7h0M694.0 218.3h0M694.1 210.0h0M694.2 215.8h0M694.3 222.6h0M694.4 234.3h0M694.6 226.1h0M694.7 219.2h0M694.8 220.3h0M694.9 220.7h0M695.0 222.8h0M695.2 222.6h0M695.3 222.7h0M695.4 224.3h0M695.5 227.1h0M695.6 228.9h0M695.7 226.3h0M695.9 227.4h0M696.0 227.7h0M696.1 225.1h0M696.2 223.4h0M696.3 222.9h0M696.4 227.8h0M696.6 226.8h0M696.7 223.2h0M696.8 221.4h0M696.9 218.6h0M697.0 220.9h0M697.2 213.7h0M697.3 211.5h0M697.4 213.0h0M697.5 213.7h0M697.6 213.0h0M697.7 214.2h0M697.9 209.2h0M698.0 209.8h0M698.1 206.1h0M698.2 203.9h0M698.3 204.3h0M698.5 202.5h0M698.6 202.2h0M698.7 204.7h0M698.8 202.6h0M698.9 205.6h0M699.0 214.3h0M699.2 213.5h0M699.3 216.2h0M699.4 217.6h0M699.5 212.6h0M699.6 205.6h0M699.8 206.9h0M699.9 201.6h0M700.0 202.0h0M700.1 204.6h0M700.2 209.0h0M700.3 213.2h0M700.5 222.0h0M700.6 219.1h0M700.7 226.0h0M700.8 227.2h0M700.9 228.3h0M701.1 226.6h0M701.2 230.1h0M701.3 224.4h0M701.4 228.6h0M701.5 232.5h0M701.6 227.4h0M701.8 218.0h0M701.9 212.3h0M702.0 214.1h0M702.1 219.1h0M702.2 227.2h0M702.3 234.9h0M702.5 235.3h0M702.6 235.7h0M702.7 235.7h0M702.8 226.7h0M702.9 232.3h0M703.1 234.3h0M703.2 231.3h0M703.3 229.5h0M703.4 228.5h0M703.5 214.7h0M703.6 216.6h0M703.8 220.8h0M703.9 222.2h0M704.0 219.0h0M704.1 221.6h0M704.2 226.6h0M704.4 238.4h0M704.5 241.3h0M704.6 240.9h0M704.7 239.1h0M704.8 229.0h0M704.9 224.8h0M705.1 216.4h0M705.2 216.4h0M705.3 224.8h0M705.4 231.7h0M705.5 234.7h0M705.7 232.3h0M705.8 234.9h0M705.9 230.9h0M706.0 211.5h0M706.1 213.3h0M706.2 213.8h0M706.4 200.5h0M706.5 198.9h0M706.6 196.9h0M706.7 195.6h0M706.8 197.5h0M707.0 194.5h0M707.1 208.9h0M707.2 211.1h0M707.3 201.4h0M707.4 187.5h0M707.5 195.6h0M707.7 205.0h0M707.8 190.1h0M707.9 189.4h0M708.0 202.6h0M708.1 194.9h0M708.2 200.3h0M708.4 185.7h0M708.5 185.1h0M708.6 190.0h0M708.7 185.0h0M708.8 184.6h0M709.0 184.4h0M709.1 184.2h0M709.2 184.1h0M709.3 183.9h0M709.4 184.3h0M709.5 195.2h0M709.7 192.0h0M709.8 201.7h0M709.9 201.8h0M710.0 198.5h0M710.1 198.9h0M710.3 200.1h0M710.4 199.0h0M710.5 197.9h0M710.6 199.5h0M710.7 201.3h0M710.8 203.1h0M711.0 204.8h0M711.1 206.1h0M711.2 208.4h0M711.3 207.5h0M711.4 207.1h0M711.6 198.7h0M711.7 207.5h0M711.8 215.3h0M711.9 219.1h0M712.0 219.2h0M712.1 219.0h0M712.3 223.4h0M712.4 224.0h0M712.5 225.3h0M712.6 226.0h0M712.7 227.4h0M712.9 225.5h0M713.0 229.2h0M713.1 210.5h0M713.2 207.9h0M713.3 197.8h0M713.4 201.6h0M713.6 199.9h0M713.7 209.9h0M713.8 229.8h0M713.9 213.7h0M714.0 208.8h0M714.1 216.7h0M714.3 237.5h0M714.4 244.0h0M714.5 245.8h0M714.6 243.5h0M714.7 237.3h0M714.9 241.4h0M715.0 245.6h0M715.1 245.8h0M715.2 238.2h0M715.3 221.4h0M715.4 218.8h0M715.6 220.3h0M715.7 219.4h0M715.8 223.7h0M715.9 221.8h0M716.0 223.0h0M716.2 228.3h0M716.3 240.2h0M716.4 244.8h0M716.5 257.6h0M716.6 250.8h0M716.7 242.9h0M716.9 255.6h0M717.0 246.2h0M717.1 246.3h0M717.2 235.3h0M717.3 247.3h0M717.5 255.5h0M717.6 248.9h0M717.7 239.3h0M717.8 243.8h0M717.9 248.7h0M718.0 260.0h0M718.2 268.6h0M718.3 268.7h0M718.4 266.5h0M718.5 264.1h0M718.6 261.6h0M718.8 253.1h0M718.9 251.1h0M719.0 253.3h0M719.1 251.6h0M719.2 252.7h0M719.3 256.1h0M719.5 255.9h0M719.6 261.7h0M719.7 268.4h0M719.8 268.4h0M719.9 271.7h0M720.0 270.2h0M720.2 265.0h0M720.3 263.9h0M720.4 263.8h0M720.5 264.0h0M720.6 263.7h0M720.8 260.4h0M720.9 266.9h0M721.0 264.0h0M721.1 259.8h0M721.2 265.9h0M721.3 256.3h0M721.5 256.1h0M721.6 267.2h0M721.7 265.5h0M721.8 270.4h0M721.9 267.5h0M722.1 261.0h0M722.2 257.6h0M722.3 250.3h0M722.4 246.4h0M722.5 242.2h0M722.6 252.5h0M722.8 256.2h0M722.9 251.9h0M723.0 241.5h0M723.1 267.8h0M723.2 267.0h0M723.4 267.3h0M723.5 259.5h0M723.6 247.4h0M723.7 260.0h0M723.8 243.8h0M723.9 230.5h0M724.1 232.1h0M724.2 226.4h0M724.3 226.2h0M724.4 230.4h0M724.5 242.6h0M724.7 243.8h0M724.8 245.7h0M724.9 255.0h0M725.0 255.7h0M725.1 253.8h0M725.2 232.5h0M725.4 223.0h0M725.5 236.4h0M725.6 230.6h0M725.7 224.1h0M725.8 221.8h0M725.9 239.6h0M726.1 238.3h0M726.2 232.9h0M726.3 225.4h0M726.4 217.2h0M726.5 242.9h0M726.7 239.9h0M726.8 238.3h0M726.9 233.3h0M727.0 238.8h0M727.1 228.8h0M727.2 214.2h0M727.4 213.2h0M727.5 217.0h0M727.6 233.3h0M727.7 230.5h0M727.8 223.0h0M728.0 221.1h0M728.1 216.3h0M728.2 213.3h0M728.3 215.0h0M728.4 217.3h0M728.5 214.3h0M728.7 220.4h0M728.8 219.1h0M728.9 218.8h0M729.0 215.8h0M729.1 217.0h0M729.3 217.7h0M729.4 219.1h0M729.5 216.6h0M729.6 219.7h0M729.7 217.8h0M729.8 219.0h0M730.0 223.0h0M730.1 227.4h0M730.2 226.5h0M730.3 221.0h0M730.4 222.7h0M730.6 229.6h0M730.7 227.8h0M730.8 234.0h0M730.9 228.2h0M731.0 235.7h0M731.1 237.2h0M731.3 238.3h0M731.4 238.2h0M731.5 240.5h0M731.6 241.6h0M731.7 242.7h0M731.8 243.7h0M732.0 244.6h0M732.1 245.9h0M732.2 247.0h0M732.3 246.6h0M732.4 239.3h0M732.6 241.7h0M732.7 228.1h0M732.8 236.5h0M732.9 239.2h0M733.0 224.2h0M733.1 232.2h0M733.3 247.6h0M733.4 249.6h0M733.5 234.0h0M733.6 230.1h0M733.7 243.1h0M733.9 229.9h0M734.0 229.9h0M734.1 246.9h0M734.2 244.3h0M734.3 238.9h0M734.4 251.4h0M734.6 266.3h0M734.7 267.3h0M734.8 252.3h0M734.9 234.6h0M735.0 236.2h0M735.2 230.2h0M735.3 231.1h0M735.4 243.9h0M735.5 232.3h0M735.6 233.0h0M735.7 237.1h0M735.9 236.9h0M736.0 245.2h0M736.1 255.2h0M736.2 270.4h0M736.3 281.4h0M736.5 282.3h0M736.6 279.1h0M736.7 265.1h0M736.8 250.2h0M736.9 262.9h0M737.0 268.4h0M737.2 273.9h0M737.3 275.0h0M737.4 284.8h0M737.5 284.9h0M737.6 285.0h0M737.7 284.3h0M737.9 280.2h0M738.0 266.5h0M738.1 262.3h0M738.2 265.9h0M738.3 259.1h0M738.5 258.9h0M738.6 277.6h0M738.7 275.9h0M738.8 265.5h0M738.9 262.5h0M739.0 265.1h0M739.2 272.8h0M739.3 274.0h0M739.4 280.6h0M739.5 282.2h0M739.6 276.1h0M739.8 282.6h0M739.9 280.4h0M740.0 287.2h0M740.1 284.0h0M740.2 282.0h0M740.3 278.2h0M740.5 276.2h0M740.6 278.1h0M740.7 276.2h0M740.8 280.9h0M740.9 280.9h0M741.1 282.1h0M741.2 281.5h0M741.3 281.0h0M741.4 280.4h0M741.5 279.8h0M741.6 279.2h0M741.8 278.6h0M741.9 278.0h0M742.0 277.4h0M742.1 276.8h0M742.2 275.8h0M742.4 274.9h0M742.5 266.0h0M742.6 265.4h0M742.7 259.8h0M742.8 271.0h0M742.9 272.3h0M743.1 272.1h0M743.2 271.5h0M743.3 270.9h0M743.4 270.4h0M743.5 269.9h0M743.6 269.5h0M743.8 269.0h0M743.9 268.5h0M744.0 268.1h0M744.1 267.6h0M744.2 266.8h0M744.4 264.9h0M744.5 258.4h0M744.6 252.4h0M744.7 243.0h0M744.8 252.9h0M744.9 260.3h0M745.1 258.1h0M745.2 247.3h0M745.3 246.7h0M745.4 260.4h0M745.5 250.3h0M745.7 246.9h0M745.8 244.5h0M745.9 251.2h0M746.0 242.5h0M746.1 245.7h0M746.2 241.4h0M746.4 240.8h0M746.5 236.9h0M746.6 241.0h0M746.7 239.7h0M746.8 238.2h0M747.0 245.9h0M747.1 247.8h0M747.2 254.0h0M747.3 253.2h0M747.4 252.4h0M747.5 251.2h0M747.7 250.9h0M747.8 250.1h0M747.9 249.4h0M748.0 248.6h0M748.1 247.5h0M748.3 247.0h0M748.4 244.5h0M748.5 241.4h0M748.6 242.1h0M748.7 244.0h0M748.8 243.2h0M749.0 242.4h0M749.1 241.7h0M749.2 234.7h0M749.3 234.4h0M749.4 235.4h0M749.5 239.4h0M749.7 247.0h0M749.8 249.8h0M749.9 244.7h0M750.0 246.8h0M750.1 247.2h0M750.3 254.1h0M750.4 255.1h0M750.5 242.3h0M750.6 240.4h0M750.7 242.1h0M750.8 240.7h0M751.0 241.4h0M751.1 242.2h0M751.2 254.8h0M751.3 257.1h0M751.4 253.6h0M751.6 256.4h0M751.7 260.9h0M751.8 277.5h0M751.9 265.8h0M752.0 252.1h0M752.1 284.1h0M752.3 291.1h0M752.4 290.3h0M752.5 297.4h0M752.6 295.2h0M752.7 287.0h0M752.9 283.3h0M753.0 290.1h0M753.1 286.4h0M753.2 295.2h0M753.3 292.4h0M753.4 302.6h0M753.6 304.4h0M753.7 291.9h0M753.8 293.9h0M753.9 288.5h0M754.0 291.3h0M754.2 294.6h0M754.3 310.1h0M754.4 308.8h0M754.5 300.2h0M754.6 303.4h0M754.7 300.6h0M754.9 311.9h0M755.0 315.2h0M755.1 317.3h0M755.2 316.1h0M755.3 310.3h0M755.4 311.2h0M755.6 302.9h0M755.7 299.0h0M755.8 296.9h0M755.9 297.0h0M756.0 294.5h0M756.2 293.5h0M756.3 293.6h0M756.4 292.3h0M756.5 292.4h0M756.6 297.5h0M756.7 301.9h0M756.9 296.8h0M757.0 294.5h0M757.1 308.4h0M757.2 313.8h0M757.3 314.1h0M757.5 313.8h0M757.6 307.1h0M757.7 306.6h0M757.8 303.1h0M757.9 288.2h0M758.0 292.3h0M758.2 298.9h0M758.3 301.0h0M758.4 287.0h0M758.5 287.5h0M758.6 290.9h0M758.8 290.4h0M758.9 294.1h0M759.0 298.9h0M759.1 307.9h0M759.2 307.2h0M759.3 309.0h0M759.5 308.7h0M759.6 308.5h0M759.7 308.2h0M759.8 307.9h0M759.9 305.5h0M760.1 306.9h0M760.2 291.8h0M760.3 279.7h0M760.4 296.6h0M760.5 299.6h0M760.6 300.0h0M760.8 298.9h0M760.9 297.8h0M761.0 289.8h0M761.1 286.9h0M761.2 279.8h0M761.3 288.1h0M761.5 290.4h0M761.6 289.7h0M761.7 289.6h0M761.8 287.0h0M761.9 279.1h0M762.1 287.2h0M762.2 287.2h0M762.3 284.7h0M762.4 284.7h0M762.5 284.5h0M762.6 283.4h0M762.8 282.4h0M762.9 281.3h0M763.0 280.2h0M763.1 279.2h0M763.2 278.1h0M763.4 277.4h0M763.5 277.9h0M763.6 279.3h0M763.7 280.3h0M763.8 281.2h0M763.9 275.2h0M764.1 271.6h0M764.2 274.2h0M764.3 273.8h0M764.4 276.7h0M764.5 278.2h0M764.7 283.0h0M764.8 281.9h0M764.9 279.7h0M765.0 283.4h0M765.1 283.8h0M765.2 281.7h0M765.4 281.4h0M765.5 291.2h0M765.6 290.4h0M765.7 290.4h0M765.8 285.4h0M766.0 285.8h0M766.1 287.0h0M766.2 289.7h0M766.3 294.4h0M766.4 292.8h0M766.5 296.3h0M766.7 301.7h0M766.8 298.8h0M766.9 297.9h0M767.0 290.3h0M767.1 288.5h0M767.2 287.4h0M767.4 288.2h0M767.5 288.1h0M767.6 296.7h0M767.7 296.8h0M767.8 299.4h0M768.0 300.1h0M768.1 299.4h0M768.2 292.1h0M768.3 299.9h0M768.4 297.9h0M768.5 284.9h0M768.7 282.2h0M768.8 278.0h0M768.9 286.1h0M769.0 293.6h0M769.1 299.1h0M769.3 298.9h0M769.4 298.7h0M769.5 286.4h0M769.6 278.7h0M769.7 283.0h0M769.8 270.3h0M770.0 269.5h0M770.1 273.4h0M770.2 270.6h0M770.3 272.0h0M770.4 269.7h0M770.6 283.5h0M770.7 293.7h0M770.8 286.3h0M770.9 279.1h0M771.0 280.4h0M771.1 285.0h0M771.3 286.3h0M771.4 288.0h0M771.5 289.2h0M771.6 288.5h0M771.7 287.9h0M771.9 287.2h0M772.0 286.6h0M772.1 285.7h0M772.2 285.3h0M772.3 284.6h0M772.4 284.0h0M772.6 283.3h0M772.7 282.7h0M772.8 282.0h0M772.9 281.4h0M773.0 280.7h0M773.1 280.1h0M773.3 279.4h0M773.4 279.4h0M773.5 277.6h0M773.6 277.5h0M773.7 276.3h0M773.9 277.3h0M774.0 281.6h0M774.1 283.5h0M774.2 281.0h0M774.3 279.7h0M774.4 281.7h0M774.6 285.8h0M774.7 286.1h0M774.8 287.1h0M774.9 283.2h0M775.0 283.2h0M775.2 282.6h0M775.3 284.9h0M775.4 285.6h0M775.5 284.8h0M775.6 284.3h0M775.7 286.4h0M775.9 286.6h0M776.0 291.4h0M776.1 292.9h0M776.2 292.9h0M776.3 296.5h0M776.5 293.4h0M776.6 297.3h0M776.7 295.4h0M776.8 297.1h0M776.9 294.2h0M777.0 291.0h0M777.2 288.2h0M777.3 287.9h0M777.4 289.1h0M777.5 286.3h0M777.6 290.9h0M777.8 290.2h0M777.9 286.4h0M778.0 291.5h0M778.1 289.3h0M778.2 291.3h0M778.3 283.1h0M778.5 288.7h0M778.6 287.9h0M778.7 286.7h0M778.8 286.4h0M778.9 282.2h0M779.0 284.2h0M779.2 284.2h0M779.3 283.7h0M779.4 281.2h0M779.5 277.4h0M779.6 278.2h0M779.8 279.8h0M779.9 279.2h0M780.0 277.7h0M780.1 276.6h0M780.2 279.2h0M780.3 282.7h0M780.5 282.4h0M780.6 279.7h0M780.7 285.1h0M780.8 281.7h0M780.9 282.8h0M781.1 282.5h0M781.2 287.1h0M781.3 286.3h0M781.4 278.6h0M781.5 275.3h0M781.6 277.2h0M781.8 278.5h0M781.9 276.9h0M782.0 276.2h0M782.1 274.7h0M782.2 274.8h0M782.4 275.0h0M782.5 275.1h0M782.6 275.2h0M782.7 275.3h0M782.8 280.4h0M782.9 275.5h0M783.1 280.5h0M783.2 286.2h0M783.3 297.8h0M783.4 300.4h0M783.5 293.3h0M783.7 294.5h0M783.8 296.9h0M783.9 298.2h0M784.0 297.7h0M784.1 294.7h0M784.2 296.6h0M784.4 295.3h0M784.5 292.6h0M784.6 292.4h0M784.7 290.3h0M784.8 288.1h0M784.9 289.0h0M785.1 292.9h0M785.2 292.4h0M785.3 291.8h0M785.4 290.7h0M785.5 290.5h0M785.7 289.5h0M785.8 289.7h0M785.9 289.9h0M786.0 289.9h0M786.1 290.1h0M786.2 290.1h0M786.4 290.3h0M786.5 290.4h0M786.6 290.5h0M786.7 290.5h0M786.8 290.7h0M787.0 290.6h0M787.1 290.8h0M787.2 290.8h0M787.3 290.9h0M787.4 291.0h0M787.5 291.0h0M787.7 290.8h0M787.8 291.5h0M787.9 292.0h0M788.0 292.3h0M788.1 293.1h0M788.3 293.4h0M788.4 291.3h0M788.5 288.2h0M788.6 290.8h0M788.7 291.8h0M788.8 297.0h0M789.0 298.4h0M789.1 299.0h0M789.2 299.7h0M789.3 300.3h0M789.4 301.0h0M789.6 300.1h0M789.7 283.9h0M789.8 290.5h0M789.9 295.5h0M790.0 295.9h0M790.1 297.6h0M790.3 303.9h0M790.4 307.1h0M790.5 307.5h0M790.6 306.1h0M790.7 308.7h0M790.8 310.9h0M791.0 311.8h0M791.1 312.8h0M791.2 313.7h0M791.3 310.8h0M791.4 308.7h0M791.6 316.5h0M791.7 316.7h0M791.8 316.2h0M791.9 313.8h0M792.0 318.2h0M792.1 316.7h0M792.3 309.8h0M792.4 312.9h0M792.5 318.8h0M792.6 319.7h0M792.7 321.4h0M792.9 319.5h0M793.0 317.7h0M793.1 320.0h0M793.2 318.8h0M793.3 320.2h0M793.4 319.1h0M793.6 319.1h0M793.7 322.2h0M793.8 322.6h0M793.9 327.4h0M794.0 328.1h0M794.2 327.0h0M794.3 322.5h0M794.4 323.3h0M794.5 318.5h0M794.6 322.7h0M794.7 317.2h0M794.9 314.8h0M795.0 314.4h0M795.1 314.1h0M795.2 313.7h0M795.3 313.3h0M795.5 313.0h0M795.6 314.8h0M795.7 312.3h0M795.8 311.9h0M795.9 312.6h0M796.0 319.1h0M796.2 320.4h0M796.3 316.5h0M796.4 323.2h0M796.5 327.8h0M796.6 330.7h0M796.7 330.7h0M796.9 330.7h0M797.0 330.7h0M797.1 330.7h0M797.2 329.6h0M797.3 330.7h0M797.5 330.7h0M797.6 320.3h0M797.7 328.2h0M797.8 322.0h0M797.9 330.0h0M798.0 329.6h0M798.2 328.8h0M798.3 330.7h0M798.4 329.7h0M798.5 330.7h0M798.6 329.8h0M798.8 325.5h0M798.9 317.6h0M799.0 321.9h0M799.1 321.3h0M799.2 326.1h0M799.3 330.0h0M799.5 330.7h0M799.6 330.7h0M799.7 330.7h0M799.8 330.7h0M799.9 327.8h0M800.1 320.5h0M800.2 325.2h0M800.3 320.9h0M800.4 314.7h0M800.5 311.5h0M800.6 312.1h0M800.8 314.9h0M800.9 314.5h0M801.0 310.7h0M801.1 315.1h0M801.2 309.3h0M801.4 309.3h0M801.5 314.1h0M801.6 316.9h0M801.7 325.1h0M801.8 324.6h0M801.9 326.8h0M802.1 325.7h0M802.2 321.7h0M802.3 323.6h0M802.4 328.1h0M802.5 314.3h0M802.6 311.2h0M802.8 309.3h0M802.9 309.3h0M803.0 309.3h0M803.1 309.3h0M803.2 309.3h0M803.4 311.0h0M803.5 319.6h0M803.6 315.0h0M803.7 313.8h0M803.8 318.5h0M803.9 315.7h0M804.1 315.1h0M804.2 313.0h0M804.3 314.9h0M804.4 317.3h0M804.5 315.2h0M804.7 315.1h0M804.8 315.6h0M804.9 316.1h0M805.0 316.6h0M805.1 317.2h0M805.2 317.7h0M805.4 319.8h0M805.5 325.1h0M805.6 329.2h0M805.7 328.7h0M805.8 328.7h0M806.0 328.9h0M806.1 329.7h0M806.2 330.2h0M806.3 327.4h0M806.4 325.6h0M806.5 325.3h0M806.7 327.4h0M806.8 325.7h0M806.9 323.7h0M807.0 326.0h0M807.1 328.8h0M807.3 325.5h0M807.4 324.3h0M807.5 327.2h0M807.6 324.8h0M807.7 326.8h0M807.8 320.6h0M808.0 319.5h0M808.1 321.9h0M808.2 326.5h0M808.3 327.4h0M808.4 320.1h0M808.5 313.3h0M808.7 311.3h0M808.8 314.5h0M808.9 318.1h0M809.0 322.7h0M809.1 324.0h0M809.3 319.5h0M809.4 316.1h0M809.5 310.4h0M809.6 315.5h0M809.7 307.6h0M809.8 308.4h0M810.0 310.2h0M810.1 319.2h0M810.2 315.4h0M810.3 319.2h0M810.4 316.6h0M810.6 322.8h0M810.7 323.0h0M810.8 321.3h0M810.9 318.3h0M811.0 316.8h0M811.1 315.4h0M811.3 314.3h0M811.4 317.0h0M811.5 313.7h0M811.6 314.2h0M811.7 316.9h0M811.9 312.1h0M812.0 308.9h0M812.1 308.4h0M812.2 307.2h0M812.3 306.3h0M812.4 305.4h0M812.6 305.0h0M812.7 304.4h0M812.8 302.7h0M812.9 306.2h0M813.0 306.9h0M813.2 314.3h0M813.3 308.6h0M813.4 307.1h0M813.5 306.2h0M813.6 308.0h0M813.7 307.9h0M813.9 306.9h0M814.0 311.3h0M814.1 309.5h0M814.2 309.0h0M814.3 308.0h0M814.4 304.7h0M814.6 306.0h0M814.7 299.3h0M814.8 302.8h0M814.9 298.2h0M815.0 298.0h0M815.2 298.5h0M815.3 297.7h0M815.4 297.2h0M815.5 299.6h0M815.6 302.3h0M815.7 301.7h0M815.9 301.1h0M816.0 299.6h0M816.1 298.9h0M816.2 301.4h0M816.3 302.9h0M816.5 304.2h0M816.6 305.2h0M816.7 306.1h0M816.8 307.1h0M816.9 306.2h0M817.0 303.8h0M817.2 304.5h0M817.3 304.7h0M817.4 305.9h0M817.5 303.3h0M817.6 305.0h0M817.8 309.0h0M817.9 309.9h0M818.0 303.9h0M818.1 304.4h0M818.2 305.0h0M818.3 309.5h0M818.5 310.0h0M818.6 314.1h0M818.7 312.7h0M818.8 315.0h0M818.9 319.9h0M819.1 318.0h0M819.2 319.3h0M819.3 319.8h0M819.4 322.2h0M819.5 321.0h0M819.6 322.7h0M819.8 313.1h0M819.9 313.4h0M820.0 318.8h0M820.1 322.7h0M820.2 317.2h0M820.3 314.4h0M820.5 317.6h0M820.6 320.5h0M820.7 323.4h0M820.8 323.6h0M820.9 324.1h0M821.1 329.2h0M821.2 323.3h0M821.3 316.7h0M821.4 323.4h0M821.5 319.8h0M821.6 324.7h0M821.8 321.4h0M821.9 318.0h0M822.0 327.2h0M822.1 326.8h0M822.2 320.3h0M822.4 321.0h0M822.5 321.8h0M822.6 322.4h0M822.7 324.5h0M822.8 321.3h0M822.9 322.0h0M823.1 325.3h0M823.2 329.4h0M823.3 330.3h0M823.4 326.8h0M823.5 323.4h0M823.7 328.6h0M823.8 325.4h0M823.9 325.6h0M824.0 327.1h0M824.1 330.0h0M824.2 330.7h0M824.4 328.3h0M824.5 329.4h0M824.6 338.9h0M824.7 341.8h0M824.8 341.8h0M825.0 341.9h0M825.1 335.6h0M825.2 336.3h0M825.3 338.8h0M825.4 337.0h0M825.5 341.9h0M825.7 342.2h0M825.8 342.3h0M825.9 334.2h0M826.0 333.1h0M826.1 336.1h0M826.2 335.0h0M826.4 332.4h0M826.5 332.7h0M826.6 336.6h0M826.7 338.9h0M826.8 341.0h0M827.0 340.9h0M827.1 342.9h0M827.2 336.7h0M827.3 335.5h0M827.4 340.1h0M827.5 342.1h0M827.7 342.1h0M827.8 341.1h0M827.9 338.0h0M828.0 338.2h0M828.1 338.7h0M828.3 338.4h0M828.4 340.8h0M828.5 342.4h0M828.6 342.0h0M828.7 343.0h0M828.8 342.9h0M829.0 343.1h0M829.1 342.6h0M829.2 344.0h0M829.3 343.2h0M829.4 342.8h0M829.6 343.3h0M829.7 343.6h0M829.8 341.3h0M829.9 339.7h0M830.0 339.3h0M830.1 338.1h0M830.3 337.2h0M830.4 336.7h0M830.5 336.4h0M830.6 338.6h0M830.7 334.9h0M830.9 337.2h0M831.0 336.3h0M831.1 337.8h0M831.2 336.3h0M831.3 342.0h0M831.4 335.8h0M831.6 339.4h0M831.7 336.9h0M831.8 335.3h0M831.9 339.8h0M832.0 337.9h0M832.1 339.3h0M832.3 339.7h0M832.4 337.7h0M832.5 338.3h0M832.6 337.6h0M832.7 336.8h0M832.9 336.1h0M833.0 333.4h0M833.1 332.9h0M833.2 333.3h0M833.3 333.2h0M833.4 332.3h0M833.6 330.3h0M833.7 328.1h0M833.8 325.9h0M833.9 325.4h0M834.0 326.1h0M834.2 324.9h0M834.3 324.0h0M834.4 323.2h0M834.5 323.5h0M834.6 323.2h0M834.7 322.8h0M834.9 323.6h0M835.0 324.7h0M835.1 324.9h0M835.2 324.8h0M835.3 325.1h0M835.5 324.7h0M835.6 325.8h0M835.7 326.9h0M835.8 327.4h0M835.9 327.6h0M836.0 327.7h0M836.2 328.1h0M836.3 328.4h0M836.4 328.5h0M836.5 328.5h0M836.6 328.1h0M836.8 327.4h0M836.9 328.0h0M837.0 329.2h0M837.1 328.5h0M837.2 329.6h0M837.3 330.2h0M837.5 330.3h0M837.6 330.7h0M837.7 330.3h0M837.8 330.7h0M837.9 330.5h0M838.0 330.6h0M838.2 329.3h0M838.3 330.1h0M838.4 330.0h0M838.5 329.4h0M838.6 328.7h0M838.8 329.0h0M838.9 330.1h0M839.0 330.3h0M839.1 329.9h0M839.2 329.3h0M839.3 328.7h0M839.5 328.7h0M839.6 325.7h0M839.7 323.0h0M839.8 321.0h0M839.9 318.4h0M840.1 315.7h0M840.2 312.7h0M840.3 310.7h0M840.4 308.7h0M840.5 307.0h0M840.6 306.4h0M840.8 305.4h0M840.9 305.1h0M841.0 304.5h0M841.1 304.9h0M841.2 305.1h0M841.4 305.0h0M841.5 305.3h0M841.6 307.2h0M841.7 308.9h0M841.8 307.8h0M841.9 308.3h0M842.1 309.2h0M842.2 310.8h0M842.3 310.0h0M842.4 307.5h0M842.5 308.9h0M842.7 307.4h0M842.8 307.6h0M842.9 307.8h0M843.0 310.3h0M843.1 309.6h0M843.2 310.3h0M843.4 310.2h0M843.5 309.7h0M843.6 311.7h0M843.7 311.0h0M843.8 312.0h0M843.9 312.5h0M844.1 310.1h0M844.2 309.9h0M844.3 310.2h0M844.4 310.4h0M844.5 310.7h0M844.7 311.0h0M844.8 311.2h0M844.9 311.5h0M845.0 311.7h0M845.1 312.0h0M845.2 312.4h0M845.4 312.1h0M845.5 312.4h0M845.6 313.1h0M845.7 311.7h0M845.8 314.2h0M846.0 314.1h0M846.1 314.0h0M846.2 313.9h0M846.3 313.8h0M846.4 313.3h0M846.5 307.2h0M846.7 304.9h0M846.8 308.5h0M846.9 305.6h0M847.0 298.1h0M847.1 305.6h0M847.3 312.6h0M847.4 312.7h0M847.5 307.7h0M847.6 310.2h0M847.7 303.4h0M847.8 301.3h0M848.0 305.3h0M848.1 311.4h0M848.2 306.1h0M848.3 301.9h0M848.4 292.3h0M848.6 293.3h0M848.7 288.6h0M848.8 287.7h0M848.9 293.3h0M849.0 293.7h0M849.1 294.9h0M849.3 296.9h0M849.4 301.7h0M849.5 306.9h0M849.6 298.3h0M849.7 287.5h0M849.8 291.7h0M850.0 296.6h0M850.1 303.6h0M850.2 304.8h0M850.3 305.1h0M850.4 304.7h0M850.6 302.8h0M850.7 304.0h0M850.8 298.4h0M850.9 292.6h0M851.0 294.8h0M851.1 292.2h0M851.3 297.3h0M851.4 293.6h0M851.5 301.2h0M851.6 294.4h0M851.7 297.0h0M851.9 292.7h0M852.0 298.7h0M852.1 294.0h0M852.2 296.6h0M852.3 279.4h0M852.4 279.0h0M852.6 287.1h0M852.7 288.2h0M852.8 288.3h0M852.9 292.7h0M853.0 297.0h0M853.2 293.9h0M853.3 291.9h0M853.4 287.6h0M853.5 289.5h0M853.6 284.0h0M853.7 277.0h0M853.9 275.2h0M854.0 276.0h0M854.1 276.8h0M854.2 279.1h0M854.3 274.2h0M854.5 272.9h0M854.6 272.3h0M854.7 273.5h0M854.8 275.2h0M854.9 275.7h0M855.0 274.6h0M855.2 276.0h0M855.3 276.0h0M855.4 279.5h0M855.5 284.5h0M855.6 285.0h0M855.7 281.9h0M855.9 288.3h0M856.0 289.3h0M856.1 290.4h0M856.2 291.2h0M856.3 291.7h0M856.5 292.0h0M856.6 292.8h0M856.7 286.1h0M856.8 284.0h0M856.9 285.2h0M857.0 287.4h0M857.2 289.8h0M857.3 293.2h0M857.4 284.5h0M857.5 283.3h0M857.6 283.8h0M857.8 285.5h0M857.9 286.6h0M858.0 298.5h0M858.1 296.1h0M858.2 294.9h0M858.3 288.3h0M858.5 299.1h0M858.6 299.3h0M858.7 298.5h0M858.8 295.2h0M858.9 296.6h0M859.1 295.5h0M859.2 302.5h0M859.3 298.1h0M859.4 296.6h0M859.5 295.2h0M859.6 299.4h0M859.8 301.6h0M859.9 306.2h0M860.0 307.6h0M860.1 308.5h0M860.2 307.8h0M860.4 309.4h0M860.5 309.7h0M860.6 309.6h0M860.7 303.4h0M860.8 302.1h0M860.9 300.8h0M861.1 299.0h0M861.2 302.8h0M861.3 308.1h0M861.4 310.3h0M861.5 310.7h0M861.6 311.0h0M861.8 308.7h0M861.9 310.9h0M862.0 306.5h0M862.1 307.5h0M862.2 308.3h0M862.4 309.6h0M862.5 310.7h0M862.6 311.5h0M862.7 310.4h0M862.8 309.2h0M862.9 308.0h0M863.1 308.3h0M863.2 307.8h0M863.3 306.1h0M863.4 307.5h0M863.5 305.9h0M863.7 305.6h0M863.8 305.0h0M863.9 304.7h0M864.0 305.5h0M864.1 304.7h0M864.2 303.9h0M864.4 303.6h0M864.5 303.3h0M864.6 303.0h0M864.7 302.7h0M864.8 305.5h0M865.0 302.5h0M865.1 307.1h0M865.2 311.6h0M865.3 306.9h0M865.4 308.2h0M865.5 307.1h0M865.7 309.7h0M865.8 301.7h0M865.9 303.8h0M866.0 303.6h0M866.1 305.8h0M866.3 309.1h0M866.4 302.6h0M866.5 303.4h0M866.6 304.2h0M866.7 306.8h0M866.8 310.7h0M867.0 312.3h0M867.1 309.4h0M867.2 311.4h0M867.3 308.6h0M867.4 311.1h0M867.5 310.2h0M867.7 309.4h0M867.8 309.9h0M867.9 305.2h0M868.0 305.3h0M868.1 304.5h0M868.3 307.5h0M868.4 311.9h0M868.5 308.0h0M868.6 306.5h0M868.7 307.1h0M868.8 307.5h0M869.0 308.0h0M869.1 312.6h0M869.2 311.9h0M869.3 310.5h0M869.4 310.9h0M869.6 312.2h0M869.7 315.2h0M869.8 315.5h0M869.9 313.7h0M870.0 313.6h0M870.1 316.2h0M870.3 314.4h0M870.4 314.9h0M870.5 316.3h0M870.6 316.7h0M870.7 316.4h0M870.9 315.3h0M871.0 315.2h0M871.1 315.5h0M871.2 315.4h0M871.3 316.1h0M871.4 315.9h0M871.6 316.5h0M871.7 316.2h0M871.8 316.3h0M871.9 315.5h0M872.0 316.0h0M872.2 315.9h0M872.3 315.8h0M872.4 315.2h0M872.5 314.7h0M872.6 307.5h0M872.7 307.0h0M872.9 307.6h0M873.0 306.0h0M873.1 306.6h0M873.2 308.8h0M873.3 313.8h0M873.4 312.5h0M873.6 306.0h0M873.7 301.1h0M873.8 300.2h0M873.9 302.4h0M874.0 306.9h0M874.2 306.3h0M874.3 302.4h0M874.4 299.0h0M874.5 298.5h0M874.6 298.9h0M874.7 301.7h0M874.9 301.5h0M875.0 308.1h0M875.1 307.0h0M875.2 306.7h0M875.3 306.7h0M875.5 306.2h0M875.6 304.4h0M875.7 293.6h0M875.8 286.4h0M875.9 289.1h0M876.0 293.4h0M876.2 295.5h0M876.3 299.6h0M876.4 303.6h0M876.5 298.5h0M876.6 303.4h0M876.8 303.3h0M876.9 303.2h0M877.0 303.1h0M877.1 303.0h0M877.2 298.4h0M877.3 297.2h0M877.5 290.6h0M877.6 290.1h0M877.7 288.1h0M877.8 300.9h0M877.9 294.3h0M878.1 295.6h0M878.2 291.8h0M878.3 300.5h0M878.4 301.7h0M878.5 292.8h0M878.6 285.2h0M878.8 287.9h0M878.9 283.8h0M879.0 287.5h0M879.1 287.9h0M879.2 281.2h0M879.3 280.7h0M879.5 284.3h0M879.6 284.1h0M879.7 284.9h0M879.8 286.6h0M879.9 285.2h0M880.1 290.0h0M880.2 283.1h0M880.3 284.8h0M880.4 281.9h0M880.5 283.2h0M880.6 285.2h0M880.8 285.5h0M880.9 285.4h0M881.0 284.9h0M881.1 284.1h0M881.2 282.6h0M881.4 282.5h0M881.5 282.6h0M881.6 282.6h0M881.7 282.6h0M881.8 282.6h0M881.9 280.3h0M882.1 279.9h0M882.2 280.5h0M882.3 281.8h0M882.4 282.4h0M882.5 282.7h0M882.7 282.6h0M882.8 283.1h0M882.9 283.8h0M883.0 284.2h0M883.1 284.3h0M883.2 284.2h0M883.4 284.3h0M883.5 284.5h0M883.6 285.3h0M883.7 285.8h0M883.8 286.8h0M884.0 287.1h0M884.1 287.1h0M884.2 286.8h0M884.3 286.5h0M884.4 286.2h0M884.5 285.5h0M884.7 284.2h0M884.8 282.7h0M884.9 284.8h0M885.0 283.5h0M885.1 279.3h0M885.2 279.5h0M885.4 282.5h0M885.5 279.0h0M885.6 288.1h0M885.7 285.2h0M885.8 289.6h0M886.0 291.3h0M886.1 288.8h0M886.2 288.8h0M886.3 289.3h0M886.4 288.7h0M886.5 291.5h0M886.7 291.9h0M886.8 288.3h0M886.9 289.8h0M887.0 289.2h0M887.1 290.3h0M887.3 291.9h0M887.4 292.9h0M887.5 295.3h0M887.6 295.7h0M887.7 295.7h0M887.8 297.9h0M888.0 298.5h0M888.1 298.1h0M888.2 297.6h0M888.3 296.8h0M888.4 296.5h0M888.6 295.4h0M888.7 296.2h0M888.8 296.2h0M888.9 294.4h0M889.0 293.5h0M889.1 293.2h0M889.3 292.7h0M889.4 292.0h0M889.5 291.8h0M889.6 291.3h0M889.7 291.2h0M889.9 291.3h0M890.0 292.0h0M890.1 290.9h0M890.2 291.6h0M890.3 290.3h0M890.4 290.8h0M890.6 290.6h0M890.7 290.3h0M890.8 290.1h0M890.9 291.5h0M891.0 292.1h0M891.1 291.0h0M891.3 288.5h0M891.4 288.7h0M891.5 288.8h0M891.6 289.6h0M891.7 290.5h0M891.9 291.8h0M892.0 291.2h0M892.1 294.2h0M892.2 293.0h0M892.3 290.1h0M892.4 289.7h0M892.6 289.8h0M892.7 290.0h0M892.8 290.1h0M892.9 290.2h0M893.0 290.3h0M893.2 291.0h0M893.3 290.5h0M893.4 291.0h0M893.5 292.5h0M893.6 295.5h0M893.7 299.7h0M893.9 305.3h0M894.0 302.8h0M894.1 300.8h0M894.2 304.4h0M894.3 306.6h0M894.5 306.9h0M894.6 306.3h0M894.7 303.4h0M894.8 305.4h0M894.9 306.3h0M895.0 304.2h0M895.2 303.9h0M895.3 303.3h0M895.4 305.4h0M895.5 305.5h0M895.6 307.6h0M895.8 308.8h0M895.9 308.6h0M896.0 308.5h0M896.1 308.3h0M896.2 308.1h0M896.3 307.9h0M896.5 307.7h0M896.6 307.5h0M896.7 307.4h0M896.8 307.2h0M896.9 307.0h0M897.0 306.8h0M897.2 306.6h0M897.3 305.8h0M897.4 306.2h0M897.5 304.8h0M897.6 297.5h0M897.8 291.7h0M897.9 292.5h0M898.0 291.0h0M898.1 298.8h0M898.2 295.3h0M898.3 289.2h0M898.5 287.4h0M898.6 285.7h0M898.7 290.6h0M898.8 288.0h0M898.9 297.8h0M899.1 300.3h0M899.2 303.6h0M899.3 303.4h0M899.4 303.3h0M899.5 294.8h0M899.6 292.3h0M899.8 289.0h0M899.9 296.8h0M900.0 295.8h0M900.1 299.1h0M900.2 294.5h0M900.4 287.7h0M900.5 288.7h0M900.6 297.2h0M900.7 296.4h0M900.8 301.9h0M900.9 299.8h0M901.1 297.2h0M901.2 294.8h0M901.3 293.2h0M901.4 289.4h0M901.5 288.9h0M901.7 285.7h0M901.8 283.1h0M901.9 291.4h0M902.0 295.0h0M902.1 292.7h0M902.2 289.3h0M902.4 283.3h0M902.5 286.6h0M902.6 284.5h0M902.7 292.1h0M902.8 285.0h0M902.9 286.7h0M903.1 290.3h0M903.2 287.8h0M903.3 290.6h0M903.4 289.9h0M903.5 289.3h0M903.7 288.5h0M903.8 288.0h0M903.9 287.3h0M904.0 286.8h0M904.1 287.6h0M904.2 288.3h0M904.4 286.5h0M904.5 287.9h0M904.6 290.6h0M904.7 290.5h0M904.8 292.1h0M905.0 290.7h0M905.1 291.0h0M905.2 281.8h0M905.3 281.2h0M905.4 281.4h0M905.5 281.5h0M905.7 281.6h0M905.8 282.0h0M905.9 284.9h0M906.0 283.3h0M906.1 282.1h0M906.3 283.0h0M906.4 283.2h0M906.5 289.0h0M906.6 297.8h0M906.7 295.7h0M906.8 294.7h0M907.0 299.8h0M907.1 298.0h0M907.2 288.1h0M907.3 293.2h0M907.4 296.2h0M907.6 294.1h0M907.7 297.9h0M907.8 296.6h0M907.9 295.7h0M908.0 300.2h0M908.1 295.0h0M908.3 293.0h0M908.4 294.0h0M908.5 294.5h0M908.6 296.7h0M908.7 296.6h0M908.8 296.8h0M909.0 297.6h0M909.1 298.3h0M909.2 299.2h0M909.3 300.4h0M909.4 300.1h0M909.6 299.7h0M909.7 298.3h0M909.8 292.5h0M909.9 293.9h0M910.0 290.3h0M910.1 285.0h0M910.3 278.5h0M910.4 280.5h0M910.5 277.9h0M910.6 274.5h0M910.7 268.6h0M910.9 271.0h0M911.0 270.7h0M911.1 277.2h0M911.2 275.6h0M911.3 268.9h0M911.4 272.4h0M911.6 262.4h0M911.7 259.1h0M911.8 257.9h0M911.9 261.6h0M912.0 269.0h0M912.2 267.3h0M912.3 265.7h0M912.4 266.3h0M912.5 264.2h0M912.6 260.9h0M912.7 263.6h0M912.9 260.3h0M913.0 259.2h0M913.1 264.8h0M913.2 264.2h0M913.3 260.6h0M913.5 262.6h0M913.6 260.7h0M913.7 261.9h0M913.8 257.5h0M913.9 254.3h0M914.0 251.1h0M914.2 254.3h0M914.3 257.8h0M914.4 258.6h0M914.5 257.6h0M914.6 256.5h0M914.7 256.0h0M914.9 257.4h0M915.0 257.5h0M915.1 255.9h0M915.2 259.1h0M915.3 261.2h0M915.5 262.4h0M915.6 262.7h0M915.7 262.4h0M915.8 263.3h0M915.9 264.4h0M916.0 262.5h0M916.2 262.9h0M916.3 262.6h0M916.4 266.1h0M916.5 264.7h0M916.6 265.0h0M916.8 266.0h0M916.9 267.1h0M917.0 267.9h0M917.1 271.8h0M917.2 274.3h0M917.3 270.8h0M917.5 271.2h0M917.6 272.0h0M917.7 269.7h0M917.8 269.8h0M917.9 270.1h0M918.1 269.0h0M918.2 269.0h0M918.3 270.0h0M918.4 268.8h0M918.5 268.8h0M918.6 266.4h0M918.8 268.2h0M918.9 266.7h0M919.0 270.8h0M919.1 275.6h0M919.2 275.5h0M919.4 275.3h0M919.5 275.1h0M919.6 273.4h0M919.7 273.7h0M919.8 269.7h0M919.9 265.1h0M920.1 265.3h0M920.2 263.0h0M920.3 268.4h0M920.4 270.8h0M920.5 271.2h0M920.6 269.7h0M920.8 268.3h0M920.9 271.5h0M921.0 270.7h0M921.1 269.8h0M921.2 273.5h0M921.4 273.1h0M921.5 271.3h0M921.6 269.5h0M921.7 272.4h0M921.8 269.8h0M921.9 267.1h0M922.1 270.6h0M922.2 272.5h0M922.3 272.4h0M922.4 271.0h0M922.5 271.1h0M922.7 268.1h0M922.8 268.8h0M922.9 261.8h0M923.0 261.6h0M923.1 266.4h0M923.2 266.6h0M923.4 258.0h0M923.5 262.0h0M923.6 263.8h0M923.7 262.6h0M923.8 262.7h0M924.0 261.5h0M924.1 266.4h0M924.2 265.5h0M924.3 258.9h0M924.4 257.2h0M924.5 263.9h0M924.7 267.6h0M924.8 268.7h0M924.9 263.3h0M925.0 262.6h0M925.1 262.8h0M925.3 259.9h0M925.4 258.9h0M925.5 257.4h0M925.6 255.3h0M925.7 253.2h0M925.8 251.2h0M926.0 245.6h0M926.1 242.6h0M926.2 245.3h0M926.3 247.4h0M926.4 246.5h0M926.5 245.7h0M926.7 244.8h0M926.8 240.4h0M926.9 240.5h0M927.0 240.4h0M927.1 236.3h0M927.3 233.1h0M927.4 233.4h0M927.5 232.0h0M927.6 233.3h0M927.7 230.4h0M927.8 232.1h0M928.0 230.8h0M928.1 232.1h0M928.2 230.9h0M928.3 233.3h0M928.4 234.6h0M928.6 238.1h0M928.7 236.1h0M928.8 234.6h0M928.9 236.6h0M929.0 239.0h0M929.1 237.2h0M929.3 239.0h0M929.4 241.3h0M929.5 243.5h0M929.6 244.0h0M929.7 242.3h0M929.9 241.2h0M930.0 244.8h0M930.1 246.0h0M930.2 247.6h0M930.3 247.7h0M930.4 247.9h0M930.6 248.2h0M930.7 247.5h0M930.8 247.1h0M930.9 245.8h0M931.0 245.4h0M931.2 247.2h0M931.3 247.1h0M931.4 245.7h0M931.5 249.1h0M931.6 250.3h0M931.7 249.8h0M931.9 245.5h0M932.0 248.4h0M932.1 250.0h0M932.2 248.3h0M932.3 249.9h0M932.4 247.8h0M932.6 246.4h0M932.7 244.6h0M932.8 245.0h0M932.9 244.3h0M933.0 248.3h0M933.2 246.5h0M933.3 247.2h0M933.4 246.5h0M933.5 246.6h0M933.6 242.9h0M933.7 242.7h0M933.9 247.5h0M934.0 248.6h0M934.1 243.8h0M934.2 241.8h0M934.3 238.0h0M934.5 236.4h0M934.6 235.5h0M934.7 234.5h0M934.8 235.7h0M934.9 240.1h0M935.0 241.0h0M935.2 238.9h0M935.3 240.0h0M935.4 236.8h0M935.5 242.3h0M935.6 248.2h0M935.8 237.6h0M935.9 239.9h0M936.0 240.2h0M936.1 240.9h0M936.2 239.1h0M936.3 232.7h0M936.5 233.3h0M936.6 232.6h0M936.7 232.9h0M936.8 233.5h0M936.9 232.2h0M937.1 242.9h0M937.2 236.0h0M937.3 234.2h0M937.4 229.6h0M937.5 229.9h0M937.6 237.7h0M937.8 236.8h0M937.9 232.4h0M569.5 39.2h0M569.5 45.3h0M569.6 54.7h0M695.5 241.0h0M586.6 230.5h0M718.3 278.3h0M757.7 345.0h0M757.3 333.3h0M767.3 312.3h0M694.0 241.0h0M895.5 321.3h0M916.5 284.0h0M587.5 230.5h0M718.6 278.5h0M474.5 416.0h0M473.5 424.0h0M383.3 394.3h0M396.5 438.0h0M360.0 362.0h0M360.0 368.0h0M367.0 352.0h0M367.4 359.0h0M366.6 365.0h0M366.0 373.0h0M587.5 230.0h0M536.0 293.0h0M936.8 224.6h0M937.0 228.0h0M937.2 232.0h0M936.9 236.0h0M937.3 240.0h0M757.0 324.0h0M757.7 328.3h0M756.7 338.7h0M123.0 483.8h0M122.7 485.8h0M123.3 487.6h0M125.4 497.8h0M125.1 495.8h0M125.7 494.0h0M127.8 497.8h0M127.5 495.8h0M128.1 494.0h0M136.6 476.2h0M136.3 478.2h0M136.9 480.0h0M139.0 486.2h0M138.7 484.2h0M139.3 482.4h0M143.4 477.0h0M143.1 479.0h0M143.7 480.8h0M150.2 481.0h0M149.9 483.0h0M150.5 484.8h0M174.2 491.0h0M173.9 489.0h0M174.5 487.2h0M255.0 469.6h0M254.7 471.6h0M255.3 473.4h0M259.0 483.4h0M258.7 481.4h0M259.3 479.6h0M289.0 417.4h0M288.7 415.4h0M289.3 413.6h0M301.4 369.6h0M301.1 371.6h0M301.7 373.4h0M311.0 403.4h0M310.7 401.4h0M311.3 399.6h0M313.0 403.4h0M312.7 401.4h0M313.3 399.6h0M318.4 362.6h0M318.1 364.6h0M318.7 366.4h0M324.0 405.4h0M323.7 403.4h0M324.3 401.6h0M326.0 405.4h0M325.7 403.4h0M326.3 401.6h0M332.0 376.6h0M331.7 378.6h0M332.3 380.4h0M332.0 401.4h0M331.7 399.4h0M332.3 397.6h0M356.0 320.6h0M355.7 322.6h0M356.3 324.4h0M358.0 353.4h0M357.7 351.4h0M358.3 349.6h0M365.6 306.6h0M365.3 308.6h0M365.9 310.4h0M368.3 369.4h0M368.0 367.4h0M368.6 365.6h0M368.4 321.4h0M368.1 323.4h0M368.7 325.2h0M375.0 431.9h0M374.7 429.9h0M375.3 428.1h0M383.8 365.1h0M383.5 367.1h0M384.1 368.9h0M391.0 366.6h0M390.7 368.6h0M391.3 370.4h0M399.0 438.4h0M398.7 436.4h0M399.3 434.6h0M401.5 399.6h0M401.2 401.6h0M401.8 403.4h0M405.0 400.6h0M404.7 402.6h0M405.3 404.4h0M407.0 400.6h0M406.7 402.6h0M407.3 404.4h0M409.0 436.4h0M408.7 434.4h0M409.3 432.6h0M411.0 436.4h0M410.7 434.4h0M411.3 432.6h0M418.5 400.6h0M418.2 402.6h0M418.8 404.4h0M435.0 444.4h0M434.7 442.4h0M435.3 440.6h0M438.0 444.4h0M437.7 442.4h0M438.3 440.6h0M443.0 411.6h0M442.7 413.6h0M443.3 415.4h0M453.0 417.6h0M452.7 419.6h0M453.3 421.4h0M460.0 437.9h0M459.7 435.9h0M460.3 434.1h0M463.0 437.9h0M462.7 435.9h0M463.3 434.1h0M475.0 386.1h0M474.7 388.1h0M475.3 389.9h0M489.0 423.4h0M488.7 421.4h0M489.3 419.6h0M495.0 406.6h0M494.7 408.6h0M495.3 410.4h0M507.5 365.1h0M507.2 367.1h0M507.8 368.9h0M515.0 401.1h0M514.7 399.1h0M515.3 397.4h0M607.0 192.6h0M606.7 194.6h0M607.3 196.4h0M628.0 319.4h0M627.7 317.4h0M628.3 315.6h0M637.0 276.6h0M636.7 278.6h0M637.3 280.4h0M637.0 310.4h0M636.7 308.4h0M637.3 306.6h0M658.0 235.4h0M657.7 233.4h0M658.3 231.6h0M661.0 201.6h0M660.7 203.6h0M661.3 205.4h0M664.0 223.4h0M663.7 221.4h0M664.3 219.6h0M670.0 223.4h0M669.7 221.4h0M670.3 219.6h0M679.0 189.6h0M678.7 191.6h0M679.3 193.4h0M679.0 223.4h0M678.7 221.4h0M679.3 219.6h0M685.0 217.4h0M684.7 215.4h0M685.3 213.6h0M690.4 173.1h0M690.1 175.1h0M690.7 176.9h0M695.5 235.4h0M695.2 233.4h0M695.8 231.6h0M698.5 201.6h0M698.2 203.6h0M698.8 205.4h0M704.5 241.4h0M704.2 239.4h0M704.8 237.6h0M710.5 182.1h0M710.2 184.1h0M710.8 185.9h0M720.0 274.1h0M719.7 272.1h0M720.3 270.3h0M729.3 209.3h0M729.0 211.3h0M729.6 213.1h0M740.0 287.4h0M739.7 285.4h0M740.3 283.6h0M749.3 230.9h0M749.0 232.9h0M749.6 234.7h0M755.0 317.4h0M754.7 315.4h0M755.3 313.6h0M763.3 265.9h0M763.0 267.9h0M763.6 269.7h0M766.7 304.1h0M766.4 302.1h0M767.0 300.3h0M773.3 269.3h0M773.0 271.3h0M773.6 273.1h0M776.7 300.7h0M776.4 298.7h0M777.0 296.9h0M780.0 272.6h0M779.7 274.6h0M780.3 276.4h0M786.7 275.9h0M786.4 277.9h0M787.0 279.7h0M786.7 304.1h0M786.4 302.1h0M787.0 300.3h0M793.3 330.7h0M793.0 328.7h0M793.6 326.9h0M806.7 330.7h0M806.4 328.7h0M807.0 326.9h0M810.7 328.1h0M810.4 326.1h0M811.0 324.3h0M816.0 295.9h0M815.7 297.9h0M816.3 299.7h0M829.3 344.1h0M829.0 342.1h0M829.6 340.3h0M834.7 322.6h0M834.4 324.6h0M835.0 326.4h0M839.5 330.7h0M839.2 328.7h0M839.8 326.9h0M840.5 303.9h0M840.2 305.9h0M840.8 307.7h0M845.3 314.7h0M845.0 312.7h0M845.6 310.9h0M854.7 271.9h0M854.4 273.9h0M855.0 275.7h0M862.7 312.1h0M862.4 310.1h0M863.0 308.3h0M870.7 317.4h0M870.4 315.4h0M871.0 313.6h0M881.3 274.6h0M881.0 276.6h0M881.6 278.4h0M884.0 274.6h0M883.7 276.6h0M884.3 278.4h0M884.0 298.7h0M883.7 296.7h0M884.3 294.9h0M888.0 298.7h0M887.7 296.7h0M888.3 294.9h0M890.7 287.9h0M890.4 289.9h0M891.0 291.7h0M895.5 309.4h0M895.2 307.4h0M895.8 305.6h0M904.0 279.9h0M903.7 281.9h0M904.3 283.7h0M909.3 306.7h0M909.0 304.7h0M909.6 302.9h0M914.7 249.3h0M914.4 251.3h0M915.0 253.1h0M917.3 277.4h0M917.0 275.4h0M917.6 273.6h0M928.0 229.3h0M927.7 231.3h0M928.3 233.1h0M930.7 250.7h0M930.4 248.7h0M931.0 246.9h0M532.1 343.6h0M532.4 333.3h0M535.8 303.7h0M532.4 328.5h0M536.4 303.1h0M531.5 338.4h0M534.1 329.8h0M531.5 346.5h0M533.3 327.7h0M530.9 339.3h0M532.2 334.8h0M529.6 345.9h0M532.9 339.4h0M536.3 317.6h0M529.5 345.6h0M530.5 340.3h0M532.8 332.8h0M535.6 315.9h0M530.8 343.6h0M536.1 311.9h0M533.7 330.4h0M535.5 318.1h0M531.3 343.4h0M532.3 332.9h0M536.4 299.6h0M536.2 306.7h0M534.2 326.4h0M534.1 328.1h0M532.2 334.8h0M532.1 341.5h0M531.9 339.5h0M535.9 317.2h0M536.1 308.5h0M532.0 337.8h0M530.5 343.3h0M533.8 327.6h0M533.7 327.2h0M533.5 336.9h0M530.4 349.7h0M530.3 343.7h0M532.7 340.4h0M533.4 328.2h0M533.9 331.7h0M533.5 323.5h0M536.1 298.1h0M533.3 337.7h0M530.0 347.3h0M529.1 349.5h0M530.2 344.1h0M532.5 328.4h0M531.9 345.2h0M535.9 311.2h0M534.9 319.6h0M531.9 334.7h0M530.3 345.4h0M532.3 330.3h0M535.9 298.3h0M534.2 325.0h0M530.6 346.3h0M533.4 330.7h0M530.5 345.2h0M531.0 343.2h0M533.1 336.3h0M533.3 332.6h0M530.6 339.9h0M535.7 302.2h0M535.4 316.7h0M535.7 303.1h0M533.4 336.5h0M533.3 325.5h0M533.6 328.9h0M532.6 342.9h0M533.7 326.9h0M534.0 325.0h0M536.2 317.8h0M542.5 270.0h0M539.7 270.8h0M537.9 269.7h0M541.9 258.1h0M543.3 269.2h0M542.1 257.6h0M541.7 269.6h0M540.6 276.8h0M540.8 271.6h0M539.2 273.2h0M542.0 271.4h0M545.3 261.8h0M543.0 277.3h0M540.9 264.3h0M538.0 263.5h0M539.8 257.5h0M538.4 281.4h0M539.1 275.5h0M543.1 204.4h0M543.6 232.7h0M543.7 225.4h0M545.2 212.1h0M541.0 248.3h0M541.8 235.8h0M543.9 209.0h0M550.9 205.4h0M542.1 216.1h0M542.0 202.1h0M544.8 209.9h0M547.1 228.3h0M541.6 246.2h0M546.7 229.0h0M550.0 205.6h0M547.1 217.5h0M546.2 214.2h0M541.4 223.0h0M545.5 237.4h0M543.5 221.7h0M541.7 249.9h0M542.8 245.4h0M543.7 216.5h0M544.0 204.1h0M541.2 210.4h0M543.6 224.9h0M542.9 203.0h0M540.6 248.1h0M548.7 216.5h0M545.2 206.0h0M540.5 240.1h0M551.0 204.5h0M542.0 233.0h0M542.5 221.6h0M545.6 246.3h0M546.6 204.5h0M544.8 208.7h0M544.9 236.4h0M544.0 208.8h0M543.7 218.9h0M545.6 232.9h0M544.5 214.7h0M544.9 204.4h0M542.5 249.9h0M544.7 225.8h0M546.0 226.4h0M543.7 211.5h0M543.1 245.9h0M540.1 250.6h0M543.2 238.9h0M547.2 221.3h0M546.2 206.7h0M543.9 211.1h0M542.7 241.1h0M540.4 238.9h0M545.2 252.9h0M541.5 232.8h0M541.6 231.5h0M540.9 216.5h0M542.7 204.5h0M549.3 208.6h0M548.7 211.0h0M541.9 202.2h0M551.1 204.2h0M540.5 241.1h0M541.0 248.8h0M546.2 211.8h0M550.5 209.5h0M545.5 216.1h0M542.4 226.7h0M546.8 236.0h0M541.0 228.1h0M544.4 240.4h0M545.4 222.1h0M543.5 211.6h0M541.1 223.5h0M541.7 227.6h0M549.3 211.4h0M542.1 227.6h0M546.9 233.9h0M551.0 192.9h0M554.6 152.0h0M548.0 169.1h0M550.1 178.0h0M551.6 164.3h0M554.7 132.3h0M546.2 197.5h0M551.7 147.2h0M554.5 150.8h0M555.5 127.4h0M552.2 147.2h0M552.2 185.8h0M548.3 193.9h0M555.3 131.1h0M549.6 164.5h0M551.1 181.2h0M548.7 192.9h0M556.9 146.2h0M546.6 192.1h0M555.5 144.2h0M552.2 188.1h0M555.7 124.4h0M551.9 157.4h0M550.1 184.8h0M548.9 164.1h0M550.4 174.6h0M545.9 195.5h0M554.6 137.3h0M553.7 151.6h0M555.9 141.3h0M546.8 188.1h0M545.8 193.7h0M554.0 150.4h0M549.9 157.4h0M551.6 181.0h0M552.5 145.4h0M548.4 164.1h0M551.2 195.1h0M549.1 188.9h0M549.1 185.4h0M548.3 159.9h0M556.5 127.0h0M557.2 143.0h0M550.5 167.5h0M547.6 192.7h0M556.3 122.0h0M548.5 159.9h0M555.7 148.8h0M551.8 154.6h0M554.6 145.8h0M545.0 197.7h0M551.1 189.5h0M550.2 170.5h0M548.2 164.1h0M552.6 167.9h0M549.8 181.0h0M553.2 158.9h0M556.7 120.6h0M549.5 196.1h0M549.8 188.5h0M556.1 127.6h0M548.0 173.0h0M552.9 161.3h0M554.4 130.5h0M556.2 135.1h0M546.6 192.7h0M547.9 189.7h0M551.6 165.5h0M555.2 136.7h0M548.4 191.1h0M549.4 186.2h0M547.7 195.3h0M547.2 188.1h0M551.5 152.2h0M551.6 156.2h0M553.9 146.2h0M550.4 177.2h0M555.7 146.4h0M549.6 179.4h0M548.7 159.9h0M548.7 188.9h0M556.9 149.6h0M552.1 150.4h0M552.9 154.8h0M549.5 171.5h0M547.7 177.4h0M548.3 194.5h0M550.6 159.1h0M556.2 148.4h0M548.4 159.5h0M553.5 153.0h0M550.7 153.4h0M546.6 192.5h0M549.6 181.0h0M551.4 162.5h0M556.4 123.6h0M550.1 159.9h0M557.0 118.0h0M550.1 162.1h0M551.4 152.0h0M565.0 130.8h0M563.1 164.6h0M564.8 110.1h0M565.0 139.9h0M564.9 144.9h0M562.8 153.2h0M561.3 183.1h0M563.5 147.3h0M562.5 173.8h0M564.6 129.5h0M565.8 113.5h0M563.3 150.0h0M562.7 165.8h0M562.1 176.6h0M564.3 115.4h0M561.9 167.9h0M566.1 116.9h0M562.5 163.7h0M563.7 129.1h0M563.6 116.7h0M564.4 146.2h0M565.8 117.7h0M564.6 139.9h0M563.2 151.3h0M562.8 163.1h0M563.6 140.7h0M564.7 123.8h0M563.4 155.9h0M564.8 144.7h0M563.6 133.6h0M565.3 144.7h0M565.0 112.2h0M563.8 150.8h0M565.0 115.6h0M563.8 114.3h0M564.0 129.1h0M565.3 141.1h0M566.0 121.5h0M565.3 129.8h0M564.9 142.2h0M562.7 169.6h0M566.0 117.9h0M565.6 116.4h0M564.6 112.6h0M565.3 116.9h0M564.8 127.6h0M564.6 121.7h0M562.0 173.6h0M564.8 139.9h0M561.0 184.8h0M568.1 71.2h0M568.9 74.6h0M576.1 103.2h0M567.8 70.9h0M572.4 86.7h0M570.8 93.0h0M570.1 83.0h0M569.5 98.3h0M573.0 98.2h0M569.7 86.5h0M568.2 72.7h0M567.5 64.7h0M570.8 69.0h0M573.6 102.9h0M568.4 104.7h0M570.6 86.3h0M573.7 106.0h0M567.2 72.3h0M569.7 64.0h0M567.6 107.0h0M566.3 105.0h0M576.4 105.5h0M570.3 92.5h0M572.1 78.8h0M568.3 81.9h0M574.1 103.9h0M571.2 94.5h0M567.5 71.2h0M574.1 109.3h0M571.4 98.8h0M567.5 79.7h0M566.7 97.4h0M568.4 63.2h0M574.4 97.6h0M568.9 91.4h0M569.4 108.6h0M570.3 92.8h0M567.7 65.1h0M569.5 60.5h0M571.4 87.7h0M570.3 91.2h0M571.4 106.2h0M570.0 70.4h0M569.0 63.3h0M569.6 87.2h0M576.7 102.8h0M575.3 108.9h0M580.2 105.2h0M569.0 88.1h0M568.8 63.2h0M568.0 66.3h0M569.6 89.5h0M572.4 103.8h0M566.4 102.1h0M575.6 102.7h0M568.4 61.1h0M567.8 99.7h0M580.8 104.8h0M574.9 104.3h0M579.7 104.3h0M569.8 108.6h0M567.4 100.1h0M566.4 107.5h0M570.3 82.8h0M569.1 79.0h0M571.2 86.3h0M573.2 94.5h0M572.8 99.1h0M569.3 61.6h0M567.5 107.4h0M577.4 104.3h0M569.7 68.9h0M569.0 84.2h0M572.3 109.8h0M572.7 92.6h0M567.5 88.4h0M567.5 109.4h0M579.3 107.1h0M567.5 92.2h0M570.7 91.8h0M580.7 104.4h0M566.8 80.4h0M565.6 109.4h0M576.7 108.9h0M571.2 107.1h0M570.0 77.6h0M571.8 90.4h0M569.3 77.0h0M573.6 107.5h0M575.6 107.9h0M570.1 73.1h0M567.1 76.5h0M566.7 98.3h0M568.7 66.0h0M570.3 76.3h0M568.1 82.3h0M570.9 96.0h0M578.1 105.7h0M567.1 108.0h0M570.0 66.3h0M567.0 88.9h0M569.2 95.1h0M570.5 78.4h0M569.4 103.0h0M568.7 100.9h0M571.3 106.7h0M567.9 92.5h0M568.7 92.1h0M567.7 104.3h0M569.9 95.3h0M593.5 207.9h0M586.9 177.3h0M578.5 126.2h0M587.5 208.8h0M590.0 168.0h0M578.3 111.5h0M592.7 170.7h0M594.2 198.0h0M588.9 153.5h0M593.8 209.4h0M579.3 129.8h0M577.9 106.4h0M592.1 168.9h0M595.0 194.4h0M593.4 183.6h0M588.8 189.9h0M595.6 205.8h0M596.6 207.9h0M590.5 194.1h0M595.1 208.2h0M584.9 171.3h0M588.4 216.3h0M580.5 141.2h0M589.0 201.3h0M582.8 148.7h0M595.1 177.6h0M599.8 179.7h0M590.1 193.8h0M599.9 164.0h0M592.6 198.9h0M590.7 160.7h0M583.6 157.4h0M599.0 179.4h0M597.6 188.1h0M579.8 148.4h0M595.5 191.4h0M587.3 207.9h0M589.9 217.8h0M578.1 158.6h0M580.3 119.6h0M602.1 194.4h0M590.8 199.8h0M580.8 145.4h0M578.9 153.5h0M595.0 176.7h0M591.6 218.1h0M575.7 110.6h0M597.7 177.0h0M589.5 219.0h0M583.0 171.0h0M600.5 168.9h0M576.7 118.1h0M596.3 212.7h0M576.6 110.3h0M583.7 145.7h0M590.0 195.3h0M596.4 165.5h0M575.0 112.1h0M590.8 194.4h0M587.9 153.2h0M600.5 189.0h0M594.3 194.1h0M581.6 143.9h0M598.1 176.4h0M599.6 185.4h0M573.9 117.5h0M593.9 204.0h0M586.7 202.2h0M583.8 174.6h0M577.1 137.9h0M578.9 144.8h0M577.8 120.5h0M597.4 178.8h0M588.8 216.6h0M580.8 153.8h0M595.6 196.5h0M589.6 191.4h0M578.8 132.5h0M589.4 206.7h0M597.6 192.3h0M594.9 164.3h0M588.8 208.8h0M582.4 155.6h0M580.0 146.6h0M600.4 189.9h0M595.2 184.8h0M588.5 208.8h0M592.3 187.2h0M588.6 210.9h0M578.3 155.0h0M596.9 170.1h0M590.3 158.3h0M590.1 195.3h0M597.0 180.3h0M580.0 133.1h0M601.0 181.8h0M578.7 158.9h0M600.6 176.1h0M576.5 129.5h0M581.2 126.5h0M587.2 192.3h0M590.8 199.8h0M574.5 111.8h0M577.2 154.4h0M577.3 140.3h0M576.9 134.0h0M599.7 168.0h0M594.6 194.1h0M580.0 118.7h0M572.7 119.3h0M596.3 191.4h0M590.3 192.0h0M596.0 205.2h0M580.1 115.4h0M600.1 192.9h0M599.2 171.6h0M596.1 207.6h0M579.2 156.8h0M593.4 183.6h0M591.1 201.3h0M579.1 138.2h0M593.5 214.5h0M578.1 140.0h0M602.1 165.5h0M588.8 174.3h0M579.2 149.3h0M587.9 175.5h0M580.0 126.5h0M596.1 183.9h0M582.8 155.0h0M589.2 203.7h0M584.4 168.6h0M583.6 165.8h0M602.6 192.9h0M575.6 120.8h0M587.8 213.0h0M587.3 196.2h0M598.9 170.4h0M599.2 194.4h0M585.1 161.0h0M581.9 131.3h0M592.4 190.2h0M595.0 172.8h0M585.9 163.7h0M588.3 207.3h0M592.1 212.7h0M592.4 170.4h0M576.9 109.7h0M583.6 170.4h0M575.3 109.1h0M585.0 181.2h0M592.9 213.0h0M586.3 189.0h0M587.5 173.7h0M590.3 208.8h0M580.2 146.6h0M578.9 161.0h0M589.3 193.8h0M594.4 207.3h0M594.3 201.6h0M596.9 204.3h0M576.9 108.8h0M592.4 207.0h0M591.4 209.1h0M591.6 162.5h0M582.7 155.6h0M591.1 197.7h0M588.2 184.2h0M584.1 149.0h0M578.4 145.4h0M575.3 110.0h0M595.1 166.5h0M597.3 204.0h0M589.1 163.7h0M591.9 166.8h0M590.6 200.7h0M600.3 190.8h0M589.3 167.1h0M578.5 123.8h0M596.1 195.3h0M587.2 156.8h0M584.6 151.4h0M589.9 211.5h0M593.2 180.3h0M590.7 161.9h0M588.9 160.4h0M587.5 191.7h0M590.8 198.0h0M590.4 164.6h0M591.0 166.5h0M590.9 191.7h0M581.3 137.9h0M593.6 168.3h0M581.2 141.2h0M596.6 180.9h0M587.4 210.3h0M584.4 174.3h0M593.7 164.3h0M589.8 196.5h0M596.5 205.8h0M591.2 208.8h0M593.7 181.8h0M574.7 119.6h0M587.9 198.9h0M596.6 169.5h0M594.5 167.4h0M586.6 177.6h0M576.8 114.5h0M595.3 182.4h0M587.9 216.3h0M579.6 122.9h0M597.0 205.2h0M590.9 205.2h0M596.4 177.6h0M592.3 177.9h0M605.0 218.9h0M605.2 209.4h0M604.9 214.1h0M604.8 220.6h0M604.7 212.2h0M603.9 214.2h0M605.0 210.9h0M604.4 214.2h0M604.7 213.3h0M605.0 216.5h0M604.7 212.7h0M603.8 215.1h0M604.7 219.3h0M604.5 214.8h0M604.3 215.3h0M605.1 215.2h0M605.0 213.5h0M604.2 209.2h0M604.8 217.9h0M604.2 210.2h0M612.8 200.2h0M612.2 195.6h0M612.4 198.2h0M612.4 203.9h0M612.3 204.0h0M612.7 199.1h0M612.5 200.1h0M612.2 199.9h0M612.1 201.1h0M612.7 196.3h0M612.9 204.4h0M612.4 204.5h0" stroke="#000" stroke-width="5.5" stroke-linecap="round" fill="none"/>
<polyline points="120.9,486.4 121.3,487.3 121.7,488.0 122.1,488.5 122.5,488.9 122.9,489.4 123.3,489.3 123.7,488.9 124.1,488.6 124.5,488.2 124.9,487.6 125.3,486.8 125.7,486.0 126.1,485.3 126.5,484.2 126.9,483.0 127.3,481.9 127.7,480.7 128.1,479.8 128.5,479.0 128.9,478.1 129.3,477.2 129.7,476.6 130.1,476.2 130.5,475.8 130.9,476.2 131.3,476.8 131.7,477.3 132.1,478.3 132.5,479.5 132.9,480.6 133.3,481.8 133.7,482.6 134.1,483.3 134.5,484.0 134.9,484.6 135.3,485.2 135.7,485.8 136.1,486.4 136.5,487.0 136.9,486.8 137.3,486.5 137.7,486.2 138.1,485.9 138.5,485.6 138.9,485.3 139.3,485.0 139.7,484.7 140.1,484.9 140.5,485.4 140.9,485.9 141.3,486.3 141.7,486.0 142.1,485.2 142.5,484.4 142.9,483.6 143.3,482.9 143.7,482.8 144.1,483.1 144.5,483.5 144.9,483.9 145.3,484.4 145.7,484.9 146.1,485.4 146.5,485.7 146.9,485.9 147.3,486.1 147.7,486.3 148.1,486.1 148.5,485.7 148.9,485.2 149.3,484.8 149.7,485.0 150.1,485.5 150.5,486.0 150.9,486.5 151.3,487.2 151.7,488.0 152.1,488.8 152.5,489.6 152.9,490.6 153.3,491.0 153.7,491.4 154.1,491.7 154.5,492.1 154.9,491.6 155.3,491.2 155.7,490.8 156.1,490.3 156.5,489.5 156.9,488.6 157.3,487.8 157.7,486.9 158.1,485.6 158.5,484.4 158.9,483.2 159.3,482.1 159.7,481.1 160.1,480.2 160.5,479.2 160.9,478.3 161.3,477.8 161.7,477.4 162.1,477.2 162.5,477.7 162.9,478.2 163.3,478.7 163.7,479.9 164.1,481.0 164.5,482.1 164.9,483.2 165.3,483.8 165.7,484.5 166.1,485.1 166.5,485.8 166.9,486.4 167.3,487.0 167.7,487.6 168.1,488.0 168.5,487.8 168.9,487.5 169.3,487.2 169.7,487.0 170.1,486.7 170.5,486.4 170.9,486.1 171.3,485.8 171.7,486.3 172.1,486.8 172.5,487.4 172.9,487.8 173.3,487.0 173.7,486.3 174.1,485.5 174.5,484.7 174.9,483.9 175.3,484.2 175.7,484.6 176.1,484.9 176.5,485.4 176.9,485.9 177.3,486.3 177.7,486.8 178.1,487.0 178.5,487.2 178.9,487.4 179.3,487.5 179.7,487.1 180.1,486.7 180.5,486.3 180.9,485.8 181.3,486.3 181.7,486.9 182.1,487.4 182.5,487.9 182.9,488.7 183.3,489.5 183.7,490.2 184.1,491.1 184.5,491.8 184.9,492.2 185.3,492.6 185.7,493.0 186.1,493.0 186.5,492.5 186.9,492.1 187.3,491.7 187.7,491.1 188.1,490.3 188.5,489.4 188.9,488.6 189.3,487.6 189.7,486.4 190.1,485.2 190.5,484.0 190.9,483.0 191.3,482.0 191.7,481.1 192.1,480.2 192.5,479.4 192.9,479.0 193.3,478.5 193.7,478.6 194.1,479.1 194.5,479.6 194.9,480.4 195.3,481.5 195.7,482.6 196.1,483.7 196.5,484.6 196.9,485.2 197.3,485.8 197.7,486.5 198.1,487.1 198.5,487.7 198.9,488.3 199.3,488.9 199.7,488.9 200.1,488.7 200.5,488.5 200.9,488.2 201.3,488.0 201.7,487.7 202.1,487.5 202.5,487.2 202.9,487.3 203.3,487.8 203.7,488.4 204.1,488.9 204.5,488.9 204.9,488.2 205.3,487.5 205.7,486.7 206.1,486.0 206.5,485.7 206.9,486.1 207.3,486.5 207.7,487.0 208.1,487.5 208.5,488.1 208.9,488.6 209.3,489.1 209.7,489.4 210.1,489.6 210.5,489.8 210.9,489.9 211.3,489.5 211.7,489.2 212.1,488.8 212.5,488.8 212.9,489.4 213.3,489.8 213.7,490.2 214.1,490.8 214.5,491.5 214.9,492.2 215.3,493.0 215.7,493.8 216.1,494.3 216.5,494.6 216.9,494.9 217.3,495.2 217.7,494.9 218.1,494.4 218.5,493.9 218.9,493.3 219.3,492.5 219.7,491.6 220.1,490.7 220.5,489.8 220.9,488.5 221.3,487.2 221.7,485.9 222.1,484.6 222.5,483.6 222.9,482.6 223.3,481.6 223.7,480.5 224.1,479.9 224.5,479.3 224.9,478.8 225.3,479.1 225.7,479.5 226.1,480.0 226.5,481.1 226.9,482.2 227.3,483.4 227.7,484.6 228.1,485.3 228.5,486.0 228.9,486.7 229.3,487.4 229.7,488.1 230.1,488.7 230.5,489.4 230.9,490.1 231.3,489.8 231.7,489.6 232.1,489.4 232.5,489.2 232.9,488.9 233.3,488.7 233.7,488.4 234.1,488.2 234.5,488.5 234.9,489.1 235.3,489.7 235.7,490.2 236.1,489.8 236.5,489.0 236.9,488.3 237.3,487.6 237.7,486.9 238.1,487.0 238.5,487.5 238.9,487.9 239.3,488.1 239.7,488.3 240.1,488.5 240.5,488.7 240.9,488.7 241.3,488.6 241.7,488.5 242.1,488.4 242.5,487.9 242.9,487.2 243.3,486.5 243.7,485.8 244.1,485.8 244.5,486.0 244.9,486.3 245.3,486.5 245.7,487.0 246.1,487.5 246.5,488.0 246.9,488.5 247.3,489.1 247.7,489.2 248.1,489.3 248.5,489.4 248.9,489.4 249.3,488.7 249.7,488.0 250.1,487.2 250.5,486.4 250.9,485.3 251.3,484.2 251.7,483.1 252.1,481.8 252.5,480.1 252.9,478.3 253.3,476.6 253.7,475.0 254.1,473.5 254.5,472.1 254.9,470.6 255.3,469.2 255.7,468.2 256.1,467.3 256.5,466.6 256.9,466.6 257.3,466.5 257.7,466.6 258.1,467.2 258.5,467.8 258.9,468.4 259.3,468.8 259.7,469.0 260.1,469.1 260.5,469.2 260.9,469.3 261.3,469.3 261.7,469.4 262.1,469.5 262.5,469.2 262.9,468.4 263.3,467.6 263.7,466.8 264.1,466.0 264.5,465.2 264.9,464.3 265.3,463.4 265.7,462.6 266.1,462.5 266.5,462.3 266.9,462.2 267.3,461.8 267.7,460.4 268.1,459.0 268.5,457.7 268.9,456.3 269.3,455.0 269.7,454.7 270.1,454.4 270.5,454.2 270.9,454.0 271.3,453.9 271.7,453.8 272.1,453.6 272.5,453.2 272.9,452.8 273.3,452.3 273.7,451.9 274.1,450.8 274.5,449.8 274.9,448.7 275.3,447.8 275.7,447.7 276.1,447.6 276.5,447.5 276.9,447.5 277.3,447.6 277.7,447.8 278.1,448.0 278.5,448.1 278.9,448.1 279.3,447.8 279.7,447.4 280.1,447.1 280.5,446.3 280.9,445.1 281.3,444.0 281.7,442.8 282.1,441.4 282.5,439.8 282.9,438.3 283.3,436.7 283.7,434.9 284.1,432.9 284.5,431.0 284.9,429.0 285.3,427.3 285.7,425.6 286.1,423.9 286.5,422.3 286.9,420.8 287.3,419.6 287.7,418.4 288.1,417.9 288.5,417.6 288.9,417.4 289.3,417.5 289.7,417.8 290.1,418.2 290.5,418.6 290.9,418.7 291.3,418.5 291.7,418.4 292.1,418.2 292.5,418.1 292.9,417.9 293.3,417.7 293.7,417.5 294.1,416.7 294.5,415.6 294.9,414.5 295.3,413.5 295.7,412.4 296.1,411.3 296.5,410.2 296.9,409.1 297.3,408.4 297.7,408.2 298.1,407.9 298.5,407.6 298.9,406.6 299.3,405.0 299.7,403.5 300.1,401.9 300.5,400.4 300.9,399.4 301.3,399.0 301.7,398.6 302.1,398.2 302.5,397.9 302.9,397.6 303.3,397.3 303.7,396.9 304.1,396.4 304.5,396.0 304.9,395.9 305.3,395.5 305.7,394.8 306.1,394.0 306.5,393.3 306.9,393.1 307.3,393.3 307.7,393.5 308.1,393.7 308.5,394.0 308.9,394.5 309.3,395.0 309.7,395.5 310.1,396.1 310.5,396.3 310.9,396.4 311.3,396.4 311.7,396.5 312.1,395.8 312.5,395.1 312.9,394.4 313.3,393.6 313.7,392.5 314.1,391.3 314.5,390.2 314.9,389.0 315.3,387.5 315.7,386.0 316.1,384.4 316.5,382.9 316.9,381.7 317.3,380.4 317.7,379.1 318.1,377.8 318.5,376.9 318.9,376.0 319.3,375.3 319.7,375.4 320.1,375.5 320.5,375.6 320.9,376.3 321.3,377.0 321.7,377.7 322.1,378.5 322.5,378.7 322.9,379.0 323.3,379.2 323.7,379.4 324.1,379.7 324.5,379.9 324.9,380.1 325.3,380.2 325.7,379.5 326.1,378.9 326.5,378.2 326.9,377.5 327.3,376.8 327.7,376.1 328.1,375.4 328.5,374.7 328.9,374.7 329.3,374.9 329.7,375.0 330.1,375.1 330.5,374.0 330.9,372.8 331.3,371.6 331.7,370.4 332.1,369.3 332.5,369.0 332.9,369.0 333.3,368.9 333.7,369.0 334.1,369.0 334.5,369.1 334.9,369.2 335.3,369.1 335.7,368.8 336.1,368.6 336.5,368.4 336.9,367.7 337.3,366.8 337.7,366.0 338.1,365.2 338.5,365.2 338.9,365.3 339.3,365.4 339.7,365.5 340.1,365.9 340.5,366.3 340.9,366.6 341.3,367.0 341.7,367.5 342.1,367.5 342.5,367.5 342.9,367.4 343.3,367.2 343.7,366.4 344.1,365.7 344.5,364.9 344.9,364.0 345.3,362.9 345.7,361.8 346.1,360.6 346.5,359.3 346.9,357.8 347.3,356.3 347.7,354.8 348.1,353.4 348.5,352.1 348.9,350.9 349.3,349.7 349.7,348.5 350.1,347.7 350.5,347.0 350.9,346.6 351.3,346.8 351.7,347.0 352.1,347.4 352.5,348.1 352.9,348.9 353.3,349.7 353.7,350.4 354.1,350.7 354.5,351.0 354.9,351.3 355.3,351.6 355.7,351.9 356.1,352.2 356.5,352.5 356.9,353.2 357.3,353.4 357.7,353.7 358.1,354.0 358.5,354.2 358.9,354.5 359.3,354.7 359.7,354.9 360.1,355.4 360.5,356.4 360.9,357.5 361.3,358.5 361.7,359.2 362.1,359.0 362.5,358.8 362.9,358.5 363.3,358.3 363.7,358.4 364.1,359.3 364.5,360.2 364.9,361.1 365.3,362.2 365.7,363.2 366.1,364.3 366.5,365.3 366.9,366.0 367.3,366.8 367.7,367.5 368.1,368.1 368.5,368.3 368.9,368.4 369.3,368.5 369.7,368.9 370.1,370.1 370.5,371.2 370.9,372.3 371.3,373.5 371.7,374.9 372.1,376.3 372.5,377.7 372.9,379.2 373.3,380.4 373.7,381.4 374.1,382.4 374.5,383.3 374.9,383.8 375.3,383.9 375.7,384.1 376.1,384.3 376.5,384.1 376.9,383.9 377.3,383.7 377.7,383.4 378.1,382.9 378.5,382.3 378.9,381.7 379.3,381.0 379.7,380.7 380.1,380.3 380.5,380.0 380.9,379.6 381.3,379.6 381.7,379.7 382.1,379.8 382.5,380.7 382.9,381.7 383.3,382.6 383.7,384.0 384.1,385.5 384.5,387.1 384.9,388.6 385.3,389.8 385.7,390.9 386.1,391.9 386.5,393.0 386.9,394.0 387.3,395.1 387.7,396.1 388.1,397.1 388.5,397.4 388.9,397.6 389.3,397.7 389.7,397.9 390.1,398.0 390.5,398.1 390.9,398.2 391.3,398.3 391.7,399.0 392.1,399.9 392.5,400.9 392.9,401.8 393.3,401.8 393.7,401.5 394.1,401.2 394.5,400.8 394.9,400.5 395.3,400.8 395.7,401.6 396.1,402.3 396.5,403.0 396.9,403.8 397.3,404.6 397.7,405.3 398.1,406.0 398.5,406.4 398.9,406.9 399.3,407.4 399.7,407.5 400.1,407.4 400.5,407.3 400.9,407.1 401.3,407.6 401.7,408.4 402.1,409.2 402.5,410.0 402.9,411.0 403.3,412.1 403.7,413.2 404.1,414.3 404.5,415.6 404.9,416.3 405.3,416.9 405.7,417.6 406.1,418.3 406.5,418.1 406.9,418.0 407.3,417.9 407.7,417.7 408.1,417.1 408.5,416.6 408.9,416.0 409.3,415.3 409.7,414.3 410.1,413.3 410.5,412.3 410.9,411.4 411.3,410.6 411.7,409.9 412.1,409.2 412.5,408.4 412.9,408.2 413.3,407.9 413.7,407.8 414.1,408.5 414.5,409.2 414.9,409.9 415.3,411.3 415.7,412.6 416.1,413.9 416.5,415.1 416.9,415.9 417.3,416.8 417.7,417.6 418.1,418.4 418.5,419.2 418.9,420.0 419.3,420.8 419.7,421.4 420.1,421.3 420.5,421.2 420.9,421.1 421.3,421.1 421.7,420.9 422.1,420.9 422.5,420.8 422.9,420.7 423.3,421.5 423.7,422.2 424.1,423.0 424.5,423.6 424.9,423.1 425.3,422.6 425.7,422.1 426.1,421.6 426.5,421.0 426.9,421.6 427.3,422.2 427.7,422.8 428.1,423.6 428.5,424.3 428.9,425.0 429.3,425.8 429.7,426.3 430.1,426.7 430.5,427.2 430.9,427.6 431.3,427.5 431.7,427.3 432.1,427.1 432.5,427.0 432.9,427.7 433.3,428.5 433.7,429.3 434.1,430.1 434.5,431.1 434.9,432.1 435.3,432.7 435.7,433.3 436.1,433.8 436.5,434.0 436.9,434.2 437.3,434.3 437.7,434.1 438.1,433.5 438.5,432.8 438.9,432.2 439.3,431.3 439.7,430.3 440.1,429.2 440.5,428.1 440.9,426.9 441.3,425.4 441.7,424.0 442.1,422.5 442.5,421.3 442.9,420.1 443.3,418.9 443.7,417.8 444.1,416.7 444.5,416.1 444.9,415.4 445.3,415.2 445.7,415.5 446.1,415.7 446.5,416.2 446.9,417.1 447.3,418.0 447.7,418.9 448.1,419.6 448.5,420.1 448.9,420.6 449.3,421.2 449.7,421.7 450.1,422.2 450.5,422.7 450.9,423.2 451.3,423.1 451.7,422.8 452.1,422.4 452.5,422.0 452.9,421.6 453.3,421.2 453.7,420.8 454.1,420.4 454.5,420.3 454.9,420.7 455.3,421.1 455.7,421.5 456.1,421.3 456.5,420.5 456.9,419.6 457.3,418.7 457.7,417.9 458.1,417.4 458.5,417.7 458.9,417.9 459.3,418.2 459.7,418.6 460.1,419.1 460.5,419.5 460.9,419.8 461.3,419.8 461.7,419.7 462.1,419.7 462.5,419.4 462.9,418.8 463.3,418.1 463.7,417.4 464.1,417.2 464.5,417.4 464.9,417.7 465.3,418.0 465.7,418.4 466.1,419.0 466.5,419.5 466.9,420.1 467.3,420.8 467.7,421.1 468.1,421.3 468.5,421.4 468.9,421.6 469.3,421.1 469.7,420.4 470.1,419.8 470.5,419.1 470.9,418.1 471.3,417.0 471.7,415.9 472.1,414.9 472.5,413.5 472.9,412.0 473.3,410.6 473.7,409.1 474.1,408.0 474.5,407.0 474.9,405.9 475.3,404.9 475.7,404.2 476.1,403.7 476.5,403.2 476.9,403.5 477.3,403.9 477.7,404.3 478.1,405.2 478.5,406.3 478.9,407.3 479.3,408.3 479.7,408.9 480.1,409.4 480.5,410.0 480.9,410.5 481.3,411.0 481.7,411.6 482.1,412.1 482.5,412.6 482.9,412.2 483.3,411.8 483.7,411.5 484.1,411.1 484.5,410.7 484.9,410.3 485.3,409.9 485.7,409.5 486.1,409.7 486.5,410.1 486.9,410.5 487.3,410.9 487.7,410.0 488.1,409.0 488.5,408.0 488.9,407.0 489.3,405.9 489.7,405.7 490.1,405.8 490.5,405.9 490.9,406.1 491.3,406.3 491.7,406.6 492.1,406.8 492.5,406.9 492.9,406.8 493.3,406.7 493.7,406.6 494.1,406.1 494.5,405.5 494.9,404.8 495.3,404.1 495.7,404.2 496.1,404.4 496.5,404.7 496.9,404.9 497.3,405.4 497.7,406.0 498.1,406.5 498.5,407.1 498.9,407.7 499.3,407.9 499.7,408.0 500.1,408.1 500.5,408.4 500.9,408.0 501.3,407.6 501.7,407.1 502.1,406.6 502.5,405.8 502.9,405.0 503.3,404.2 503.7,403.2 504.1,402.0 504.5,400.8 504.9,399.6 505.3,398.5 505.7,397.6 506.1,396.7 506.5,395.8 506.9,394.9 507.3,394.4 507.7,394.0 508.1,393.8 508.5,394.3 508.9,394.8 509.3,395.4 509.7,396.6 510.1,397.7 510.5,398.8 510.9,399.8 511.3,400.4 511.7,401.1 512.1,401.7 512.5,402.3 512.9,402.9 513.3,402.9 513.7,401.1 514.1,399.0 514.5,396.4 514.9,393.7 515.3,391.1 515.7,388.5 516.1,385.8 516.5,383.1 516.9,380.4 517.3,377.9 517.7,376.0 518.1,374.2 518.5,372.3 518.9,370.2 519.3,367.1 519.7,363.9 520.1,360.8 520.5,357.7 520.9,354.7 521.3,352.7 521.7,350.7 522.1,348.7 522.5,346.8 522.9,345.0 523.3,343.1 523.7,341.2 524.1,339.1 524.5,336.9 524.9,334.7 525.3,332.5 525.7,329.8 526.1,327.0 526.5,324.3 526.9,321.8 527.3,320.2 527.7,318.5 528.1,316.8 528.5,315.2 528.9,313.8 529.3,312.4 529.7,311.0 530.1,309.7 530.5,308.2 530.9,306.4 531.3,304.6 531.7,302.8 532.1,300.5 532.5,297.9 532.9,295.3 533.3,292.7 533.7,289.8 534.1,286.8 534.5,283.8 534.9,280.7 535.3,277.4 535.7,274.0 536.1,270.6 536.5,267.2 536.9,264.0 537.3,260.9 537.7,257.8 538.1,254.6 538.5,251.7 538.9,249.1 539.3,246.4 539.7,244.2 540.1,242.3 540.5,240.3 540.9,238.7 541.3,237.4 541.7,236.1 542.1,234.8 542.5,233.2 542.9,231.4 543.3,229.6 543.7,227.8 544.1,225.9 544.5,224.1 544.9,222.3 545.3,220.5 545.7,218.0 546.1,215.3 546.5,212.5 546.9,209.8 547.3,207.1 547.7,204.4 548.1,201.6 548.5,198.9 548.9,196.6 549.3,194.6 549.7,192.7 550.1,190.8 550.5,188.1 550.9,184.9 551.3,181.7 551.7,178.5 552.1,175.3 552.5,172.7 552.9,170.7 553.3,168.6 553.7,166.6 554.1,164.7 554.5,162.8 554.9,160.9 555.3,158.9 555.7,156.7 556.1,154.5 556.5,152.3 556.9,149.8 557.3,147.0 557.7,144.2 558.1,141.4 558.5,139.1 558.9,137.2 559.3,135.3 559.7,133.5 560.1,131.8 560.5,130.2 560.9,128.6 561.3,127.0 561.7,125.5 562.1,123.6 562.5,121.6 562.9,119.6 563.3,117.6 563.7,114.9 564.1,112.0 564.5,109.2 564.9,106.4 565.3,103.2 565.7,102.5 566.1,102.9 566.5,103.3 566.9,103.3 567.3,103.3 567.7,103.3 568.1,103.4 568.5,103.7 568.9,104.0 569.3,104.2 569.7,104.5 570.1,105.2 570.5,106.0 570.9,106.8 571.3,108.5 571.7,110.3 572.1,112.0 572.5,114.3 572.9,116.6 573.3,118.9 573.7,121.3 574.1,123.1 574.5,125.0 574.9,126.8 575.3,128.7 575.7,130.5 576.1,132.3 576.5,134.1 576.9,135.9 577.3,136.8 577.7,137.7 578.1,138.7 578.5,139.6 578.9,140.3 579.3,141.1 579.7,141.8 580.1,142.5 580.5,144.0 580.9,145.5 581.3,147.1 581.7,148.6 582.1,149.0 582.5,149.3 582.9,149.5 583.3,149.8 583.7,150.1 584.1,151.3 584.5,152.7 584.9,154.1 585.3,155.6 585.7,157.2 586.1,158.7 586.5,160.3 586.9,161.6 587.3,162.8 587.7,164.1 588.1,165.3 588.5,166.1 588.9,166.7 589.3,167.3 589.7,167.9 590.1,169.4 590.5,171.0 590.9,172.6 591.3,174.1 591.7,176.0 592.1,178.0 592.5,179.9 592.9,181.8 593.3,183.8 593.7,185.4 594.1,186.9 594.5,188.4 594.9,189.7 595.3,190.4 595.7,191.1 596.1,191.8 596.5,192.4 596.9,192.7 597.3,193.0 597.7,193.3 598.1,193.5 598.5,193.4 598.9,193.3 599.3,193.2 599.7,193.3 600.1,193.5 600.5,193.7 600.9,193.9 601.3,194.2 601.7,194.9 602.1,195.6 602.5,196.7 602.9,198.3 603.3,199.9 603.7,201.7 604.1,204.0 604.5,206.2 604.9,208.4 605.3,210.3 605.7,212.0 606.1,213.7 606.5,215.3 606.9,217.0 607.3,218.6 607.7,220.3 608.1,221.9 608.5,223.1 608.9,223.8 609.3,224.6 609.7,225.3 610.1,226.1 610.5,226.8 610.9,227.5 611.3,228.2 611.7,229.2 612.1,230.7 612.5,232.2 612.9,233.8 613.3,234.9 613.7,235.2 614.1,235.4 614.5,235.7 614.9,236.0 615.3,236.5 615.7,237.9 616.1,239.3 616.5,240.7 616.9,242.2 617.3,243.8 617.7,245.3 618.1,246.1 618.5,246.8 618.9,247.4 619.3,248.0 619.7,248.6 620.1,248.6 620.5,248.6 620.9,248.6 621.3,248.9 621.7,249.9 622.1,250.8 622.5,251.8 622.9,252.8 623.3,254.1 623.7,255.3 624.1,256.6 624.5,257.9 624.9,259.0 625.3,259.8 625.7,260.7 626.1,261.5 626.5,261.8 626.9,261.8 627.3,261.8 627.7,261.8 628.1,261.5 628.5,261.1 628.9,260.8 629.3,260.4 629.7,259.7 630.1,258.9 630.5,258.1 630.9,257.4 631.3,256.9 631.7,256.4 632.1,255.9 632.5,255.5 632.9,255.3 633.3,255.3 633.7,255.3 634.1,256.1 634.5,257.0 634.9,258.0 635.3,259.4 635.7,260.9 636.1,262.5 636.5,264.1 636.9,265.3 637.3,266.4 637.7,267.4 638.1,268.5 638.5,269.6 638.9,270.7 639.3,271.7 639.7,272.8 640.1,273.1 640.5,273.2 640.9,273.4 641.3,273.6 641.7,273.8 642.1,273.9 642.5,274.0 642.9,274.2 643.3,274.9 643.7,275.8 644.1,275.3 644.5,274.4 644.9,272.6 645.3,270.5 645.7,268.4 646.1,266.2 646.5,264.1 646.9,262.6 647.3,261.6 647.7,260.6 648.1,259.6 648.5,258.8 648.9,257.9 649.3,257.0 649.7,256.0 650.1,254.8 650.5,253.6 650.9,252.4 651.3,250.9 651.7,249.1 652.1,247.3 652.5,245.5 652.9,244.3 653.3,243.5 653.7,242.6 654.1,241.8 654.5,241.1 654.9,240.6 655.3,240.0 655.7,239.4 656.1,239.0 656.5,238.1 656.9,237.2 657.3,236.9 657.7,236.5 658.1,235.4 658.5,234.3 658.9,233.2 659.3,232.0 659.7,230.4 660.1,228.9 660.5,227.4 660.9,225.8 661.3,223.8 661.7,221.9 662.1,220.0 662.5,218.2 662.9,216.5 663.3,214.9 663.7,213.2 664.1,211.6 664.5,210.4 664.9,209.2 665.3,208.3 665.7,208.1 666.1,207.8 666.5,207.7 666.9,208.1 667.3,208.5 667.7,208.9 668.1,209.2 668.5,209.1 668.9,209.0 669.3,208.9 669.7,208.9 670.1,209.1 670.5,209.6 670.9,210.1 671.3,210.4 671.7,210.1 672.1,209.7 672.5,209.4 672.9,209.0 673.3,208.6 673.7,208.3 674.1,207.9 674.5,207.5 674.9,207.9 675.3,208.4 675.7,208.8 676.1,209.1 676.5,208.3 676.9,207.5 677.3,206.6 677.7,205.8 678.1,204.9 678.5,205.2 678.9,205.5 679.3,205.8 679.7,206.2 680.1,206.6 680.5,207.1 680.9,207.5 681.3,207.6 681.7,207.8 682.1,207.9 682.5,208.0 682.9,207.6 683.3,207.1 683.7,206.7 684.1,206.2 684.5,206.7 684.9,207.2 685.3,207.7 685.7,208.2 686.1,209.0 686.5,209.7 686.9,210.5 687.3,211.3 687.7,212.1 688.1,212.4 688.5,212.8 688.9,213.2 689.3,213.2 689.7,212.7 690.1,212.3 690.5,211.8 690.9,211.1 691.3,210.3 691.7,209.4 692.1,208.6 692.5,207.5 692.9,206.2 693.3,205.0 693.7,203.8 694.1,202.7 694.5,201.7 694.9,200.8 695.3,199.8 695.7,199.0 696.1,198.6 696.5,198.6 696.9,199.1 697.3,200.1 697.7,201.0 698.1,202.2 698.5,203.8 698.9,205.3 699.3,206.9 699.7,208.2 700.1,209.2 700.5,210.3 700.9,211.4 701.3,212.4 701.7,213.5 702.1,214.5 702.5,215.6 702.9,216.1 703.3,216.2 703.7,216.4 704.1,216.5 704.5,216.7 704.9,216.8 705.3,216.9 705.7,217.1 706.1,217.5 706.5,218.4 706.9,219.4 707.3,220.3 707.7,220.7 708.1,220.4 708.5,220.1 708.9,219.7 709.3,219.4 709.7,219.3 710.1,220.0 710.5,220.7 710.9,221.4 711.3,222.3 711.7,223.1 712.1,224.0 712.5,224.7 712.9,225.2 713.3,225.8 713.7,226.3 714.1,226.6 714.5,226.6 714.9,226.5 715.3,226.4 715.7,226.7 716.1,227.6 716.5,228.4 716.9,229.3 717.3,230.3 717.7,231.4 718.1,232.6 718.5,233.7 718.9,235.0 719.3,235.9 719.7,236.6 720.1,237.3 720.5,238.1 720.9,238.1 721.3,238.1 721.7,238.0 722.1,237.9 722.5,237.6 722.9,237.1 723.3,236.7 723.7,236.3 724.1,235.6 724.5,234.8 724.9,234.0 725.3,233.2 725.7,232.7 726.1,232.2 726.5,231.7 726.9,231.2 727.3,231.0 727.7,231.0 728.1,230.9 728.5,231.8 728.9,232.7 729.3,233.6 729.7,235.0 730.1,236.5 730.5,238.1 730.9,239.6 731.3,240.7 731.7,241.7 732.1,242.8 732.5,243.8 732.9,244.9 733.3,245.9 733.7,246.9 734.1,247.9 734.5,248.0 734.9,248.2 735.3,248.3 735.7,248.5 736.1,248.7 736.5,248.9 736.9,249.0 737.3,249.2 737.7,250.0 738.1,250.9 738.5,251.9 738.9,252.9 739.3,252.8 739.7,252.5 740.1,252.3 740.5,252.0 740.9,251.7 741.3,252.2 741.7,253.0 742.1,253.9 742.5,254.8 742.9,255.8 743.3,256.8 743.7,257.7 744.1,258.5 744.5,259.2 744.9,259.9 745.3,260.5 745.7,260.8 746.1,260.8 746.5,260.9 746.9,261.0 747.3,261.8 747.7,262.8 748.1,263.8 748.5,265.0 748.9,266.6 749.3,268.3 749.7,270.0 750.1,271.6 750.5,273.4 750.9,274.7 751.3,276.0 751.7,277.2 752.1,278.3 752.5,278.8 752.9,279.2 753.3,279.6 753.7,280.0 754.1,280.0 754.5,280.1 754.9,280.1 755.3,280.0 755.7,279.7 756.1,279.3 756.5,279.0 756.9,278.8 757.3,278.7 757.7,278.6 758.1,278.5 758.5,278.5 758.9,278.9 759.3,279.3 759.7,280.0 760.1,281.4 760.5,282.7 760.9,284.2 761.3,286.2 761.7,288.0 762.1,289.8 762.5,291.6 762.9,292.9 763.3,294.3 763.7,295.6 764.1,297.0 764.5,298.3 764.9,299.6 765.3,301.0 765.7,301.9 766.1,302.4 766.5,302.8 766.9,303.3 767.3,303.7 767.7,304.1 768.1,304.5 768.5,305.0 768.9,305.5 769.3,306.7 769.7,307.9 770.1,309.2 770.5,310.1 770.9,310.1 771.3,310.1 771.7,310.0 772.1,310.0 772.5,310.0 772.9,311.1 773.3,312.2 773.7,313.3 774.1,314.5 774.5,315.4 774.9,315.7 775.3,316.1 775.7,316.1 776.1,316.1 776.5,316.1 776.9,316.1 777.3,315.5 777.7,314.9 778.1,314.3 778.5,313.8 778.9,314.1 779.3,314.5 779.7,314.8 780.1,315.2 780.5,315.8 780.9,316.5 781.3,317.1 781.7,317.8 782.1,318.3 782.5,318.5 782.9,318.7 783.3,318.9 783.7,318.7 784.1,318.1 784.5,317.5 784.9,316.9 785.3,316.0 785.7,315.0 786.1,314.0 786.5,313.0 786.9,311.7 787.3,310.3 787.7,309.0 788.1,307.7 788.5,306.6 788.9,305.5 789.3,304.5 789.7,303.4 790.1,302.6 790.5,302.0 790.9,301.4 791.3,301.5 791.7,301.9 792.1,302.3 792.5,303.0 792.9,304.0 793.3,305.0 793.7,306.0 794.1,306.6 794.5,307.1 794.9,307.7 795.3,308.2 795.7,308.7 796.1,309.1 796.5,309.6 796.9,310.1 797.3,309.9 797.7,309.5 798.1,309.1 798.5,308.7 798.9,308.3 799.3,307.8 799.7,307.4 800.1,307.0 800.5,307.0 800.9,307.3 801.3,307.7 801.7,308.1 802.1,307.8 802.5,306.9 802.9,306.0 803.3,305.1 803.7,304.2 804.1,303.8 804.5,304.1 804.9,304.3 805.3,304.6 805.7,305.0 806.1,305.4 806.5,305.8 806.9,306.0 807.3,306.1 807.7,306.2 808.1,306.3 808.5,306.1 808.9,305.5 809.3,305.0 809.7,304.5 810.1,304.4 810.5,304.8 810.9,305.2 811.3,305.6 811.7,306.2 812.1,306.9 812.5,307.6 812.9,308.3 813.3,309.1 813.7,309.5 814.1,309.7 814.5,310.0 814.9,310.3 815.3,309.8 815.7,309.3 816.1,308.7 816.5,308.2 816.9,307.2 817.3,306.3 817.7,305.4 818.1,304.4 818.5,303.1 818.9,301.7 819.3,300.4 819.7,299.1 820.1,298.1 820.5,297.0 820.9,296.0 821.3,294.9 821.7,294.3 822.1,293.7 822.5,293.2 822.9,293.6 823.3,293.9 823.7,294.3 824.1,295.3 824.5,296.2 824.9,297.2 825.3,298.2 825.7,298.7 826.1,299.2 826.5,299.8 826.9,300.3 827.3,300.7 827.7,301.2 828.1,301.7 828.5,302.1 828.9,301.7 829.3,301.3 829.7,300.9 830.1,300.5 830.5,300.0 830.9,299.6 831.3,299.2 831.7,298.7 832.1,299.0 832.5,299.4 832.9,299.8 833.3,300.1 833.7,299.3 834.1,298.4 834.5,297.6 834.9,296.7 835.3,295.8 835.7,295.8 836.1,296.1 836.5,296.3 836.9,296.7 837.3,297.1 837.7,297.4 838.1,297.8 838.5,298.0 838.9,298.0 839.3,298.1 839.7,298.2 840.1,297.8 840.5,297.2 840.9,296.7 841.3,296.2 841.7,296.5 842.1,296.9 842.5,297.3 842.9,297.7 843.3,298.4 843.7,299.0 844.1,299.7 844.5,300.4 844.9,301.2 845.3,301.5 845.7,301.7 846.1,302.0 846.5,302.0 846.9,301.5 847.3,301.0 847.7,300.4 848.1,299.7 848.5,298.8 848.9,297.9 849.3,296.9 849.7,295.8 850.1,294.5 850.5,293.1 850.9,291.8 851.3,290.6 851.7,289.6 852.1,288.5 852.5,287.5 852.9,286.5 853.3,286.0 853.7,285.4 854.1,285.2 854.5,285.6 854.9,286.0 855.3,286.5 855.7,287.5 856.1,288.5 856.5,289.5 856.9,290.3 857.3,290.8 857.7,291.3 858.1,291.8 858.5,292.3 858.9,292.8 859.3,293.3 859.7,293.8 860.1,293.8 860.5,293.4 860.9,293.0 861.3,292.6 861.7,292.2 862.1,291.8 862.5,291.3 862.9,290.9 863.3,290.7 863.7,291.1 864.1,291.4 864.5,291.8 864.9,291.8 865.3,290.9 865.7,290.0 866.1,289.1 866.5,288.2 866.9,287.6 867.3,287.8 867.7,288.1 868.1,288.3 868.5,288.7 868.9,289.1 869.3,289.5 869.7,289.8 870.1,289.9 870.5,290.0 870.9,290.1 871.3,290.0 871.7,289.5 872.1,288.9 872.5,288.4 872.9,288.1 873.3,288.5 873.7,288.9 874.1,289.3 874.5,289.8 874.9,290.5 875.3,291.2 875.7,291.9 876.1,292.7 876.5,293.2 876.9,293.5 877.3,293.7 877.7,294.0 878.1,293.7 878.5,293.2 878.9,292.7 879.3,292.1 879.7,291.3 880.1,290.3 880.5,289.4 880.9,288.5 881.3,287.2 881.7,285.9 882.1,284.6 882.5,283.2 882.9,282.2 883.3,281.1 883.7,280.1 884.1,279.0 884.5,278.2 884.9,277.6 885.3,277.1 885.7,277.3 886.1,277.7 886.5,278.0 886.9,278.8 887.3,279.8 887.7,280.8 888.1,281.8 888.5,282.4 888.9,282.9 889.3,283.4 889.7,283.9 890.1,284.4 890.5,284.9 890.9,285.4 891.3,285.9 891.7,285.6 892.1,285.2 892.5,284.8 892.9,284.4 893.3,283.9 893.7,283.5 894.1,283.1 894.5,282.6 894.9,282.7 895.3,283.1 895.7,283.5 896.1,283.9 896.5,283.4 896.9,282.5 897.3,281.6 897.7,280.7 898.1,279.8 898.5,279.6 898.9,279.8 899.3,280.1 899.7,280.4 900.1,280.8 900.5,281.2 900.9,281.5 901.3,281.8 901.7,281.8 902.1,281.9 902.5,282.0 902.9,281.7 903.3,281.2 903.7,280.6 904.1,280.1 904.5,280.2 904.9,280.6 905.3,281.0 905.7,281.4 906.1,282.0 906.5,282.7 906.9,283.4 907.3,284.1 907.7,284.9 908.1,285.2 908.5,285.5 908.9,285.8 909.3,286.0 909.7,285.4 910.1,284.9 910.5,284.4 910.9,283.8 911.3,282.8 911.7,281.9 912.1,281.0 912.5,279.9 912.9,278.6 913.3,277.3 913.7,276.0 914.1,274.7 914.5,273.7 914.9,272.6 915.3,271.6 915.7,270.5 916.1,269.9 916.5,269.3 916.9,268.9 917.3,269.3 917.7,269.7 918.1,270.1 918.5,271.1 918.9,272.1 919.3,273.1 919.7,274.0 920.1,274.5 920.5,275.0 920.9,275.5 921.3,276.0 921.7,276.5 922.1,277.0 922.5,277.5 922.9,277.7 923.3,277.3 923.7,276.9 924.1,276.5 924.5,276.1 924.9,275.7 925.3,275.3 925.7,274.8 926.1,274.4 926.5,274.8 926.9,275.1 927.3,275.5 927.7,275.8 928.1,274.9 928.5,274.0 928.9,273.2 929.3,272.3 929.7,271.4 930.1,271.6 930.5,271.8 930.9,272.1 931.3,272.4 931.7,272.8 932.1,273.2 932.5,273.6 932.9,273.7 933.3,273.8 933.7,273.8 934.1,273.9 934.5,273.4 934.9,272.9 935.3,272.3 935.7,271.8 936.1,272.2 936.5,272.6 936.9,273.0 937.3,273.5 937.7,274.2 938.1,274.8 938.5,275.5" fill="none" stroke="#0072B2" stroke-width="2.45" stroke-linejoin="round" stroke-linecap="butt"/>
<polygon points="938.5,276.2 939.6,275.0 940.8,274.3 942.1,274.2 943.3,273.8 944.2,273.9 945.1,274.3 945.1,277.5 944.2,278.3 943.3,279.0 942.1,280.4 940.8,280.8 939.6,280.0 938.5,278.8" fill="#0072B2"/>
<path d="M940.7 226.0h0M940.1 224.0h0M940.6 222.0h0M940.5 220.5h0M940.6 219.6h0M940.7 221.0h0M940.4 223.0h0M940.8 225.0h0M940.7 227.0h0M941.4 226.0h0M941.0 228.0h0M941.0 230.0h0M941.1 231.5h0M941.1 233.0h0M941.1 232.0h0M941.2 230.0h0M941.4 228.0h0M941.3 229.0h0M941.6 231.0h0M941.5 232.8h0" stroke="#f00" stroke-width="5.5" stroke-linecap="round" fill="none"/>
</g>
<rect x="80.5" y="15.5" width="905.0" height="527.0" fill="none" stroke="#000" stroke-width="1.2"/>
<path d="M152.50 542.5v5.4M278.50 542.5v5.4M404.50 542.5v5.4M530.50 542.5v5.4M656.50 542.5v5.4M781.50 542.5v5.4M907.50 542.5v5.4M80.5 535.50h-5.4M80.5 472.50h-5.4M80.5 408.50h-5.4M80.5 345.50h-5.4M80.5 282.50h-5.4M80.5 219.50h-5.4M80.5 156.50h-5.4M80.5 92.50h-5.4M80.5 29.50h-5.4" stroke="#000" stroke-width="1.11" fill="none"/>
<g font-family="'Liberation Sans', sans-serif" font-size="14.0" fill="#000" opacity="0.999">
<text transform="translate(151.50 562.5) scale(1.120 1)" text-anchor="middle">2001</text>
<text transform="translate(277.50 562.5) scale(1.120 1)" text-anchor="middle">2005</text>
<text transform="translate(403.50 562.5) scale(1.120 1)" text-anchor="middle">2009</text>
<text transform="translate(529.50 562.5) scale(1.120 1)" text-anchor="middle">2013</text>
<text transform="translate(655.50 562.5) scale(1.120 1)" text-anchor="middle">2017</text>
<text transform="translate(780.50 562.5) scale(1.120 1)" text-anchor="middle">2021</text>
<text transform="translate(906.50 562.5) scale(1.120 1)" text-anchor="middle">2025</text>
<text transform="translate(69.3 540.10) scale(1.120 1)" text-anchor="end">0</text>
<text transform="translate(69.3 477.10) scale(1.120 1)" text-anchor="end">200</text>
<text transform="translate(69.3 413.10) scale(1.120 1)" text-anchor="end">400</text>
<text transform="translate(69.3 350.10) scale(1.120 1)" text-anchor="end">600</text>
<text transform="translate(69.3 287.10) scale(1.120 1)" text-anchor="end">800</text>
<text transform="translate(69.3 224.10) scale(1.120 1)" text-anchor="end">1000</text>
<text transform="translate(69.3 161.10) scale(1.120 1)" text-anchor="end">1200</text>
<text transform="translate(69.3 97.10) scale(1.120 1)" text-anchor="end">1400</text>
<text transform="translate(69.3 34.10) scale(1.120 1)" text-anchor="end">1600</text>
<text transform="translate(532.6 581.8) scale(1.120 1)" text-anchor="middle">ds</text>
<text transform="translate(24.5 279) rotate(-90) scale(1.120 1)" text-anchor="middle">y</text>
</g>
</svg>
</body></html>
